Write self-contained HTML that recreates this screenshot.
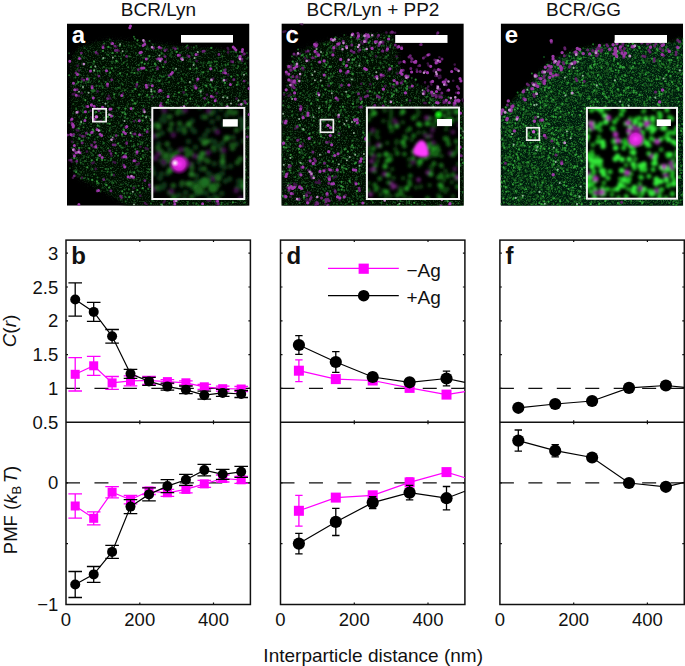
<!DOCTYPE html><html><head><meta charset="utf-8"><style>html,body{margin:0;padding:0;background:#fff;overflow:hidden}svg{display:block}text{font-family:"Liberation Sans",sans-serif;fill:#111}</style></head><body><svg width="685" height="666" viewBox="0 0 685 666"><rect width="685" height="666" fill="#fff"/><defs><filter id="bb" x="-50%" y="-50%" width="200%" height="200%"><feGaussianBlur stdDeviation="1.6"/></filter><filter id="hz" x="-10%" y="-10%" width="120%" height="120%"><feGaussianBlur stdDeviation="2.5"/></filter><filter id="dotblur" x="-5%" y="-5%" width="110%" height="110%"><feGaussianBlur stdDeviation="0.65"/></filter><filter id="graina" x="0" y="0" width="1" height="1" color-interpolation-filters="sRGB"><feTurbulence type="fractalNoise" baseFrequency="0.8" numOctaves="2" seed="5"/><feColorMatrix type="matrix" values="0 0 0 0 0.3 0 0 0 0 0.7 0 0 0 0 0.38 1.3 0 0 0 -0.650"/><feGaussianBlur stdDeviation="0.7"/></filter><filter id="grainc" x="0" y="0" width="1" height="1" color-interpolation-filters="sRGB"><feTurbulence type="fractalNoise" baseFrequency="0.8" numOctaves="2" seed="6"/><feColorMatrix type="matrix" values="0 0 0 0 0.3 0 0 0 0 0.7 0 0 0 0 0.38 1.4 0 0 0 -0.700"/><feGaussianBlur stdDeviation="0.7"/></filter><filter id="graine" x="0" y="0" width="1" height="1" color-interpolation-filters="sRGB"><feTurbulence type="fractalNoise" baseFrequency="0.8" numOctaves="2" seed="7"/><feColorMatrix type="matrix" values="0 0 0 0 0.25 0 0 0 0 0.8 0 0 0 0 0.3 1.7 0 0 0 -0.816"/><feGaussianBlur stdDeviation="0.7"/></filter><filter id="insblur" x="-5%" y="-5%" width="110%" height="110%"><feGaussianBlur stdDeviation="1.5"/></filter><clipPath id="clipa"><rect x="67.0" y="23.5" width="182.5" height="182.2"/></clipPath><clipPath id="iclipa"><rect x="151.3" y="106.9" width="94.0" height="93.1"/></clipPath><clipPath id="clipc"><rect x="281.4" y="23.4" width="182.4" height="182.3"/></clipPath><clipPath id="iclipc"><rect x="365.9" y="106.6" width="94.1" height="93.4"/></clipPath><clipPath id="clipe"><rect x="500.7" y="23.4" width="182.4" height="182.3"/></clipPath><clipPath id="iclipe"><rect x="585.9" y="106.9" width="92.1" height="92.8"/></clipPath></defs><defs><radialGradient id="bm"><stop offset="0" stop-color="#ff30ff"/><stop offset="0.55" stop-color="#e020e0" stop-opacity="0.9"/><stop offset="1" stop-color="#a000a0" stop-opacity="0"/></radialGradient><radialGradient id="bw"><stop offset="0" stop-color="#fff"/><stop offset="1" stop-color="#fff" stop-opacity="0"/></radialGradient><radialGradient id="bg"><stop offset="0" stop-color="#20ff20"/><stop offset="0.5" stop-color="#10d010" stop-opacity="0.8"/><stop offset="1" stop-color="#008000" stop-opacity="0"/></radialGradient></defs><g clip-path="url(#clipa)"><rect x="67.0" y="23.5" width="182.5" height="182.2" fill="#000"/><mask id="cellma" maskUnits="userSpaceOnUse" x="62.0" y="18.5" width="192.5" height="192.2"><path d="M70.0 63.5 L73.0 54.5 L79.0 47.5 L88.0 44.5 L97.0 41.5 L109.0 39.5 L137.0 41.5 L167.0 44.5 L197.0 47.5 L239.0 50.5 L247.0 57.5 L249.0 113.5 L248.0 206.5 L127.0 206.5 L117.0 199.5 L107.0 193.5 L96.0 187.5 L85.0 181.5 L77.0 177.5 L72.0 167.5Z" fill="#fff" filter="url(#hz)"/></mask><path d="M70.0 63.5 L73.0 54.5 L79.0 47.5 L88.0 44.5 L97.0 41.5 L109.0 39.5 L137.0 41.5 L167.0 44.5 L197.0 47.5 L239.0 50.5 L247.0 57.5 L249.0 113.5 L248.0 206.5 L127.0 206.5 L117.0 199.5 L107.0 193.5 L96.0 187.5 L85.0 181.5 L77.0 177.5 L72.0 167.5Z" fill="#051006" filter="url(#hz)"/><rect x="67.0" y="23.5" width="182.5" height="182.2" filter="url(#graina)" mask="url(#cellma)"/><g filter="url(#dotblur)"><path d="M109.8 39.4h0M145.4 42.1h0M137.3 44.0h0M152.9 44.6h0M124.1 46.0h0M128.7 45.6h0M131.3 46.1h0M196.3 45.9h0M135.3 47.3h0M147.5 47.3h0M84.5 47.9h0M110.4 47.7h0M164.4 48.4h0M211.6 47.7h0M148.3 49.3h0M155.6 50.4h0M158.4 49.6h0M170.8 50.1h0M174.8 50.3h0M88.2 51.0h0M223.8 51.2h0M94.3 51.7h0M126.2 51.6h0M140.8 51.8h0M171.4 52.4h0M231.1 51.8h0M233.8 51.8h0M69.1 53.2h0M121.3 53.0h0M135.9 53.1h0M179.8 52.9h0M181.2 52.8h0M191.9 53.5h0M246.9 53.1h0M106.8 54.3h0M170.5 54.3h0M205.1 53.6h0M137.8 55.0h0M164.3 54.7h0M192.4 55.2h0M241.6 55.2h0M128.6 56.2h0M170.1 55.6h0M171.6 56.5h0M195.7 55.6h0M78.7 57.0h0M82.1 56.8h0M187.7 56.5h0M248.0 57.4h0M84.2 58.3h0M104.9 57.9h0M142.9 57.8h0M144.8 57.7h0M147.8 58.4h0M218.5 57.7h0M157.2 59.2h0M247.3 58.8h0M190.0 59.6h0M196.2 60.5h0M127.2 60.6h0M178.1 60.6h0M113.0 61.6h0M140.7 62.5h0M160.7 62.2h0M181.2 61.5h0M188.5 61.6h0M190.5 61.6h0M193.2 62.2h0M210.2 62.4h0M210.6 62.2h0M88.0 62.7h0M111.7 62.8h0M155.3 63.2h0M201.2 62.8h0M203.6 62.9h0M209.9 63.3h0M238.7 62.6h0M241.3 63.3h0M93.7 64.1h0M121.9 64.3h0M127.3 64.1h0M227.7 64.4h0M164.3 64.6h0M203.1 65.2h0M233.0 65.2h0M215.3 66.3h0M221.8 65.5h0M234.3 65.6h0M150.6 67.0h0M246.7 67.4h0M109.5 68.5h0M173.5 68.3h0M77.4 69.4h0M77.7 69.0h0M106.3 68.7h0M133.8 68.6h0M139.0 68.6h0M194.2 68.9h0M233.6 69.4h0M244.6 69.1h0M80.6 69.8h0M132.4 70.2h0M113.6 71.1h0M150.6 70.6h0M196.8 71.8h0M201.4 72.1h0M137.7 73.2h0M137.3 72.9h0M140.4 72.8h0M155.1 72.8h0M178.3 72.7h0M196.2 72.5h0M202.1 72.7h0M223.4 72.7h0M242.8 72.6h0M109.4 73.7h0M117.9 74.5h0M182.9 74.2h0M200.6 74.3h0M241.6 74.2h0M95.4 74.6h0M165.6 75.2h0M171.3 75.3h0M186.3 75.0h0M109.8 75.9h0M122.0 76.1h0M153.5 75.9h0M88.0 77.2h0M172.8 77.1h0M204.4 77.3h0M223.9 77.0h0M149.4 77.5h0M173.5 78.2h0M221.7 78.2h0M237.6 78.5h0M166.6 79.2h0M223.7 78.7h0M125.6 79.8h0M148.7 80.2h0M154.5 79.8h0M158.2 79.9h0M160.6 80.1h0M207.2 79.9h0M208.5 80.4h0M222.9 80.3h0M118.8 80.7h0M157.4 81.0h0M183.2 81.2h0M222.4 81.2h0M81.6 81.8h0M90.1 82.3h0M109.8 81.8h0M184.9 82.5h0M216.8 82.3h0M85.8 82.9h0M121.8 83.2h0M132.4 83.2h0M150.7 83.4h0M190.4 83.3h0M247.9 82.9h0M101.5 83.8h0M162.8 84.0h0M238.6 84.2h0M75.2 85.0h0M80.7 84.9h0M80.9 85.4h0M152.4 84.7h0M202.9 84.6h0M224.6 85.2h0M90.9 86.2h0M102.4 86.1h0M139.1 86.3h0M193.2 85.9h0M196.6 86.2h0M210.9 86.3h0M193.4 87.3h0M216.1 86.8h0M244.1 87.2h0M82.9 88.1h0M120.1 88.1h0M214.4 87.7h0M115.4 88.7h0M117.0 88.9h0M199.0 88.5h0M73.6 89.9h0M94.6 90.3h0M125.6 90.0h0M202.8 89.6h0M122.4 90.6h0M143.4 91.0h0M199.4 91.0h0M84.9 92.1h0M91.9 91.6h0M97.1 91.7h0M218.3 91.8h0M222.3 92.0h0M102.7 93.8h0M102.0 94.4h0M119.2 94.3h0M140.5 94.4h0M184.4 94.5h0M185.9 94.2h0M200.7 93.8h0M239.7 93.6h0M130.4 95.0h0M139.4 95.1h0M192.3 94.8h0M114.1 96.4h0M123.3 96.5h0M146.6 96.4h0M159.2 96.1h0M167.9 96.4h0M216.3 96.4h0M224.9 96.1h0M225.9 96.3h0M239.7 95.7h0M92.8 96.6h0M92.5 96.9h0M155.8 96.5h0M178.9 97.2h0M83.5 98.5h0M114.6 98.1h0M163.5 98.1h0M149.8 99.4h0M206.7 99.1h0M215.6 99.5h0M246.8 99.4h0M178.2 99.7h0M238.5 100.3h0M171.2 101.3h0M196.2 100.6h0M108.0 102.3h0M137.2 101.8h0M244.1 102.1h0M245.1 101.9h0M149.4 103.1h0M160.1 102.8h0M168.4 103.4h0M177.1 103.0h0M219.4 102.9h0M221.8 103.3h0M73.4 104.1h0M128.3 104.0h0M132.8 104.1h0M185.1 103.9h0M195.0 104.3h0M205.5 104.5h0M220.7 104.3h0M236.4 103.9h0M112.1 104.7h0M113.4 104.9h0M161.4 104.7h0M221.9 105.3h0M82.4 105.7h0M108.3 106.0h0M127.4 105.9h0M197.3 105.6h0M156.3 107.4h0M161.8 106.7h0M83.9 107.5h0M161.8 108.3h0M168.7 108.4h0M161.4 109.0h0M176.7 108.7h0M186.4 108.5h0M218.0 108.5h0M82.6 110.3h0M104.8 109.9h0M159.0 111.4h0M158.4 110.9h0M176.6 111.1h0M190.5 110.8h0M226.5 110.7h0M236.8 111.2h0M237.9 111.3h0M138.1 112.3h0M73.0 113.4h0M124.4 113.4h0M125.4 113.4h0M135.1 113.1h0M156.7 113.4h0M196.8 112.9h0M169.5 114.0h0M176.4 114.0h0M111.3 114.5h0M162.2 115.3h0M138.9 115.9h0M146.5 115.7h0M186.3 116.4h0M210.3 116.0h0M215.7 116.3h0M79.2 116.7h0M120.0 117.0h0M133.2 117.2h0M148.3 116.6h0M152.9 116.5h0M188.8 117.1h0M125.0 117.9h0M145.7 118.0h0M169.0 117.6h0M188.6 118.3h0M213.3 117.9h0M224.5 118.5h0M140.0 119.5h0M227.7 118.8h0M111.4 120.1h0M215.0 120.3h0M226.5 119.6h0M240.8 119.6h0M241.3 120.0h0M81.2 121.2h0M151.2 120.5h0M163.1 121.2h0M199.7 120.6h0M244.8 121.3h0M147.5 122.4h0M176.3 122.1h0M218.8 121.5h0M69.3 122.8h0M80.5 123.3h0M99.5 123.3h0M103.3 123.2h0M118.7 122.9h0M131.3 122.6h0M91.1 123.9h0M166.7 123.8h0M205.1 123.9h0M215.5 123.5h0M134.8 125.3h0M164.1 124.6h0M206.6 125.2h0M239.8 125.0h0M115.2 126.0h0M120.8 126.1h0M139.2 126.1h0M147.7 125.9h0M181.5 125.7h0M194.5 126.3h0M224.6 125.8h0M231.0 126.5h0M110.4 127.4h0M151.7 126.6h0M180.7 126.8h0M188.4 127.1h0M195.6 127.4h0M201.7 126.7h0M223.7 127.1h0M232.2 126.6h0M239.1 126.9h0M248.2 127.0h0M140.3 128.0h0M151.9 127.7h0M168.6 127.9h0M219.9 128.3h0M76.8 129.2h0M109.8 129.0h0M193.3 128.6h0M98.4 129.8h0M156.1 129.7h0M185.5 130.3h0M202.2 129.5h0M204.8 129.5h0M213.2 129.9h0M206.3 131.5h0M115.6 131.6h0M132.1 133.9h0M199.1 133.6h0M114.0 135.1h0M203.0 134.6h0M220.3 134.5h0M84.1 136.1h0M122.2 135.9h0M180.4 135.6h0M200.2 135.7h0M216.7 135.5h0M213.1 138.2h0M222.7 137.6h0M94.9 139.4h0M146.7 139.2h0M151.4 138.9h0M124.0 139.9h0M109.2 140.7h0M127.0 141.3h0M139.4 141.2h0M141.0 142.0h0M180.8 142.1h0M77.8 143.5h0M232.5 142.9h0M103.9 143.6h0M154.6 144.4h0M158.3 144.9h0M170.2 145.3h0M85.7 146.0h0M120.1 146.0h0M175.8 145.7h0M225.9 146.0h0M234.3 145.8h0M189.8 146.6h0M190.6 146.8h0M218.9 147.2h0M220.2 147.2h0M71.7 147.7h0M73.6 148.2h0M81.5 147.7h0M101.8 147.8h0M198.5 148.3h0M222.8 148.4h0M127.3 149.4h0M146.2 149.4h0M209.1 149.0h0M180.6 150.2h0M103.8 150.5h0M138.7 150.8h0M173.7 151.0h0M178.5 151.1h0M206.9 151.0h0M210.2 151.0h0M174.8 152.1h0M219.8 152.5h0M91.3 153.1h0M199.0 153.2h0M145.2 154.5h0M230.5 154.4h0M93.3 154.9h0M124.8 155.3h0M135.2 155.1h0M142.9 154.9h0M74.2 155.8h0M84.1 156.1h0M92.0 155.6h0M114.8 156.1h0M165.6 155.5h0M176.4 156.1h0M179.5 155.8h0M204.0 155.8h0M238.3 156.1h0M240.5 156.6h0M246.4 156.9h0M76.3 158.4h0M83.4 158.1h0M126.9 158.5h0M150.5 157.8h0M175.3 158.4h0M219.8 158.4h0M71.5 159.5h0M168.8 159.4h0M80.5 160.0h0M198.7 159.6h0M108.2 160.7h0M188.2 160.9h0M209.1 161.3h0M243.3 160.5h0M183.1 161.6h0M217.7 161.7h0M236.6 161.8h0M237.5 162.2h0M91.0 162.6h0M92.4 162.9h0M143.4 163.5h0M83.3 164.2h0M137.0 163.9h0M172.8 164.9h0M180.2 165.1h0M201.9 165.5h0M218.5 165.0h0M125.5 165.8h0M136.1 165.8h0M157.8 166.3h0M218.7 165.7h0M226.8 166.1h0M125.9 166.6h0M137.3 167.3h0M70.0 168.3h0M135.5 168.3h0M148.1 169.1h0M183.9 169.2h0M184.4 169.1h0M237.7 168.6h0M75.5 169.9h0M171.5 169.8h0M74.2 171.0h0M76.6 170.7h0M101.7 171.1h0M137.7 170.5h0M189.2 170.6h0M81.1 172.1h0M107.2 172.3h0M111.1 172.2h0M139.0 171.5h0M141.8 171.6h0M169.3 171.6h0M197.0 172.3h0M245.2 172.4h0M111.5 173.3h0M124.8 173.4h0M127.4 173.0h0M131.9 172.6h0M201.4 173.1h0M78.0 173.8h0M79.7 174.4h0M200.8 174.1h0M87.7 175.2h0M185.9 174.8h0M243.4 174.8h0M205.7 175.7h0M236.7 176.1h0M152.2 176.8h0M230.2 177.3h0M244.9 176.6h0M165.2 177.6h0M165.2 178.0h0M180.1 178.0h0M194.6 177.8h0M207.2 177.8h0M248.4 177.6h0M107.0 179.4h0M127.5 178.8h0M146.7 178.6h0M183.7 178.9h0M234.3 179.2h0M109.3 180.4h0M134.0 179.7h0M136.6 179.6h0M140.0 180.4h0M152.0 180.0h0M161.1 180.4h0M209.8 179.9h0M216.5 179.7h0M230.5 180.2h0M232.9 180.0h0M96.7 180.9h0M112.3 181.2h0M160.1 181.3h0M192.6 181.2h0M111.7 182.2h0M115.3 181.6h0M233.1 182.1h0M98.9 183.4h0M200.2 182.5h0M105.0 183.9h0M120.8 184.4h0M121.9 184.5h0M125.7 183.6h0M171.1 183.8h0M196.0 183.9h0M224.8 183.7h0M127.5 184.9h0M163.3 184.6h0M222.6 185.4h0M135.1 185.9h0M216.1 185.8h0M102.8 187.4h0M221.6 188.2h0M218.9 189.4h0M96.7 190.1h0M107.4 190.3h0M152.0 190.1h0M152.1 189.5h0M199.8 190.1h0M234.5 189.9h0M100.4 191.4h0M145.6 190.7h0M193.8 190.7h0M225.3 190.9h0M186.1 192.4h0M187.6 191.9h0M197.9 192.0h0M127.3 193.1h0M156.2 192.9h0M169.8 193.2h0M186.6 192.6h0M238.3 193.0h0M214.5 194.3h0M134.9 194.5h0M184.7 195.0h0M233.5 195.3h0M235.5 195.0h0M124.6 196.3h0M136.1 195.8h0M155.5 196.4h0M176.1 195.6h0M196.2 195.9h0M199.7 196.0h0M228.9 195.8h0M234.8 196.3h0M187.2 197.0h0M221.0 197.5h0M157.1 198.2h0M204.5 197.8h0M218.2 197.8h0M137.7 198.6h0M190.6 199.3h0M213.6 198.8h0M120.7 199.8h0M134.2 200.4h0M134.4 200.5h0M175.6 200.4h0M239.1 199.8h0M240.7 199.9h0M243.3 199.9h0M152.3 200.7h0M209.1 201.3h0M193.6 203.1h0M216.8 202.9h0M227.3 203.4h0M243.8 202.9h0M196.0 204.3h0M227.9 203.9h0M169.5 205.4h0M224.8 204.6h0M187.2 206.3h0M205.5 205.5h0" stroke="#154a1c" stroke-width="2.0" stroke-linecap="round"/><path d="M133.9 36.8h0M134.8 38.8h0M149.6 41.1h0M144.9 43.4h0M104.1 43.8h0M139.9 45.7h0M187.3 45.5h0M186.3 46.8h0M193.8 47.5h0M146.5 49.1h0M177.4 48.6h0M236.1 52.0h0M240.0 52.0h0M117.1 52.6h0M139.8 53.4h0M161.7 53.0h0M81.1 54.2h0M161.7 53.8h0M108.3 55.0h0M124.0 55.2h0M141.0 55.3h0M115.1 56.1h0M129.9 56.4h0M222.3 56.3h0M237.7 55.9h0M120.9 58.4h0M102.7 58.9h0M147.8 58.6h0M158.6 60.8h0M214.8 61.5h0M216.6 61.4h0M209.0 61.8h0M123.7 62.8h0M207.9 63.2h0M211.6 62.5h0M148.1 63.6h0M194.0 63.8h0M216.9 64.5h0M225.4 64.4h0M228.0 64.3h0M245.0 63.7h0M138.8 65.1h0M155.8 65.2h0M225.6 65.4h0M238.3 66.3h0M103.9 66.9h0M115.6 67.4h0M128.2 67.3h0M216.7 68.0h0M237.2 68.2h0M152.7 69.4h0M94.3 69.8h0M146.2 70.0h0M214.6 70.2h0M223.4 69.7h0M94.1 71.1h0M97.6 70.9h0M99.6 71.1h0M174.7 70.6h0M208.2 71.4h0M220.3 71.2h0M131.7 72.6h0M77.8 73.6h0M79.4 74.4h0M228.3 73.9h0M246.2 73.5h0M69.1 75.2h0M127.1 74.5h0M237.5 75.0h0M237.7 75.3h0M159.8 75.6h0M161.6 76.5h0M75.5 77.5h0M163.7 76.6h0M82.3 77.7h0M94.3 78.4h0M89.1 78.9h0M151.8 79.0h0M181.5 78.5h0M192.7 79.4h0M88.8 80.0h0M181.8 79.8h0M81.9 80.9h0M99.2 81.2h0M151.5 80.9h0M223.5 80.8h0M81.1 82.3h0M88.1 82.2h0M105.8 81.9h0M169.1 82.0h0M237.7 82.3h0M178.2 83.2h0M76.9 83.7h0M122.8 84.4h0M205.2 85.3h0M96.4 86.0h0M99.6 86.2h0M185.5 87.1h0M211.8 87.4h0M227.7 87.4h0M102.7 87.7h0M118.8 87.7h0M93.2 89.4h0M92.0 90.4h0M124.7 90.3h0M192.1 90.3h0M94.4 90.7h0M132.5 91.1h0M151.9 91.5h0M199.5 90.8h0M212.0 90.7h0M93.0 91.8h0M168.8 94.0h0M174.6 94.0h0M151.4 94.6h0M152.2 94.5h0M186.7 94.5h0M123.1 95.6h0M173.7 96.2h0M201.0 95.8h0M149.2 97.3h0M186.1 100.4h0M244.5 100.2h0M185.8 100.8h0M187.4 103.2h0M242.9 103.4h0M227.1 104.2h0M242.0 104.3h0M205.1 105.2h0M213.8 105.3h0M143.4 106.1h0M198.8 106.4h0M118.8 108.5h0M118.9 107.6h0M118.5 107.7h0M165.5 108.3h0M76.1 109.1h0M182.2 108.8h0M219.0 109.4h0M224.3 108.7h0M152.2 109.5h0M212.1 109.5h0M215.6 110.7h0M83.1 112.2h0M88.8 111.9h0M124.3 112.0h0M151.9 111.5h0M100.7 112.9h0M192.0 112.6h0M194.7 113.3h0M136.0 114.1h0M207.3 113.9h0M217.0 113.7h0M241.0 114.4h0M113.3 116.0h0M164.1 115.5h0M104.1 117.5h0M125.0 117.3h0M127.4 118.4h0M153.5 118.0h0M149.8 118.5h0M104.8 120.0h0M135.5 120.2h0M221.4 120.1h0M232.2 120.4h0M187.7 122.5h0M218.9 122.5h0M83.6 123.4h0M80.1 124.4h0M107.9 123.6h0M182.8 124.3h0M242.0 124.2h0M73.7 125.1h0M121.7 125.2h0M99.5 126.4h0M157.8 126.4h0M83.5 127.2h0M232.1 128.3h0M162.1 128.6h0M248.1 128.5h0M233.8 129.9h0M100.4 130.6h0M109.5 130.8h0M221.0 132.1h0M131.2 133.5h0M176.0 133.2h0M189.7 132.9h0M193.5 132.9h0M122.0 134.4h0M110.8 136.3h0M118.1 135.6h0M173.6 136.3h0M83.3 137.3h0M97.6 137.3h0M138.3 136.6h0M88.6 138.0h0M183.9 138.0h0M185.4 138.2h0M185.5 138.0h0M193.2 138.2h0M210.3 138.0h0M244.6 138.2h0M194.7 139.5h0M203.2 139.4h0M229.7 139.3h0M83.3 140.3h0M176.5 140.1h0M215.0 139.7h0M131.0 140.7h0M161.5 140.8h0M182.8 141.4h0M228.9 140.5h0M232.9 140.9h0M73.2 142.3h0M103.7 142.9h0M142.5 142.8h0M177.0 142.9h0M138.2 144.3h0M140.7 144.3h0M217.0 144.0h0M134.0 145.3h0M147.5 145.4h0M119.9 145.7h0M133.2 146.2h0M221.2 146.4h0M121.6 147.4h0M232.4 146.7h0M96.9 147.9h0M108.2 148.2h0M122.6 147.8h0M212.6 148.2h0M217.3 148.1h0M135.3 149.2h0M238.5 148.7h0M157.7 149.6h0M202.8 149.7h0M93.4 150.7h0M171.0 151.3h0M205.9 150.7h0M239.7 151.5h0M135.4 152.3h0M151.2 152.1h0M160.6 151.8h0M197.4 151.6h0M161.6 153.1h0M161.3 153.6h0M98.0 155.4h0M99.4 155.7h0M118.1 155.7h0M231.3 156.3h0M88.4 157.2h0M143.4 157.3h0M189.0 157.3h0M238.9 156.7h0M97.8 157.9h0M111.3 158.4h0M188.3 158.0h0M212.6 158.1h0M184.4 158.9h0M77.1 160.1h0M104.9 159.9h0M110.6 160.3h0M237.6 160.4h0M85.0 161.1h0M167.8 161.2h0M180.1 161.1h0M244.8 161.2h0M80.8 162.8h0M173.3 163.5h0M197.2 164.6h0M176.8 165.8h0M239.1 165.7h0M239.3 167.1h0M110.9 168.2h0M92.3 169.0h0M105.6 168.9h0M108.2 169.1h0M239.1 168.6h0M149.5 169.5h0M107.8 171.5h0M158.4 171.0h0M130.0 172.0h0M148.0 171.9h0M189.6 172.1h0M195.1 172.7h0M94.3 174.2h0M111.2 175.1h0M111.8 174.5h0M190.0 175.4h0M229.0 174.9h0M97.5 177.5h0M205.9 177.5h0M220.6 176.8h0M244.3 177.1h0M80.9 178.5h0M84.0 178.2h0M132.2 178.1h0M232.3 177.6h0M232.4 178.3h0M244.3 177.6h0M88.4 179.1h0M155.9 180.3h0M172.1 180.5h0M188.7 181.6h0M218.0 181.8h0M97.5 183.2h0M98.3 183.0h0M113.1 182.9h0M155.2 182.9h0M189.4 182.7h0M200.0 184.0h0M171.5 184.7h0M214.0 184.9h0M130.8 186.0h0M138.6 185.7h0M193.1 186.2h0M133.5 186.9h0M178.7 186.9h0M240.1 187.5h0M244.0 186.8h0M171.1 188.1h0M178.3 187.6h0M184.0 188.5h0M212.7 188.4h0M223.9 188.3h0M128.9 189.5h0M148.3 189.1h0M192.7 188.7h0M124.5 189.6h0M197.5 189.9h0M139.9 192.4h0M157.8 191.7h0M204.7 192.4h0M225.7 191.7h0M243.7 191.6h0M170.3 192.8h0M171.0 192.8h0M176.3 193.0h0M236.0 192.6h0M124.2 193.6h0M130.5 193.6h0M228.5 193.9h0M161.6 194.5h0M171.8 194.7h0M218.1 194.8h0M226.2 195.0h0M220.4 195.7h0M125.5 197.0h0M153.0 197.1h0M202.2 197.1h0M219.4 198.1h0M171.3 200.0h0M179.0 200.1h0M218.6 199.5h0M214.7 201.4h0M125.7 201.6h0M177.2 201.6h0M187.9 202.0h0M245.1 202.4h0M151.0 203.5h0M169.3 203.0h0M196.6 203.4h0M221.7 202.8h0M187.6 204.0h0M202.8 205.4h0M221.3 204.6h0M145.5 206.0h0M181.0 205.8h0" stroke="#206a28" stroke-width="2.0" stroke-linecap="round"/><path d="M137.5 40.3h0M119.7 45.8h0M108.4 46.9h0M211.2 48.0h0M103.0 51.0h0M176.6 51.9h0M112.5 53.0h0M149.4 56.2h0M182.6 57.6h0M241.4 60.4h0M116.2 60.8h0M116.8 61.4h0M94.1 61.6h0M142.0 62.5h0M144.7 63.8h0M154.9 63.9h0M210.3 65.7h0M91.0 67.1h0M163.2 67.0h0M111.9 68.3h0M196.6 68.3h0M190.2 68.9h0M221.2 70.9h0M203.3 72.3h0M110.2 72.6h0M120.1 73.4h0M134.5 73.0h0M168.9 76.9h0M231.3 76.6h0M159.5 81.1h0M212.2 80.6h0M78.3 82.1h0M137.3 82.3h0M225.0 82.9h0M148.3 85.2h0M210.3 84.6h0M236.9 84.8h0M206.4 85.9h0M135.3 88.9h0M185.7 90.1h0M201.0 90.4h0M215.5 89.6h0M154.5 91.5h0M179.0 92.5h0M114.2 94.3h0M139.2 94.6h0M147.2 95.0h0M153.0 97.4h0M92.8 97.8h0M190.3 98.8h0M85.3 100.1h0M99.3 100.5h0M132.3 100.3h0M168.1 99.8h0M166.6 102.4h0M208.4 102.4h0M134.6 103.4h0M135.5 103.6h0M247.1 103.8h0M133.4 108.4h0M125.3 108.7h0M133.1 108.7h0M224.4 109.2h0M77.9 111.5h0M96.1 112.0h0M122.4 112.5h0M125.3 114.2h0M190.1 114.4h0M243.9 114.3h0M108.8 114.7h0M142.7 115.8h0M176.3 116.1h0M107.9 116.8h0M195.3 116.7h0M85.9 117.7h0M205.4 120.0h0M142.7 120.7h0M206.8 120.8h0M163.3 122.4h0M229.1 121.8h0M109.8 123.8h0M166.9 124.0h0M174.9 124.8h0M97.8 125.7h0M191.6 125.9h0M78.8 128.7h0M147.7 129.0h0M244.9 129.1h0M92.9 129.6h0M123.6 129.7h0M124.1 130.4h0M144.8 129.8h0M191.7 129.6h0M93.5 131.1h0M222.6 131.2h0M231.2 131.9h0M242.3 132.5h0M213.0 133.3h0M87.8 134.2h0M122.1 134.4h0M184.8 133.9h0M90.0 134.9h0M73.6 135.9h0M132.3 136.3h0M184.1 135.8h0M164.1 137.1h0M209.3 137.7h0M79.3 138.8h0M234.9 139.0h0M81.5 140.9h0M118.1 143.5h0M115.5 145.3h0M159.6 144.8h0M79.1 148.0h0M89.3 148.3h0M237.8 148.0h0M229.4 149.6h0M142.7 151.0h0M172.3 151.7h0M205.4 152.0h0M115.7 153.1h0M122.8 153.0h0M125.9 153.8h0M194.5 154.9h0M226.7 156.2h0M243.6 155.6h0M74.2 158.1h0M140.9 158.9h0M91.7 160.4h0M96.9 159.7h0M102.1 160.0h0M155.3 160.6h0M210.6 161.9h0M185.3 162.5h0M137.1 164.6h0M185.0 165.6h0M87.3 167.3h0M194.7 167.4h0M186.3 170.0h0M244.9 170.0h0M191.9 170.8h0M76.1 172.1h0M134.2 172.4h0M189.9 173.9h0M238.7 174.0h0M112.2 174.8h0M220.5 176.4h0M153.0 178.2h0M235.6 178.2h0M92.2 179.9h0M97.0 181.6h0M212.0 182.9h0M106.3 184.9h0M154.4 185.3h0M192.4 185.3h0M155.2 185.6h0M225.3 186.7h0M109.1 187.6h0M142.8 188.2h0M137.3 190.0h0M122.2 191.3h0M204.5 191.7h0M217.0 194.0h0M180.5 195.0h0M129.2 197.2h0M232.9 202.3h0M161.3 204.6h0M198.4 205.6h0M207.5 206.3h0" stroke="#309038" stroke-width="2.2" stroke-linecap="round"/><path d="M111.5 43.7h0M120.1 44.3h0M122.6 51.3h0M197.8 52.1h0M159.4 55.4h0M112.9 57.5h0M103.3 58.0h0M194.6 58.0h0M193.6 65.1h0M95.3 66.5h0M176.1 68.8h0M224.7 70.4h0M94.2 70.5h0M244.0 74.7h0M189.9 81.9h0M83.0 86.9h0M151.3 89.4h0M79.0 91.8h0M151.3 91.6h0M200.7 91.7h0M88.6 92.8h0M223.1 97.2h0M227.3 97.7h0M238.5 100.4h0M105.5 103.8h0M231.0 103.6h0M208.0 115.2h0M146.1 117.1h0M236.3 119.5h0M124.5 121.1h0M81.2 121.9h0M181.3 127.4h0M126.4 127.6h0M130.5 132.9h0M212.1 135.0h0M175.2 136.0h0M112.8 137.6h0M165.3 147.6h0M218.0 158.7h0M244.5 167.0h0M241.7 190.6h0M132.8 191.8h0M192.6 197.8h0M166.8 198.8h0M134.0 204.6h0M162.3 205.5h0" stroke="#8aa890" stroke-width="2.0" stroke-linecap="round"/><path d="M103.4 45.5h0M116.2 46.7h0M152.5 47.0h0M173.5 47.8h0M187.8 47.7h0M228.3 49.3h0M118.7 50.7h0M228.0 52.4h0M97.6 53.8h0M243.1 54.5h0M187.5 55.5h0M197.8 54.5h0M196.7 61.1h0M231.3 61.4h0M242.2 60.9h0M77.6 65.7h0M141.6 67.7h0M79.0 70.6h0M170.9 74.4h0M228.0 74.6h0M226.2 80.0h0M197.0 80.6h0M149.0 85.3h0M136.3 86.8h0M196.7 87.5h0M97.6 91.4h0M183.6 92.4h0M81.7 93.0h0M216.8 93.2h0M72.8 94.3h0M123.0 93.5h0M207.0 94.8h0M78.4 96.0h0M78.9 95.9h0M108.7 95.7h0M152.3 96.5h0M236.6 98.6h0M239.1 104.7h0M86.2 106.4h0M93.8 106.0h0M105.0 108.0h0M155.2 108.0h0M90.6 110.7h0M218.3 110.9h0M193.1 111.9h0M197.3 115.0h0M209.1 115.7h0M236.7 115.8h0M91.5 117.6h0M178.3 118.6h0M100.8 121.1h0M134.1 121.2h0M184.2 125.3h0M78.2 130.5h0M147.3 130.7h0M133.2 134.1h0M79.9 135.1h0M141.9 135.2h0M84.8 136.3h0M223.6 136.0h0M178.6 138.3h0M113.5 138.7h0M227.0 139.4h0M236.9 138.7h0M154.3 139.9h0M236.3 141.0h0M72.2 141.7h0M140.4 146.8h0M145.7 148.0h0M187.5 149.2h0M215.6 149.6h0M86.9 151.6h0M73.8 154.5h0M111.5 155.7h0M245.1 158.7h0M69.4 160.2h0M93.6 162.6h0M115.1 162.8h0M242.7 163.0h0M136.8 164.4h0M186.4 168.3h0M95.7 168.9h0M224.6 170.1h0M238.3 171.4h0M185.9 172.2h0M113.8 175.1h0M81.9 177.7h0M132.6 177.8h0M133.7 188.1h0M164.5 190.3h0M152.3 191.6h0M140.3 195.8h0M164.7 200.9h0M209.8 200.7h0M216.1 201.3h0M146.5 204.5h0M111.6 42.7h0M227.7 48.1h0M117.5 50.1h0M166.7 49.5h0M157.6 67.1h0M82.0 78.9h0M213.2 78.8h0M74.6 93.6h0M109.9 98.4h0M215.8 99.3h0M94.8 108.1h0M226.0 107.4h0M182.4 108.7h0M237.0 109.8h0M192.5 110.6h0M207.5 115.1h0M97.3 116.8h0M235.6 119.6h0M72.3 123.2h0M210.2 127.1h0M76.9 130.2h0M236.3 136.3h0M126.7 142.3h0M93.2 147.0h0M147.5 149.1h0M73.7 150.8h0M207.4 154.5h0M122.0 157.5h0M71.7 161.6h0M92.3 163.2h0M113.6 162.0h0M152.8 163.5h0M138.8 163.4h0M226.1 170.6h0M72.9 177.7h0M214.4 180.8h0M149.6 186.9h0M163.7 202.5h0M207.5 200.5h0M216.6 205.0h0M144.9 203.1h0" stroke="#3e1244" stroke-width="2.6" stroke-linecap="round"/><path d="M144.2 41.7h0M160.9 48.1h0M115.3 50.5h0M165.0 50.7h0M202.9 51.5h0M81.4 53.1h0M218.9 54.5h0M126.6 56.4h0M165.2 56.6h0M239.3 57.8h0M165.4 61.9h0M157.5 68.9h0M138.3 69.6h0M225.1 70.0h0M223.4 72.7h0M98.9 76.1h0M169.2 75.6h0M83.9 80.2h0M111.7 79.8h0M233.9 79.7h0M244.2 81.1h0M107.5 86.0h0M194.9 86.0h0M92.1 86.5h0M161.3 91.0h0M158.9 91.7h0M204.6 98.3h0M107.7 98.7h0M244.7 101.3h0M161.1 103.3h0M91.4 105.6h0M160.2 107.7h0M181.1 107.6h0M97.4 108.7h0M143.8 109.8h0M235.7 110.2h0M240.4 109.7h0M98.9 110.8h0M224.3 111.6h0M96.1 116.6h0M199.8 117.3h0M188.0 119.9h0M182.7 120.7h0M227.9 120.8h0M71.9 123.5h0M72.2 125.2h0M172.5 125.4h0M210.0 125.4h0M86.4 133.2h0M73.6 134.4h0M67.6 135.1h0M72.0 135.7h0M116.2 135.6h0M247.3 136.8h0M153.4 137.8h0M94.7 142.3h0M82.2 143.0h0M126.7 143.5h0M228.4 143.9h0M91.6 145.2h0M113.1 144.8h0M96.0 145.9h0M74.0 149.3h0M78.9 150.1h0M109.7 150.8h0M77.6 152.4h0M219.3 154.9h0M125.2 155.6h0M178.1 156.1h0M224.5 157.8h0M71.0 160.1h0M163.7 159.8h0M76.7 161.4h0M154.9 163.3h0M123.8 165.2h0M153.5 167.6h0M174.1 173.4h0M226.3 173.3h0M74.3 175.9h0M131.5 176.1h0M103.8 179.7h0M230.3 179.5h0M144.8 180.6h0M149.3 184.8h0M205.1 184.9h0M110.9 190.9h0M158.1 191.4h0M182.6 192.9h0M120.6 196.2h0M164.3 195.6h0M121.5 197.6h0M177.1 199.9h0M218.4 204.0h0M114.9 46.1h0M153.5 48.3h0M175.5 48.8h0M116.9 50.3h0M204.3 51.1h0M96.0 52.5h0M244.4 54.0h0M179.8 55.3h0M189.1 56.5h0M240.4 56.7h0M157.4 59.1h0M232.7 61.9h0M241.9 59.2h0M76.0 72.9h0M136.9 84.5h0M250.3 86.9h0M77.1 89.7h0M213.2 97.1h0M245.6 103.1h0M162.4 106.7h0M78.0 112.1h0M237.7 117.0h0M71.2 120.1h0M188.4 117.9h0M183.2 121.9h0M193.5 120.5h0M125.8 127.5h0M147.1 131.9h0M91.1 132.8h0M135.0 134.0h0M82.5 136.2h0M176.7 137.2h0M155.0 137.9h0M115.0 145.0h0M74.5 150.9h0M136.9 153.4h0M111.0 153.6h0M135.2 160.8h0M151.7 169.2h0M187.7 168.1h0M241.8 173.4h0M228.2 172.3h0M129.9 177.8h0M166.0 177.7h0M164.6 183.7h0M97.2 191.1h0" stroke="#6a2274" stroke-width="2.8" stroke-linecap="round"/><path d="M129.8 27.8h0M112.6 43.6h0M143.1 45.4h0M233.2 47.1h0M103.0 47.6h0M235.9 49.9h0M242.2 51.5h0M141.3 52.3h0M178.2 55.2h0M79.5 58.5h0M146.3 59.1h0M159.0 58.8h0M161.5 59.0h0M181.6 58.8h0M69.8 61.3h0M143.8 67.9h0M210.6 68.7h0M90.5 71.1h0M106.5 70.8h0M77.5 74.5h0M87.2 78.9h0M73.5 83.3h0M230.4 84.4h0M146.1 85.3h0M152.3 85.8h0M92.1 87.8h0M249.0 88.4h0M74.8 89.8h0M168.1 96.4h0M211.3 96.3h0M93.3 97.9h0M215.2 100.8h0M91.4 104.7h0M94.2 106.2h0M102.5 107.3h0M109.9 109.2h0M131.1 108.6h0M85.4 111.7h0M249.1 114.6h0M72.0 119.1h0M94.2 119.4h0M84.9 120.5h0M139.3 120.7h0M195.1 121.7h0M72.9 124.5h0M73.5 126.0h0M126.8 126.4h0M234.9 127.1h0M156.3 128.8h0M97.0 129.5h0M157.5 130.1h0M191.1 131.1h0M92.1 132.2h0M125.5 133.4h0M100.2 134.2h0M217.2 140.4h0M74.4 145.4h0M217.4 145.8h0M137.1 151.7h0M99.8 155.2h0M208.0 156.2h0M123.9 156.8h0M102.2 157.6h0M134.0 160.7h0M167.9 171.9h0M240.9 171.7h0M188.9 175.1h0M231.3 176.3h0M128.1 176.7h0M168.3 178.3h0M165.9 182.4h0M239.3 183.5h0M164.6 185.3h0M243.4 188.0h0M207.6 190.1h0M98.5 190.5h0M174.5 201.3h0M78.9 204.5h0M174.8 204.2h0M202.6 203.7h0M130.5 26.0h0M144.8 44.3h0M159.1 47.2h0M234.7 48.5h0M242.6 49.5h0M140.0 52.7h0M196.0 54.6h0M240.0 56.6h0M141.6 68.2h0M225.5 72.9h0M172.4 72.4h0M171.2 74.1h0M197.9 79.0h0M146.6 87.3h0M107.5 84.1h0M195.8 87.9h0M159.9 90.3h0M121.7 95.6h0M76.3 95.3h0M160.4 105.4h0M87.8 106.4h0M184.1 108.4h0M111.0 108.9h0M242.6 108.9h0M220.3 109.5h0M224.1 109.5h0M111.5 116.0h0M198.3 113.0h0M200.8 115.0h0M73.2 126.9h0M123.6 132.0h0M101.7 135.4h0M139.6 134.7h0M70.8 134.4h0M95.7 147.1h0M216.7 143.8h0M237.3 149.2h0M76.2 152.7h0M80.0 152.8h0M74.4 156.1h0M219.6 153.4h0M125.8 157.0h0M177.0 154.6h0M222.8 159.6h0M124.8 166.9h0M239.6 172.3h0M133.5 177.3h0M162.6 190.5h0M217.6 201.2h0" stroke="#a038ac" stroke-width="3.0" stroke-linecap="round"/><path d="M152.0 47.2h0M240.0 59.1h0M83.8 64.1h0M211.4 79.9h0M184.1 106.5h0M227.4 106.6h0M196.5 108.0h0M225.5 111.4h0M76.8 112.4h0M144.5 111.9h0M109.5 114.8h0M151.6 119.9h0M235.6 120.8h0M73.2 149.7h0M236.6 151.0h0M78.6 152.0h0M231.2 171.5h0M216.2 181.2h0M223.6 194.1h0M143.4 40.4h0M160.2 60.7h0M182.6 59.8h0M224.0 80.3h0M241.3 104.4h0M98.8 130.6h0M225.1 135.0h0M111.5 139.7h0M131.5 176.2h0M167.9 183.0h0M176.0 200.9h0" stroke="#c088c8" stroke-width="2.6" stroke-linecap="round"/></g></g><g clip-path="url(#iclipa)"><rect x="151.3" y="106.9" width="94.0" height="93.1" fill="#000"/><g filter="url(#insblur)"><path d="M199.9 107.3h0M230.7 107.3h0M163.1 108.8h0M220.9 108.7h0M213.8 111.4h0M182.9 111.9h0M163.9 115.8h0M226.4 115.2h0M170.3 116.4h0M202.8 117.0h0M218.4 118.1h0M161.6 119.7h0M240.5 119.6h0M192.1 120.9h0M244.5 120.5h0M164.4 121.0h0M212.1 121.8h0M156.3 124.6h0M224.2 124.5h0M241.9 124.4h0M244.7 124.3h0M151.9 125.4h0M183.3 127.8h0M214.7 128.9h0M242.5 128.3h0M178.6 129.5h0M192.5 129.5h0M183.7 130.2h0M208.0 130.7h0M194.5 131.6h0M184.3 132.6h0M162.0 133.1h0M205.1 134.9h0M227.9 137.4h0M233.0 137.6h0M201.1 139.3h0M211.3 140.8h0M188.5 141.4h0M243.6 140.9h0M214.8 142.1h0M158.8 143.9h0M222.7 143.1h0M236.2 143.9h0M231.5 144.9h0M218.7 146.0h0M195.5 147.3h0M170.0 149.7h0M214.3 150.0h0M178.0 151.7h0M190.4 151.4h0M194.3 156.1h0M152.5 157.6h0M185.0 158.7h0M239.6 159.8h0M161.5 160.7h0M171.8 161.4h0M172.6 161.5h0M178.8 162.7h0M199.2 162.0h0M163.6 163.9h0M184.7 163.5h0M214.3 163.8h0M179.7 165.1h0M222.1 165.8h0M230.6 166.2h0M224.5 167.2h0M151.8 168.4h0M171.4 168.1h0M200.8 169.1h0M153.7 173.6h0M167.6 173.5h0M208.2 173.2h0M222.3 173.5h0M161.5 174.0h0M209.6 174.4h0M219.2 175.3h0M196.5 176.0h0M214.3 176.8h0M160.0 178.1h0M229.7 178.9h0M209.6 180.0h0M238.9 180.9h0M196.7 181.7h0M201.0 181.5h0M225.5 181.0h0M164.3 184.7h0M181.6 185.3h0M160.8 186.8h0M193.9 186.7h0M239.4 186.0h0M162.9 187.4h0M192.4 187.7h0M237.6 187.3h0M159.0 188.7h0M244.4 189.6h0M185.6 192.6h0M202.2 192.5h0M196.4 193.8h0M206.0 193.1h0M221.7 193.6h0M178.9 195.2h0M215.0 196.6h0M184.5 198.4h0M209.5 198.5h0M174.9 199.5h0" stroke="#103812" stroke-width="5.5" stroke-linecap="round"/><path d="M171.8 107.4h0M178.8 109.6h0M229.0 111.8h0M177.6 112.9h0M232.7 112.9h0M235.5 112.6h0M211.1 113.5h0M169.3 116.9h0M205.4 117.0h0M234.3 121.9h0M179.6 123.4h0M171.5 124.1h0M228.8 124.2h0M158.4 127.3h0M170.2 129.4h0M184.5 130.5h0M236.5 130.2h0M157.7 135.3h0M167.2 144.0h0M233.4 145.3h0M213.3 147.8h0M158.1 147.9h0M232.6 148.2h0M186.4 149.6h0M221.8 150.0h0M161.4 151.7h0M161.3 152.8h0M175.9 153.4h0M190.6 153.5h0M187.2 154.7h0M171.3 155.7h0M222.7 156.2h0M240.3 159.0h0M166.6 160.8h0M184.8 160.8h0M206.0 160.0h0M169.6 161.2h0M172.4 161.8h0M208.0 161.2h0M237.5 162.4h0M191.4 164.6h0M191.9 168.0h0M204.2 168.7h0M243.0 181.6h0M182.2 183.1h0M191.7 183.6h0M200.2 183.4h0M173.3 185.6h0M217.6 185.1h0M203.8 186.0h0M156.6 187.8h0M169.8 192.4h0M173.8 196.8h0M191.7 196.9h0M173.3 199.5h0M217.7 199.2h0" stroke="#185418" stroke-width="5.5" stroke-linecap="round"/><path d="M188.8 124.3h0M158.3 126.1h0M226.4 138.3h0M206.4 141.7h0M204.4 143.0h0M202.4 153.7h0M173.2 156.9h0M200.6 157.4h0M222.5 161.6h0M170.0 170.4h0M191.6 174.3h0M188.5 183.8h0M244.0 186.3h0M196.4 187.6h0" stroke="#227424" stroke-width="6" stroke-linecap="round"/><path d="M164.4 110.3h0M185.3 110.1h0M208.5 110.8h0M217.5 132.1h0M173.3 134.9h0M153.6 136.3h0M181.0 149.7h0M223.7 150.3h0M208.1 152.7h0M158.5 153.7h0M195.2 156.2h0M155.2 158.2h0M163.9 161.2h0M186.5 161.4h0M164.0 162.2h0M189.3 164.3h0M213.4 179.1h0M153.0 189.4h0M236.2 190.4h0M171.3 191.4h0M240.4 198.8h0" stroke="#401048" stroke-width="5.5" stroke-linecap="round"/></g></g><rect x="152.3" y="107.9" width="92.0" height="91.1" fill="none" stroke="#f4f4f4" stroke-width="2"/><rect x="92.85" y="108.85" width="13.3" height="12.8" fill="none" stroke="#f0f0f0" stroke-width="1.7"/><rect x="181.0" y="35.0" width="52.0" height="7.6" fill="#fff"/><rect x="222.8" y="119.2" width="15.0" height="7.4" fill="#fff"/><text x="71.8" y="43.3" font-size="24" font-weight="bold" style="fill:#fff">a</text><g clip-path="url(#clipc)"><rect x="281.4" y="23.4" width="182.4" height="182.3" fill="#000"/><mask id="cellmc" maskUnits="userSpaceOnUse" x="276.4" y="18.4" width="192.4" height="192.3"><path d="M281.4 115.4 L285.4 93.4 L288.4 68.4 L293.4 55.4 L306.4 47.4 L324.4 41.4 L336.4 38.4 L350.4 35.4 L381.4 32.4 L393.4 35.4 L397.4 51.4 L400.4 67.4 L409.4 79.4 L429.4 89.4 L449.4 97.4 L464.4 105.4 L464.4 206.4 L281.4 206.4Z" fill="#fff" filter="url(#hz)"/></mask><path d="M281.4 115.4 L285.4 93.4 L288.4 68.4 L293.4 55.4 L306.4 47.4 L324.4 41.4 L336.4 38.4 L350.4 35.4 L381.4 32.4 L393.4 35.4 L397.4 51.4 L400.4 67.4 L409.4 79.4 L429.4 89.4 L449.4 97.4 L464.4 105.4 L464.4 206.4 L281.4 206.4Z" fill="#051006" filter="url(#hz)"/><rect x="281.4" y="23.4" width="182.4" height="182.3" filter="url(#grainc)" mask="url(#cellmc)"/><g filter="url(#dotblur)"><path d="M368.5 34.1h0M344.3 35.1h0M364.3 35.6h0M368.3 35.7h0M388.7 36.0h0M363.0 36.5h0M371.1 37.3h0M334.7 38.0h0M339.5 38.9h0M356.6 38.9h0M392.6 39.8h0M388.2 41.7h0M329.4 42.6h0M340.0 42.8h0M351.8 43.3h0M323.9 44.3h0M383.3 45.1h0M339.0 45.5h0M341.9 46.0h0M346.9 45.6h0M369.9 45.7h0M381.7 45.9h0M384.2 45.7h0M330.6 46.6h0M330.4 47.2h0M339.7 47.3h0M343.7 46.5h0M328.9 47.7h0M393.4 47.9h0M336.4 48.6h0M339.3 48.9h0M354.8 48.9h0M327.8 49.7h0M331.2 52.4h0M329.9 52.5h0M322.5 53.4h0M369.7 54.1h0M372.4 54.1h0M302.5 55.1h0M348.1 55.3h0M306.9 57.0h0M315.8 56.7h0M327.8 56.7h0M377.4 57.2h0M380.1 57.4h0M306.8 57.6h0M365.6 57.5h0M385.4 58.1h0M385.1 57.6h0M386.3 57.7h0M397.1 57.8h0M396.9 58.2h0M300.0 59.9h0M321.1 60.4h0M356.5 61.9h0M366.9 61.5h0M384.9 61.5h0M294.0 63.1h0M327.5 63.4h0M343.0 62.5h0M351.0 63.2h0M386.4 63.0h0M380.8 63.8h0M301.8 65.3h0M355.6 64.9h0M287.5 65.7h0M322.5 65.6h0M296.4 66.9h0M350.2 66.8h0M358.4 66.4h0M294.9 67.7h0M352.9 68.3h0M378.8 68.2h0M384.0 67.4h0M289.0 68.7h0M364.4 70.7h0M305.3 72.2h0M320.3 71.8h0M351.9 72.3h0M365.5 71.4h0M287.0 72.9h0M359.9 72.7h0M396.2 72.6h0M319.3 73.8h0M369.2 73.9h0M324.9 75.1h0M340.3 75.6h0M362.9 75.6h0M300.2 77.3h0M328.5 77.3h0M330.7 77.5h0M376.1 78.0h0M411.8 77.9h0M312.5 78.5h0M347.2 79.3h0M350.6 78.9h0M307.5 79.9h0M353.2 79.8h0M369.2 80.1h0M297.4 81.4h0M302.1 80.7h0M328.8 80.9h0M292.4 81.5h0M317.7 82.0h0M404.8 81.7h0M406.8 83.2h0M318.7 84.4h0M327.9 84.1h0M390.5 84.1h0M396.8 84.4h0M339.5 85.3h0M394.6 85.1h0M417.5 84.9h0M287.3 85.7h0M382.1 86.1h0M299.8 86.8h0M340.1 87.1h0M357.3 87.3h0M394.1 87.4h0M318.2 87.9h0M399.7 88.3h0M410.6 87.6h0M426.2 88.3h0M360.0 88.7h0M367.5 88.4h0M403.5 90.2h0M406.4 89.9h0M303.8 90.9h0M348.9 90.6h0M369.0 91.4h0M346.5 92.1h0M356.5 92.0h0M372.1 91.9h0M384.5 91.8h0M398.1 92.2h0M416.8 92.1h0M307.1 92.8h0M364.3 92.5h0M401.8 93.0h0M405.5 92.4h0M310.8 93.7h0M351.8 93.4h0M392.1 93.7h0M429.2 93.5h0M302.8 95.0h0M309.0 95.0h0M346.6 94.6h0M367.5 94.9h0M376.9 94.7h0M393.9 94.6h0M289.5 95.6h0M294.1 95.6h0M299.3 96.4h0M441.5 95.5h0M310.1 97.1h0M317.9 96.9h0M321.9 96.8h0M304.8 97.6h0M370.9 98.1h0M385.6 98.3h0M391.0 97.6h0M316.1 98.8h0M338.5 98.5h0M358.5 99.4h0M418.5 98.4h0M432.9 99.1h0M317.6 99.5h0M329.8 100.1h0M331.4 100.3h0M357.0 99.8h0M385.0 99.5h0M423.5 99.5h0M435.6 100.2h0M283.6 101.1h0M392.8 101.1h0M423.9 100.5h0M433.0 101.0h0M329.6 102.3h0M353.2 101.5h0M357.8 101.6h0M358.1 102.0h0M384.8 101.7h0M347.4 102.6h0M372.1 103.1h0M380.5 103.0h0M390.4 102.5h0M409.8 102.8h0M434.3 103.3h0M326.6 103.4h0M344.5 103.6h0M447.5 103.7h0M454.4 104.1h0M329.4 104.8h0M385.7 104.5h0M455.7 105.0h0M289.1 106.3h0M299.6 106.0h0M307.5 106.1h0M456.6 106.0h0M353.7 107.0h0M356.7 106.5h0M362.7 107.1h0M395.1 107.0h0M417.0 107.3h0M417.6 107.2h0M393.6 108.4h0M420.2 107.7h0M438.1 108.4h0M307.0 108.6h0M374.9 108.7h0M387.2 109.1h0M386.9 108.4h0M458.9 108.8h0M463.9 109.2h0M307.4 110.4h0M444.5 109.7h0M312.8 110.6h0M333.0 110.5h0M360.8 110.6h0M421.2 110.8h0M421.6 110.7h0M462.9 110.9h0M321.6 111.9h0M339.4 111.4h0M340.8 112.0h0M346.2 112.0h0M382.5 111.9h0M306.4 112.6h0M340.5 113.2h0M373.2 112.6h0M389.3 112.9h0M400.3 113.1h0M297.2 114.4h0M302.2 113.9h0M335.7 114.1h0M378.8 113.5h0M389.4 113.9h0M419.5 114.1h0M292.8 114.8h0M305.6 115.3h0M328.5 114.7h0M330.3 115.0h0M396.0 114.4h0M405.5 114.7h0M284.5 116.3h0M343.2 115.6h0M355.0 115.7h0M427.5 116.3h0M321.9 117.3h0M390.4 117.3h0M395.0 117.3h0M412.4 116.7h0M428.9 117.0h0M434.4 117.0h0M444.9 117.3h0M315.3 118.3h0M325.2 117.6h0M386.1 117.7h0M406.4 117.8h0M457.9 117.6h0M460.0 117.8h0M331.5 119.3h0M338.2 118.8h0M348.1 118.7h0M354.1 118.6h0M404.9 118.7h0M406.1 118.7h0M332.2 119.9h0M355.7 119.6h0M359.9 120.4h0M371.9 120.0h0M395.4 120.1h0M409.2 120.2h0M430.3 120.3h0M373.7 120.8h0M410.5 120.9h0M324.1 121.6h0M382.6 121.9h0M454.7 122.1h0M461.5 122.3h0M334.4 123.2h0M412.9 122.8h0M449.5 122.6h0M451.8 122.9h0M281.6 123.5h0M295.5 125.4h0M298.0 124.7h0M305.1 125.4h0M356.0 124.6h0M378.6 124.9h0M395.9 124.5h0M400.6 125.4h0M300.1 126.1h0M376.7 125.5h0M392.7 125.9h0M395.7 126.4h0M399.7 126.3h0M405.3 126.3h0M413.6 125.7h0M433.9 126.0h0M290.5 127.4h0M332.4 126.8h0M408.3 127.2h0M450.0 127.1h0M297.5 128.2h0M308.8 127.5h0M384.2 127.6h0M399.3 127.6h0M460.7 128.0h0M389.6 129.0h0M394.3 128.9h0M420.8 129.1h0M453.5 129.1h0M454.3 128.6h0M335.5 129.6h0M377.9 129.8h0M399.0 129.8h0M432.3 130.3h0M454.3 129.5h0M462.4 129.7h0M410.1 130.9h0M424.0 130.7h0M290.6 131.5h0M305.9 132.2h0M330.6 132.4h0M377.1 131.7h0M317.1 132.6h0M319.3 132.7h0M331.0 133.0h0M409.4 132.8h0M450.4 133.2h0M283.9 133.7h0M290.9 134.2h0M367.5 134.1h0M381.9 134.0h0M412.7 134.1h0M325.7 135.1h0M337.5 134.4h0M364.4 135.0h0M386.6 134.5h0M410.0 135.4h0M427.6 135.1h0M441.0 135.0h0M455.5 134.8h0M456.2 134.8h0M355.1 136.1h0M369.0 135.9h0M395.9 136.2h0M310.6 137.2h0M295.2 137.9h0M346.4 138.0h0M440.3 139.3h0M290.9 139.5h0M304.1 140.3h0M339.2 139.7h0M357.0 139.6h0M371.9 139.5h0M380.2 140.3h0M416.0 139.4h0M426.1 140.1h0M448.0 139.5h0M304.3 140.9h0M344.7 140.7h0M352.1 141.0h0M426.3 140.7h0M301.1 142.0h0M364.2 141.5h0M285.0 142.8h0M299.5 142.7h0M320.0 142.7h0M374.7 142.8h0M411.4 142.6h0M412.9 143.4h0M286.1 143.9h0M295.7 144.1h0M302.8 143.8h0M328.2 143.5h0M380.5 144.0h0M397.0 144.1h0M427.8 144.1h0M286.8 145.2h0M369.3 144.6h0M442.7 144.7h0M358.8 145.7h0M422.7 145.6h0M423.9 146.1h0M460.3 146.1h0M287.7 147.2h0M288.9 146.4h0M391.9 147.2h0M434.9 147.4h0M440.2 147.1h0M457.6 146.8h0M297.3 148.3h0M355.6 147.8h0M372.6 147.7h0M377.9 147.5h0M388.3 147.8h0M393.2 148.2h0M428.2 148.0h0M284.7 148.8h0M293.0 148.8h0M309.1 148.6h0M331.5 149.0h0M380.9 148.6h0M438.6 149.1h0M443.0 149.2h0M451.6 149.1h0M301.1 149.8h0M341.6 150.2h0M388.9 150.1h0M450.9 150.3h0M301.8 151.1h0M363.7 151.4h0M369.4 151.3h0M302.2 152.4h0M383.0 151.7h0M427.8 152.1h0M447.7 151.7h0M447.4 153.0h0M303.0 153.7h0M325.8 153.6h0M340.1 153.6h0M398.2 153.6h0M282.2 154.7h0M344.6 155.2h0M358.9 155.0h0M378.2 154.8h0M403.9 154.7h0M368.0 156.2h0M391.9 156.3h0M389.4 157.1h0M458.0 156.5h0M302.3 158.4h0M348.8 158.2h0M353.6 158.3h0M364.0 157.4h0M415.7 158.3h0M432.5 158.0h0M357.4 159.0h0M362.6 158.7h0M364.2 158.7h0M409.1 159.2h0M321.9 159.7h0M378.7 159.9h0M431.3 159.9h0M457.0 159.6h0M299.0 161.3h0M329.6 160.9h0M400.0 161.1h0M310.2 161.7h0M324.5 161.9h0M341.0 161.9h0M437.7 161.7h0M448.2 161.8h0M456.0 162.0h0M370.9 162.7h0M303.4 164.0h0M319.0 163.5h0M460.8 163.9h0M361.8 164.9h0M381.0 164.5h0M408.0 164.5h0M422.9 164.5h0M449.4 165.2h0M456.2 165.4h0M311.7 166.2h0M369.5 166.0h0M420.0 166.4h0M451.4 165.8h0M392.6 166.8h0M424.4 166.4h0M431.3 167.1h0M437.6 167.0h0M331.3 168.1h0M337.1 168.1h0M366.3 168.2h0M407.8 168.0h0M414.5 168.0h0M428.9 167.6h0M299.9 169.1h0M320.2 169.4h0M359.5 168.6h0M407.2 169.3h0M310.4 170.3h0M342.6 170.0h0M284.5 171.3h0M320.7 170.4h0M331.6 170.6h0M338.1 171.0h0M343.2 170.8h0M423.8 170.9h0M435.2 171.3h0M325.4 172.2h0M387.2 172.3h0M439.4 171.6h0M293.8 172.5h0M312.3 173.2h0M338.0 172.5h0M363.0 173.4h0M397.9 173.2h0M400.7 173.0h0M417.6 172.5h0M284.5 173.8h0M385.3 173.6h0M398.8 173.7h0M452.1 174.3h0M457.8 174.2h0M283.3 174.5h0M286.1 174.8h0M298.6 174.8h0M301.0 174.8h0M414.1 174.4h0M436.7 174.8h0M449.7 175.2h0M421.2 175.8h0M427.5 176.3h0M457.2 175.8h0M333.8 176.5h0M337.4 176.8h0M356.8 177.3h0M381.7 176.5h0M299.4 177.7h0M307.0 178.2h0M393.8 178.1h0M404.0 178.1h0M298.1 178.5h0M349.9 179.1h0M355.9 179.2h0M396.7 178.6h0M429.9 179.0h0M295.5 180.3h0M324.5 179.6h0M409.8 180.3h0M380.6 181.0h0M444.4 181.0h0M458.1 180.5h0M303.5 181.6h0M329.2 181.7h0M392.4 182.0h0M409.1 181.9h0M290.9 182.9h0M301.7 182.4h0M305.2 182.9h0M316.5 182.9h0M345.6 183.0h0M366.7 183.4h0M289.1 184.2h0M312.4 184.2h0M319.5 184.2h0M339.5 184.9h0M355.2 185.0h0M372.4 185.4h0M425.0 184.8h0M442.2 184.6h0M445.3 185.2h0M289.0 185.8h0M347.1 186.0h0M374.0 185.5h0M329.0 187.3h0M426.6 187.2h0M325.8 188.4h0M367.1 187.9h0M371.4 188.4h0M394.4 187.5h0M452.1 187.5h0M323.1 189.2h0M371.6 189.1h0M459.6 189.1h0M285.3 190.2h0M337.9 190.0h0M379.7 189.6h0M395.5 189.4h0M295.3 190.5h0M324.7 190.8h0M347.8 190.5h0M380.5 190.4h0M383.4 191.2h0M414.8 191.4h0M321.1 192.3h0M369.6 192.4h0M374.8 191.7h0M379.0 192.4h0M288.9 192.4h0M291.6 193.0h0M304.3 193.3h0M456.8 192.9h0M338.4 193.6h0M356.4 194.1h0M395.8 194.2h0M322.6 194.8h0M397.8 194.5h0M399.6 194.6h0M448.6 194.7h0M306.5 196.3h0M357.1 195.9h0M359.8 196.2h0M362.6 195.7h0M381.7 195.8h0M412.1 196.4h0M456.4 195.6h0M282.0 196.8h0M283.9 197.3h0M353.3 196.7h0M403.1 196.9h0M409.2 197.3h0M431.2 196.9h0M451.9 196.4h0M285.1 197.4h0M285.1 198.2h0M380.5 198.2h0M304.0 199.0h0M349.7 198.6h0M357.7 198.7h0M362.1 199.0h0M376.1 199.3h0M432.4 199.0h0M324.7 199.9h0M324.5 200.1h0M397.1 199.7h0M326.1 200.7h0M445.2 200.9h0M464.2 200.8h0M316.2 202.1h0M393.4 201.9h0M406.8 201.7h0M451.7 201.8h0M341.1 203.2h0M395.1 202.7h0M421.9 202.6h0M450.1 203.3h0M333.7 203.5h0M336.9 203.7h0M345.9 203.8h0M357.0 203.4h0M366.8 203.8h0M406.6 203.5h0M417.3 203.9h0M284.9 204.5h0M316.8 204.4h0M345.1 205.0h0M397.8 204.9h0M403.1 204.9h0M422.4 204.7h0M439.5 204.4h0M313.3 206.3h0M314.0 206.1h0M326.6 205.5h0M331.0 205.8h0M431.7 205.8h0M458.6 205.8h0" stroke="#154a1c" stroke-width="2.0" stroke-linecap="round"/><path d="M335.6 37.3h0M369.5 36.4h0M364.8 38.2h0M384.3 37.8h0M358.3 39.3h0M359.4 39.3h0M370.1 41.2h0M351.4 41.5h0M374.8 42.7h0M324.6 44.4h0M327.9 44.2h0M378.6 43.5h0M390.5 45.3h0M334.8 46.0h0M355.4 46.7h0M390.2 46.9h0M316.4 48.2h0M332.1 48.8h0M298.1 49.6h0M362.9 49.5h0M379.1 49.5h0M317.3 52.0h0M326.9 52.4h0M371.6 51.9h0M378.2 52.5h0M303.0 54.4h0M327.2 53.8h0M326.1 55.0h0M351.7 55.3h0M388.2 55.3h0M306.4 55.8h0M323.0 55.7h0M370.6 55.5h0M292.0 56.6h0M303.9 57.0h0M357.8 56.5h0M365.2 57.2h0M386.1 56.4h0M312.6 58.0h0M355.1 58.0h0M298.8 58.4h0M372.0 60.2h0M327.5 61.4h0M344.1 61.7h0M352.3 62.6h0M367.7 63.1h0M380.4 62.6h0M325.1 63.4h0M359.7 63.6h0M295.0 64.9h0M311.4 64.5h0M389.1 64.8h0M303.9 65.8h0M397.0 65.8h0M325.1 66.9h0M331.2 66.6h0M383.4 67.2h0M304.8 67.6h0M311.8 68.0h0M345.6 67.4h0M374.2 68.2h0M379.3 68.3h0M300.6 68.9h0M291.3 70.2h0M328.4 69.7h0M325.8 72.0h0M311.3 73.6h0M330.9 73.8h0M333.9 73.4h0M353.3 73.9h0M369.3 73.5h0M304.9 75.3h0M325.7 76.2h0M332.3 76.3h0M372.6 75.6h0M389.7 76.3h0M408.9 75.6h0M291.1 77.1h0M297.5 79.2h0M342.5 80.2h0M382.9 81.8h0M332.5 82.8h0M293.0 84.3h0M311.6 83.9h0M363.9 83.9h0M373.4 84.0h0M389.8 83.5h0M402.8 84.3h0M295.6 85.0h0M316.0 87.4h0M373.9 87.4h0M339.7 87.4h0M405.7 88.0h0M407.1 88.2h0M396.2 89.2h0M425.9 88.6h0M296.4 89.4h0M292.3 90.5h0M329.1 91.2h0M331.6 91.1h0M336.5 91.4h0M394.5 91.2h0M316.7 92.0h0M358.7 92.3h0M374.7 92.4h0M387.9 92.2h0M284.0 92.9h0M353.3 92.5h0M391.4 92.9h0M300.4 93.6h0M342.1 94.2h0M374.8 93.6h0M382.8 94.2h0M431.8 93.4h0M323.4 94.5h0M348.1 95.1h0M348.8 96.4h0M431.8 95.7h0M436.2 96.0h0M291.1 97.0h0M291.3 97.0h0M426.2 96.9h0M427.5 96.6h0M448.5 97.2h0M359.0 97.4h0M382.1 97.7h0M415.0 97.9h0M430.2 99.1h0M307.1 100.0h0M373.4 99.5h0M379.0 99.5h0M431.3 100.3h0M309.6 100.6h0M337.8 100.7h0M397.1 102.1h0M393.7 103.2h0M432.8 105.1h0M283.1 105.4h0M283.4 105.6h0M298.9 105.6h0M319.7 106.3h0M366.1 105.8h0M388.1 106.0h0M288.6 107.3h0M340.1 106.7h0M415.4 106.9h0M451.1 107.3h0M353.4 107.6h0M371.7 107.9h0M436.3 108.3h0M454.2 107.7h0M459.2 107.7h0M344.7 109.4h0M321.5 109.9h0M328.6 109.9h0M341.3 109.8h0M400.5 109.7h0M422.2 110.1h0M292.1 111.4h0M340.8 110.4h0M383.3 110.4h0M319.1 112.3h0M358.3 112.5h0M369.2 112.4h0M392.3 113.0h0M397.6 113.0h0M339.6 114.0h0M368.8 113.9h0M420.7 113.7h0M309.8 115.4h0M312.8 115.0h0M391.4 115.4h0M398.0 114.9h0M439.7 115.4h0M291.9 115.5h0M348.7 115.8h0M444.0 115.9h0M353.3 117.1h0M385.3 116.9h0M394.0 116.6h0M424.6 117.4h0M427.5 117.4h0M454.0 117.2h0M302.8 117.8h0M346.0 117.8h0M357.3 118.3h0M386.7 117.7h0M440.7 117.8h0M374.1 120.0h0M398.4 119.8h0M450.8 119.7h0M313.9 120.7h0M418.1 121.3h0M443.7 121.0h0M444.7 121.1h0M459.0 121.4h0M323.2 121.5h0M371.6 122.3h0M369.6 122.7h0M359.2 124.4h0M375.7 123.9h0M413.9 123.9h0M439.2 123.5h0M451.5 124.2h0M312.4 125.0h0M348.2 124.8h0M348.8 125.1h0M345.4 125.4h0M428.7 125.9h0M464.4 125.4h0M325.9 126.9h0M428.7 126.5h0M340.0 127.8h0M429.0 128.3h0M457.5 127.9h0M459.7 127.7h0M461.4 128.4h0M425.8 128.9h0M450.2 128.4h0M302.4 129.5h0M319.4 130.3h0M450.4 130.1h0M402.2 131.2h0M444.7 131.1h0M449.8 130.9h0M339.2 132.4h0M338.5 131.4h0M421.6 131.4h0M313.0 132.5h0M452.9 133.0h0M453.5 132.9h0M319.9 134.0h0M371.4 135.5h0M406.9 136.1h0M411.6 135.4h0M312.1 137.0h0M287.8 137.4h0M288.9 137.8h0M324.3 137.9h0M334.9 137.4h0M362.3 137.5h0M442.7 138.3h0M300.5 138.9h0M379.1 138.8h0M399.5 139.2h0M393.1 140.1h0M352.8 140.6h0M365.6 141.1h0M382.7 140.7h0M394.1 140.8h0M400.2 141.3h0M400.1 140.9h0M440.1 140.4h0M326.0 141.6h0M450.2 142.3h0M326.8 142.9h0M331.2 142.8h0M388.7 142.4h0M439.8 142.6h0M444.1 143.3h0M447.3 142.9h0M290.4 144.1h0M319.4 143.7h0M394.0 143.9h0M435.3 143.8h0M300.3 144.8h0M311.6 144.6h0M331.4 144.7h0M394.8 145.0h0M434.5 144.7h0M458.1 144.9h0M406.6 145.9h0M351.1 147.0h0M371.9 146.6h0M345.7 148.3h0M391.5 148.2h0M419.5 147.6h0M463.3 148.7h0M304.1 149.4h0M351.6 150.1h0M415.3 150.3h0M459.5 150.3h0M287.5 150.9h0M457.1 151.0h0M341.3 152.2h0M380.1 151.4h0M425.7 151.8h0M333.8 153.0h0M354.6 153.4h0M370.7 152.5h0M380.6 153.9h0M305.1 154.9h0M374.5 154.8h0M405.2 155.1h0M450.2 154.5h0M332.6 155.9h0M357.4 156.3h0M446.1 156.3h0M292.0 157.1h0M369.6 156.6h0M378.1 156.5h0M419.3 156.4h0M457.2 157.0h0M303.5 157.5h0M343.4 157.7h0M441.7 158.3h0M284.6 159.0h0M345.3 158.5h0M363.4 159.2h0M385.8 158.6h0M328.4 160.4h0M367.1 160.1h0M371.5 159.5h0M440.9 160.1h0M457.9 159.6h0M461.8 159.7h0M380.9 160.5h0M414.5 160.9h0M415.5 160.4h0M323.8 162.2h0M363.9 162.2h0M320.0 162.5h0M402.9 162.8h0M463.0 163.1h0M292.2 163.4h0M421.4 163.4h0M463.8 163.8h0M315.2 165.1h0M400.9 165.4h0M430.3 164.9h0M444.4 165.3h0M343.6 165.5h0M415.7 165.7h0M460.6 165.7h0M378.6 167.1h0M290.3 167.7h0M289.8 168.0h0M306.4 167.9h0M344.0 168.2h0M403.4 167.7h0M345.6 168.4h0M359.5 169.0h0M378.9 168.6h0M410.7 169.0h0M455.7 169.0h0M329.1 170.3h0M333.2 170.1h0M386.9 169.5h0M434.1 169.9h0M297.9 170.7h0M359.2 171.3h0M377.7 170.5h0M401.4 171.2h0M412.5 170.8h0M284.0 172.1h0M340.6 171.9h0M356.5 171.9h0M290.8 172.7h0M300.5 172.4h0M343.8 172.6h0M374.3 173.4h0M328.2 175.0h0M384.6 175.1h0M411.4 175.3h0M447.6 175.1h0M313.8 176.1h0M452.1 176.2h0M295.2 177.0h0M326.2 176.9h0M335.4 176.7h0M402.2 177.1h0M434.3 177.3h0M447.3 177.2h0M445.3 177.5h0M379.1 178.9h0M388.0 179.8h0M443.1 181.4h0M446.5 181.4h0M350.2 182.2h0M417.2 181.7h0M430.5 181.4h0M458.0 182.2h0M394.6 182.6h0M416.6 183.1h0M288.5 183.5h0M372.0 184.3h0M401.7 183.8h0M446.0 184.3h0M289.0 185.4h0M426.2 184.4h0M451.9 184.5h0M306.6 186.3h0M427.1 186.0h0M312.4 187.1h0M376.1 187.6h0M393.8 188.3h0M452.0 188.1h0M302.9 189.0h0M412.1 189.3h0M338.9 190.1h0M344.3 190.3h0M289.1 190.9h0M330.2 190.9h0M366.7 192.0h0M385.2 191.4h0M397.5 192.3h0M462.7 192.0h0M389.1 193.3h0M457.2 192.6h0M326.2 194.2h0M331.0 193.8h0M339.9 193.9h0M389.8 194.2h0M408.5 194.9h0M339.4 195.6h0M429.9 195.6h0M337.8 196.7h0M371.0 197.1h0M418.0 197.0h0M382.7 198.6h0M425.4 198.9h0M371.4 200.2h0M425.2 200.0h0M299.0 200.6h0M323.6 200.4h0M351.7 201.3h0M400.4 201.1h0M447.0 200.4h0M325.0 202.2h0M349.0 201.8h0M409.3 201.6h0M299.6 203.1h0M308.9 202.8h0M364.3 202.8h0M372.9 202.6h0M381.5 202.9h0M409.3 203.2h0M453.1 203.4h0M458.4 203.3h0M286.6 204.0h0M450.4 203.8h0M356.3 205.2h0M387.1 205.1h0M411.4 205.0h0M424.8 205.1h0M328.1 205.5h0M338.1 206.1h0M389.9 205.6h0M434.0 206.3h0M441.4 205.5h0" stroke="#206a28" stroke-width="2.0" stroke-linecap="round"/><path d="M389.2 36.4h0M350.9 37.3h0M382.6 41.7h0M368.8 42.8h0M364.7 49.7h0M310.0 54.3h0M301.9 55.3h0M315.5 56.7h0M352.5 59.5h0M354.0 59.6h0M367.4 60.5h0M292.7 61.6h0M343.8 64.2h0M326.3 64.9h0M391.9 66.0h0M329.7 66.9h0M350.1 67.5h0M295.0 70.3h0M352.3 74.1h0M292.7 77.0h0M374.5 77.7h0M328.9 78.4h0M415.7 79.7h0M405.2 81.2h0M330.7 83.6h0M393.5 84.6h0M322.2 85.7h0M407.2 86.3h0M407.0 89.0h0M325.3 89.5h0M396.6 90.3h0M369.9 91.3h0M379.1 92.6h0M316.5 94.1h0M393.5 94.5h0M349.7 96.0h0M392.0 96.2h0M347.9 96.8h0M317.8 100.0h0M406.6 99.9h0M445.8 99.9h0M463.4 100.2h0M330.5 100.6h0M326.3 101.8h0M362.0 101.7h0M384.7 101.6h0M361.0 103.3h0M429.4 102.7h0M311.2 103.7h0M353.0 103.9h0M330.3 106.3h0M401.5 105.4h0M343.0 106.8h0M329.0 107.8h0M437.8 108.6h0M375.8 111.3h0M407.6 112.0h0M383.8 112.9h0M419.5 116.3h0M406.0 117.2h0M454.5 118.1h0M357.7 118.6h0M426.5 118.8h0M387.6 119.7h0M434.9 120.3h0M282.5 121.9h0M339.2 121.5h0M380.6 122.4h0M443.5 121.8h0M320.3 124.0h0M404.3 124.2h0M299.9 125.2h0M434.0 124.6h0M437.8 125.0h0M389.1 125.4h0M296.5 127.3h0M349.1 127.0h0M404.5 127.5h0M407.1 128.5h0M303.8 129.9h0M458.0 130.1h0M427.8 132.1h0M430.1 131.5h0M363.4 132.6h0M435.7 132.5h0M309.4 133.8h0M339.1 135.3h0M374.1 134.5h0M460.6 135.4h0M321.0 136.4h0M462.8 137.7h0M287.0 139.5h0M283.4 142.3h0M422.5 141.8h0M435.6 142.2h0M314.5 142.5h0M380.1 143.1h0M400.2 143.7h0M459.2 143.8h0M352.2 145.4h0M283.8 147.2h0M286.1 147.5h0M353.4 147.6h0M414.9 147.6h0M447.2 148.0h0M451.5 148.2h0M299.0 148.9h0M344.8 149.4h0M382.6 148.5h0M347.9 151.6h0M410.1 152.1h0M299.6 152.4h0M406.3 153.5h0M434.7 153.9h0M290.7 154.8h0M395.6 155.0h0M442.9 154.5h0M309.6 157.4h0M397.1 157.5h0M400.1 158.1h0M401.1 158.4h0M372.5 159.1h0M447.8 160.0h0M333.0 161.3h0M453.0 161.2h0M315.1 161.6h0M355.9 162.6h0M463.3 162.8h0M301.6 163.5h0M354.8 163.6h0M453.3 163.4h0M327.6 165.8h0M342.2 167.4h0M346.4 169.0h0M434.8 169.1h0M457.9 170.0h0M289.8 170.4h0M366.8 171.2h0M367.2 172.3h0M365.8 172.9h0M332.4 176.2h0M425.0 176.5h0M378.8 178.3h0M439.4 180.0h0M349.5 180.9h0M341.6 181.8h0M441.2 181.8h0M394.3 182.8h0M456.1 182.7h0M358.7 183.8h0M431.9 183.5h0M453.7 184.4h0M295.7 186.3h0M341.1 186.0h0M440.6 185.9h0M287.6 187.1h0M292.4 186.5h0M301.3 187.1h0M342.7 186.9h0M382.0 186.9h0M391.3 188.2h0M394.7 188.4h0M341.7 189.6h0M370.3 190.1h0M383.6 190.4h0M357.0 191.2h0M419.6 191.1h0M424.6 191.8h0M435.2 194.4h0M282.7 195.9h0M345.3 195.9h0M422.5 196.5h0M303.9 197.5h0M420.4 199.2h0M447.7 201.3h0M414.3 202.8h0M328.1 205.1h0M352.8 204.5h0M398.0 205.0h0M461.5 206.3h0" stroke="#309038" stroke-width="2.2" stroke-linecap="round"/><path d="M375.7 42.9h0M316.6 49.0h0M321.0 51.9h0M317.7 55.4h0M359.4 65.5h0M314.8 71.5h0M376.3 72.2h0M312.3 75.0h0M314.9 80.3h0M351.9 79.5h0M320.8 80.6h0M422.6 90.2h0M346.1 91.7h0M331.8 93.3h0M423.6 92.4h0M433.9 93.5h0M376.9 96.8h0M292.1 98.9h0M433.4 106.8h0M319.0 108.2h0M417.1 108.6h0M283.2 113.7h0M313.5 116.9h0M299.2 119.0h0M346.6 120.7h0M354.7 121.3h0M442.9 121.2h0M352.0 122.1h0M344.3 124.1h0M438.1 125.1h0M303.2 128.9h0M463.4 131.6h0M353.9 132.9h0M411.6 151.1h0M363.9 154.0h0M427.2 153.4h0M319.9 154.7h0M355.2 154.7h0M349.7 157.0h0M290.4 158.1h0M346.9 160.3h0M391.2 162.1h0M300.4 162.8h0M338.9 164.3h0M283.8 164.8h0M289.0 164.9h0M359.6 165.8h0M444.8 169.1h0M281.9 171.5h0M410.1 173.6h0M385.5 180.9h0M288.0 185.4h0M291.2 186.3h0M428.5 187.2h0M372.2 192.9h0M304.0 195.7h0M399.5 203.8h0" stroke="#8aa890" stroke-width="2.0" stroke-linecap="round"/><path d="M302.2 24.2h0M283.6 31.9h0M292.9 33.0h0M386.4 32.5h0M390.6 32.8h0M395.1 32.8h0M437.1 34.0h0M353.7 35.6h0M361.1 41.7h0M383.3 43.7h0M420.0 44.7h0M336.5 46.3h0M315.6 47.2h0M387.6 47.2h0M401.8 46.7h0M370.7 47.8h0M333.5 48.7h0M315.4 52.2h0M352.6 51.7h0M358.5 51.4h0M317.0 53.3h0M296.6 55.2h0M376.1 56.3h0M396.6 56.5h0M439.4 57.2h0M305.0 58.2h0M412.5 59.3h0M399.2 63.1h0M427.8 63.6h0M436.0 63.5h0M454.7 64.6h0M291.3 65.5h0M298.5 66.2h0M418.3 66.0h0M288.3 67.8h0M291.7 68.6h0M303.5 69.5h0M340.1 69.8h0M434.5 69.9h0M286.3 74.2h0M397.4 73.6h0M435.4 75.9h0M440.2 75.7h0M374.9 77.0h0M380.9 77.3h0M381.4 76.8h0M299.5 77.8h0M439.0 78.1h0M290.3 79.8h0M402.6 81.2h0M446.6 80.6h0M453.2 80.8h0M425.0 82.4h0M361.2 83.7h0M370.3 84.2h0M431.4 84.5h0M328.8 85.7h0M385.2 86.0h0M392.8 86.5h0M294.2 87.7h0M409.3 87.5h0M427.1 88.3h0M437.5 88.4h0M440.0 89.3h0M367.5 91.1h0M447.0 90.7h0M456.1 92.8h0M284.1 94.6h0M440.1 95.4h0M288.6 95.9h0M435.8 96.0h0M360.7 97.7h0M456.3 100.0h0M409.9 100.5h0M463.3 101.0h0M424.3 103.0h0M443.5 102.8h0M359.4 107.3h0M383.4 107.1h0M454.7 107.1h0M301.9 107.6h0M455.9 110.7h0M456.6 110.8h0M434.9 112.4h0M379.6 114.6h0M302.8 116.4h0M386.9 120.8h0M358.0 121.5h0M283.6 122.4h0M421.5 125.1h0M295.2 128.8h0M447.0 130.2h0M339.2 133.6h0M390.9 137.0h0M298.8 139.7h0M328.9 141.9h0M282.6 144.4h0M302.8 143.8h0M386.1 145.1h0M400.5 150.3h0M375.7 154.5h0M367.7 157.2h0M382.0 157.2h0M359.2 161.6h0M314.5 163.0h0M359.2 162.7h0M392.5 164.3h0M308.1 170.0h0M332.7 170.6h0M287.7 173.1h0M436.3 174.6h0M329.3 176.3h0M335.9 176.6h0M311.8 178.1h0M415.9 178.6h0M315.8 182.2h0M319.8 182.8h0M355.0 182.5h0M289.6 185.1h0M296.1 185.1h0M294.4 185.7h0M389.4 187.4h0M290.8 188.9h0M334.8 190.1h0M388.0 191.6h0M309.9 193.1h0M335.5 192.5h0M306.0 194.3h0M290.2 196.8h0M378.0 197.4h0M451.4 198.8h0M306.9 199.4h0M315.5 203.2h0M325.3 204.2h0M317.5 205.5h0M285.4 31.2h0M377.6 37.0h0M362.7 43.6h0M383.4 42.1h0M316.1 42.7h0M314.5 46.5h0M333.7 50.7h0M306.0 51.7h0M316.3 54.2h0M300.0 54.1h0M314.4 58.1h0M425.4 56.8h0M347.3 61.7h0M434.5 59.8h0M308.7 60.2h0M405.0 62.6h0M400.5 62.0h0M428.5 65.4h0M292.6 69.8h0M388.7 70.4h0M433.7 71.1h0M416.8 69.5h0M436.0 70.5h0M406.9 75.6h0M436.7 75.1h0M296.3 77.9h0M440.5 77.4h0M437.6 88.0h0M437.7 88.4h0M292.1 87.2h0M428.2 86.5h0M290.5 94.6h0M438.1 95.5h0M446.3 102.7h0M462.6 99.6h0M443.7 100.8h0M425.6 103.1h0M457.0 107.1h0M300.4 110.6h0M373.1 107.3h0M434.1 110.9h0M442.2 117.9h0M283.7 121.2h0M439.6 128.3h0M391.1 138.7h0M302.5 146.2h0M385.8 143.9h0M459.6 154.3h0M314.0 162.7h0M301.0 167.4h0M325.4 169.5h0M299.6 173.5h0M437.1 173.2h0M333.8 177.6h0M374.3 176.3h0M317.9 182.7h0M319.1 180.5h0M294.3 183.7h0M390.8 187.0h0M295.9 184.9h0M287.4 187.6h0M307.7 192.4h0M345.6 195.0h0M339.5 199.7h0M306.8 200.7h0M308.7 201.1h0" stroke="#3e1244" stroke-width="2.6" stroke-linecap="round"/><path d="M391.8 32.0h0M366.1 34.2h0M358.8 34.5h0M378.6 35.2h0M367.5 37.3h0M419.3 37.1h0M357.6 37.9h0M366.2 39.0h0M397.7 40.7h0M366.0 41.6h0M382.1 42.1h0M339.5 43.2h0M317.0 44.3h0M351.8 44.9h0M395.3 44.9h0M397.6 47.2h0M386.8 50.3h0M308.1 51.0h0M351.2 50.8h0M382.5 51.1h0M382.8 50.9h0M294.0 54.1h0M429.2 54.5h0M410.3 55.7h0M312.6 57.8h0M423.4 58.1h0M442.0 59.1h0M435.9 60.3h0M411.5 61.6h0M415.8 62.5h0M290.4 67.1h0M410.8 68.6h0M403.2 70.3h0M456.6 69.5h0M420.3 71.4h0M417.1 71.5h0M346.5 73.0h0M292.9 76.4h0M437.2 75.8h0M296.9 76.4h0M445.9 79.8h0M291.0 81.1h0M292.7 80.9h0M292.0 83.0h0M292.0 84.4h0M341.5 85.3h0M291.6 85.7h0M437.5 86.2h0M294.2 87.8h0M458.7 88.4h0M428.1 90.4h0M424.2 91.8h0M441.8 92.9h0M358.5 93.8h0M423.9 94.0h0M367.6 95.7h0M432.8 95.6h0M379.4 97.3h0M436.2 97.0h0M439.8 97.1h0M444.2 102.3h0M454.1 104.8h0M373.4 107.3h0M373.2 109.7h0M440.4 111.2h0M395.2 114.3h0M338.5 116.8h0M442.5 116.7h0M297.2 126.4h0M441.2 128.0h0M387.7 134.4h0M365.8 137.9h0M445.8 150.2h0M312.9 152.0h0M392.8 153.4h0M461.3 155.8h0M314.3 159.0h0M369.6 160.1h0M420.3 160.4h0M324.5 163.2h0M313.4 163.8h0M457.3 165.6h0M288.9 166.8h0M410.1 167.2h0M329.0 169.2h0M311.0 172.6h0M310.9 173.9h0M373.1 178.1h0M328.8 183.2h0M385.0 183.7h0M412.1 184.3h0M390.3 185.2h0M299.7 186.3h0M359.5 190.6h0M327.1 194.9h0M284.8 196.1h0M321.5 198.0h0M299.2 199.3h0M310.1 199.3h0M397.4 199.1h0M329.2 200.8h0M326.2 201.6h0M328.0 205.3h0M449.5 205.1h0M315.5 205.6h0M300.7 23.1h0M392.5 32.3h0M437.9 32.7h0M357.9 33.2h0M420.3 39.0h0M377.0 41.6h0M343.3 41.3h0M378.8 45.4h0M316.0 46.2h0M421.2 44.4h0M315.3 45.0h0M354.0 52.2h0M359.9 49.7h0M318.1 54.6h0M317.3 53.4h0M409.0 56.9h0M411.6 58.4h0M437.1 62.7h0M419.7 65.5h0M290.6 70.3h0M302.6 68.0h0M440.1 69.9h0M455.3 68.7h0M425.1 71.6h0M383.4 75.4h0M444.6 81.4h0M401.3 82.9h0M295.2 82.9h0M292.9 80.9h0M397.2 83.7h0M292.7 86.0h0M431.0 82.1h0M446.2 84.7h0M439.3 89.2h0M457.3 86.4h0M431.8 93.6h0M424.1 91.7h0M318.3 93.2h0M441.5 97.2h0M365.4 96.8h0M377.4 96.0h0M435.5 95.1h0M337.8 99.8h0M360.9 99.1h0M458.6 101.5h0M457.7 101.2h0M454.0 103.1h0M361.3 107.0h0M374.8 105.6h0M383.2 105.9h0M300.6 106.2h0M454.8 109.4h0M388.1 121.6h0M367.6 139.5h0M297.6 140.3h0M326.6 142.2h0M399.5 148.9h0M394.5 154.4h0M376.7 156.1h0M380.9 155.6h0M315.5 160.7h0M370.6 159.3h0M394.0 162.5h0M290.3 165.7h0M311.4 175.3h0M328.6 177.9h0M414.1 178.2h0M329.8 177.4h0M288.9 190.2h0M335.2 191.3h0M359.1 188.3h0M292.8 193.7h0M306.8 195.4h0M311.1 197.5h0M327.7 199.3h0M384.2 198.5h0M325.6 199.5h0M316.9 202.5h0M317.8 203.5h0M441.2 207.4h0" stroke="#6a2274" stroke-width="3.0" stroke-linecap="round"/><path d="M352.7 34.0h0M365.2 35.9h0M388.6 39.0h0M364.7 41.0h0M375.3 41.8h0M379.8 43.3h0M338.5 44.1h0M314.6 44.4h0M316.2 45.6h0M333.8 47.7h0M315.1 51.4h0M318.7 55.2h0M332.9 54.9h0M340.7 59.4h0M324.1 60.9h0M319.7 62.0h0M404.0 61.6h0M414.5 62.1h0M439.8 61.5h0M436.1 62.7h0M346.5 65.6h0M430.7 66.3h0M294.3 68.2h0M390.0 68.8h0M366.4 69.5h0M438.4 69.6h0M340.5 70.9h0M401.4 70.5h0M411.6 72.0h0M451.7 71.5h0M427.5 72.7h0M288.8 74.2h0M401.9 74.2h0M324.2 75.0h0M405.9 76.2h0M407.9 76.8h0M394.2 80.5h0M460.9 80.9h0M293.9 82.0h0M432.6 81.4h0M444.8 82.3h0M397.0 82.5h0M348.9 85.0h0M412.3 86.0h0M383.4 89.2h0M286.2 89.8h0M431.7 92.0h0M436.5 91.5h0M294.6 92.9h0M405.5 92.9h0M336.1 98.0h0M295.3 99.1h0M446.3 100.3h0M458.2 100.2h0M459.0 100.5h0M436.6 102.5h0M449.3 102.6h0M455.0 102.9h0M300.6 109.1h0M452.9 108.8h0M453.2 112.1h0M308.0 113.1h0M460.4 113.2h0M303.2 117.7h0M390.2 118.8h0M354.6 119.8h0M418.2 119.6h0M434.4 120.7h0M455.0 120.8h0M401.2 121.7h0M285.4 122.9h0M389.9 122.6h0M330.6 127.7h0M330.3 135.5h0M309.2 138.4h0M365.8 139.2h0M369.5 142.1h0M331.7 144.8h0M300.2 146.1h0M460.0 147.2h0M438.8 148.8h0M328.7 151.7h0M338.0 153.8h0M334.7 155.5h0M361.2 158.8h0M310.2 160.8h0M449.9 163.6h0M302.9 167.2h0M337.2 169.9h0M353.4 169.8h0M448.2 170.0h0M323.9 170.8h0M422.7 171.1h0M320.0 171.4h0M300.9 174.9h0M286.0 176.4h0M329.4 179.4h0M331.8 183.9h0M333.5 183.7h0M370.9 185.7h0M299.6 187.3h0M289.2 188.0h0M292.6 188.4h0M291.2 193.5h0M337.5 196.9h0M344.2 197.0h0M339.9 197.8h0M432.2 198.0h0M307.6 202.8h0M362.8 203.0h0M440.9 206.0h0M291.3 31.2h0M368.1 35.2h0M368.7 36.5h0M358.5 36.2h0M331.4 39.3h0M337.7 44.0h0M398.8 46.7h0M401.6 48.4h0M346.5 46.7h0M372.2 48.4h0M387.5 49.0h0M427.9 55.0h0M415.8 61.3h0M296.6 66.4h0M288.8 66.4h0M364.7 68.6h0M348.1 71.4h0M286.3 72.0h0M400.6 72.7h0M376.8 76.7h0M381.1 74.8h0M288.8 79.9h0M294.5 80.8h0M460.0 78.6h0M443.2 82.0h0M448.7 90.1h0M458.4 92.8h0M438.1 102.8h0M455.5 100.6h0M440.4 108.7h0M455.3 113.0h0M307.9 115.3h0M357.0 119.6h0M418.4 120.8h0M357.3 122.8h0M286.1 121.1h0M389.5 120.6h0M368.0 140.2h0M283.6 143.2h0M360.6 161.2h0M313.2 163.4h0M355.7 170.2h0M330.4 170.0h0M423.1 172.6h0M286.7 174.3h0M356.2 183.8h0M290.9 186.8h0M369.7 184.4h0M301.5 188.4h0M294.4 187.3h0M327.1 193.5h0M285.9 196.7h0M450.0 203.5h0" stroke="#a038ac" stroke-width="3.2" stroke-linecap="round"/><path d="M372.2 35.2h0M364.5 35.7h0M334.7 39.4h0M333.1 40.4h0M380.6 42.0h0M343.5 43.1h0M359.1 45.1h0M346.8 48.0h0M342.5 49.2h0M366.7 49.0h0M298.0 53.4h0M348.6 59.8h0M306.7 60.9h0M296.9 63.9h0M458.6 70.9h0M436.1 72.2h0M424.0 72.7h0M300.1 74.1h0M377.2 78.6h0M299.3 81.1h0M444.2 84.6h0M438.0 87.1h0M437.6 88.3h0M319.0 95.1h0M450.8 98.1h0M455.3 97.4h0M390.9 101.9h0M412.1 147.1h0M449.3 152.3h0M410.6 165.3h0M374.1 180.4h0M418.0 192.9h0M317.3 197.0h0M441.9 199.6h0M384.7 200.4h0M351.9 35.1h0M364.4 41.8h0M358.1 47.0h0M437.9 60.6h0M436.6 74.1h0M406.4 77.8h0M448.5 81.5h0M290.4 85.0h0M423.1 93.7h0M454.1 113.7h0M338.7 115.0h0M309.6 171.8h0M311.5 173.7h0M313.7 177.9h0M297.1 199.1h0M327.3 206.6h0" stroke="#c088c8" stroke-width="2.6" stroke-linecap="round"/></g></g><g clip-path="url(#iclipc)"><rect x="365.9" y="106.6" width="94.1" height="93.4" fill="#000"/><g filter="url(#insblur)"><path d="M417.0 107.8h0M450.4 108.0h0M453.9 107.9h0M384.3 109.4h0M434.4 109.1h0M391.1 110.3h0M384.9 110.7h0M440.9 111.0h0M418.5 112.2h0M454.4 112.4h0M391.2 113.5h0M439.9 113.5h0M401.3 113.9h0M370.5 114.8h0M417.6 115.0h0M371.2 116.1h0M415.0 116.3h0M391.0 116.9h0M416.1 116.7h0M369.2 119.6h0M366.3 120.5h0M453.2 120.3h0M383.4 121.1h0M389.6 121.5h0M402.8 122.3h0M451.4 122.5h0M389.6 123.9h0M432.1 124.3h0M433.5 125.7h0M434.8 125.6h0M433.9 126.0h0M446.2 129.2h0M392.3 130.6h0M391.2 131.0h0M407.0 130.9h0M377.4 131.8h0M418.6 132.5h0M371.0 133.5h0M424.2 132.6h0M376.4 135.4h0M404.1 136.4h0M378.0 137.4h0M447.0 138.0h0M411.9 139.7h0M446.7 139.7h0M396.7 140.9h0M447.6 141.4h0M387.3 142.9h0M396.3 142.9h0M417.5 144.5h0M431.8 144.9h0M437.3 145.9h0M373.7 147.4h0M368.8 148.4h0M432.8 147.7h0M395.5 149.3h0M416.2 149.9h0M457.4 151.4h0M366.2 152.3h0M454.2 152.4h0M379.3 155.3h0M391.0 155.4h0M437.8 155.0h0M434.3 155.6h0M441.4 156.1h0M389.7 157.6h0M413.3 157.4h0M429.5 156.7h0M409.0 159.5h0M377.6 161.1h0M385.9 161.8h0M458.1 164.0h0M409.8 165.6h0M419.0 165.5h0M441.7 166.3h0M430.7 167.1h0M392.2 169.2h0M431.8 169.1h0M374.8 171.4h0M445.6 171.1h0M443.0 177.2h0M393.6 178.0h0M403.1 178.2h0M444.1 180.3h0M451.8 182.3h0M368.3 183.0h0M408.4 185.4h0M429.6 185.2h0M457.9 185.9h0M416.1 187.4h0M420.8 186.7h0M400.6 187.9h0M443.1 188.8h0M447.4 189.1h0M383.2 190.5h0M441.2 189.8h0M445.3 191.7h0M399.5 193.2h0M380.5 194.4h0M438.4 195.5h0M390.5 195.9h0M438.8 195.9h0M453.0 196.4h0M385.8 197.5h0M404.8 196.7h0M438.8 197.0h0M410.2 198.5h0" stroke="#0f4210" stroke-width="4.5" stroke-linecap="round"/><path d="M372.1 108.6h0M442.8 108.9h0M446.9 108.6h0M448.9 113.3h0M373.3 114.0h0M444.1 115.9h0M436.8 116.6h0M413.2 118.2h0M430.2 118.4h0M438.5 118.7h0M458.8 118.9h0M447.3 120.0h0M436.3 120.8h0M446.9 122.8h0M420.4 125.0h0M390.6 127.0h0M409.7 129.0h0M366.3 135.7h0M413.7 135.7h0M427.5 136.7h0M405.9 138.0h0M445.0 138.4h0M367.5 139.5h0M447.5 140.5h0M456.3 141.4h0M367.6 143.8h0M428.8 143.8h0M429.3 143.9h0M448.5 144.3h0M404.4 146.2h0M458.5 147.3h0M437.6 148.4h0M373.4 148.8h0M425.4 149.5h0M438.6 150.4h0M413.2 151.8h0M397.4 153.5h0M431.4 152.6h0M432.1 153.4h0M371.6 154.0h0M404.4 154.1h0M435.9 153.8h0M453.4 154.4h0M379.2 155.3h0M452.4 154.9h0M413.2 158.4h0M425.5 158.2h0M390.6 159.6h0M421.2 160.0h0M420.6 162.5h0M434.0 163.4h0M433.8 164.1h0M375.5 165.5h0M441.1 165.2h0M373.9 170.7h0M441.1 174.9h0M453.0 174.9h0M410.3 175.8h0M447.7 176.0h0M438.7 177.5h0M440.9 177.4h0M456.8 178.6h0M379.7 178.7h0M409.4 181.4h0M388.6 182.6h0M410.1 184.6h0M374.8 185.0h0M441.7 186.4h0M457.4 187.0h0M377.1 188.1h0M367.7 189.9h0M375.8 189.8h0M400.7 191.2h0M401.3 194.2h0M397.2 195.4h0M427.5 198.5h0M440.0 197.7h0" stroke="#166a18" stroke-width="4.8" stroke-linecap="round"/><path d="M402.9 111.6h0M457.5 111.8h0M374.5 113.0h0M450.1 119.4h0M447.3 123.0h0M418.7 124.0h0M427.3 123.6h0M396.8 126.0h0M403.0 142.2h0M379.6 145.5h0M427.6 147.5h0M433.5 148.8h0M386.1 154.2h0M388.2 160.3h0M419.6 161.9h0M385.1 166.4h0M430.8 174.1h0M387.9 174.9h0M458.3 177.4h0M440.2 185.0h0M406.6 188.5h0M386.5 191.8h0" stroke="#209422" stroke-width="5.2" stroke-linecap="round"/><path d="M394.7 120.7h0M396.1 123.0h0M459.3 125.3h0M372.6 130.1h0M432.6 130.2h0M452.9 131.9h0M425.8 135.7h0M430.9 136.1h0M433.4 142.5h0M367.2 143.7h0M450.2 153.3h0M373.7 156.3h0M413.3 162.0h0M454.9 169.1h0M371.2 169.7h0M370.0 194.3h0" stroke="#4a1450" stroke-width="4.5" stroke-linecap="round"/><path d="M426.5 117.8h0M378.5 145.1h0M371.5 161.3h0M373.6 169.1h0M427.7 172.6h0M384.4 174.0h0M457.0 177.3h0M458.9 177.3h0M418.6 179.8h0M391.8 184.1h0M395.0 186.3h0M392.9 187.3h0M370.6 194.4h0" stroke="#6a2072" stroke-width="4.5" stroke-linecap="round"/></g></g><rect x="366.9" y="107.6" width="92.1" height="91.4" fill="none" stroke="#f4f4f4" stroke-width="2"/><rect x="320.45000000000005" y="119.64999999999999" width="12.9" height="12.600000000000001" fill="none" stroke="#f0f0f0" stroke-width="1.7"/><rect x="395.2" y="35.0" width="52.3" height="7.9" fill="#fff"/><rect x="437.0" y="119.0" width="15.0" height="7.1" fill="#fff"/><text x="285.5" y="43.3" font-size="24" font-weight="bold" style="fill:#fff">c</text><g clip-path="url(#clipe)"><rect x="500.7" y="23.4" width="182.4" height="182.3" fill="#000"/><mask id="cellme" maskUnits="userSpaceOnUse" x="495.7" y="18.4" width="192.4" height="192.3"><path d="M500.7 111.4 L510.7 103.4 L520.7 93.4 L530.7 83.4 L540.7 71.4 L550.7 62.4 L560.7 56.4 L575.7 50.4 L595.7 46.4 L615.7 44.4 L672.7 42.4 L679.7 38.4 L683.7 38.4 L683.7 206.4 L500.7 206.4Z" fill="#fff" filter="url(#hz)"/></mask><path d="M500.7 111.4 L510.7 103.4 L520.7 93.4 L530.7 83.4 L540.7 71.4 L550.7 62.4 L560.7 56.4 L575.7 50.4 L595.7 46.4 L615.7 44.4 L672.7 42.4 L679.7 38.4 L683.7 38.4 L683.7 206.4 L500.7 206.4Z" fill="#061a0c" filter="url(#hz)"/><rect x="500.7" y="23.4" width="182.4" height="182.3" filter="url(#graine)" mask="url(#cellme)"/><g filter="url(#dotblur)"><path d="M637.7 37.6h0M677.5 38.9h0M683.3 40.4h0M633.5 43.1h0M668.8 43.1h0M680.8 43.2h0M682.3 43.2h0M621.5 43.4h0M662.6 43.7h0M674.4 43.6h0M680.4 44.2h0M616.8 44.9h0M626.1 44.9h0M657.3 44.6h0M661.6 44.5h0M650.6 45.5h0M653.9 46.3h0M648.2 46.4h0M655.6 46.9h0M666.9 46.5h0M583.3 48.2h0M598.5 48.0h0M598.9 48.0h0M604.6 48.3h0M605.6 47.9h0M611.8 48.3h0M626.5 48.0h0M626.9 48.2h0M576.8 48.6h0M659.1 48.6h0M660.7 49.2h0M600.3 49.6h0M678.0 50.3h0M579.6 50.8h0M588.8 50.5h0M594.1 50.9h0M663.3 51.4h0M593.2 51.7h0M657.1 51.8h0M661.9 52.4h0M573.1 52.7h0M578.9 53.4h0M638.5 53.4h0M645.9 53.1h0M655.9 52.9h0M662.2 53.0h0M625.2 54.4h0M629.8 54.3h0M652.3 54.1h0M672.3 53.9h0M568.6 55.2h0M594.9 55.0h0M623.7 55.3h0M629.5 55.1h0M634.2 55.3h0M578.1 55.9h0M591.8 55.8h0M610.3 56.2h0M612.5 55.7h0M624.7 55.6h0M634.7 56.1h0M544.0 57.1h0M580.0 56.7h0M606.0 57.4h0M624.0 56.4h0M636.0 56.8h0M559.4 57.7h0M588.8 57.8h0M628.8 58.2h0M661.7 58.3h0M679.9 57.9h0M682.6 57.6h0M563.1 59.4h0M566.1 58.7h0M580.7 59.2h0M599.0 59.1h0M600.3 58.9h0M628.0 58.9h0M647.4 58.8h0M564.3 59.6h0M578.5 59.5h0M594.3 59.9h0M599.6 60.0h0M610.8 60.4h0M632.4 59.9h0M657.1 60.0h0M658.3 60.1h0M667.2 60.1h0M669.1 59.7h0M670.6 59.7h0M554.7 61.3h0M607.1 61.0h0M646.2 61.3h0M647.4 60.6h0M649.6 61.4h0M656.2 61.0h0M671.3 60.8h0M647.7 61.8h0M657.5 61.5h0M681.3 62.3h0M563.3 62.9h0M563.2 62.5h0M572.1 62.5h0M581.3 62.8h0M584.1 63.1h0M658.7 62.8h0M678.0 62.6h0M569.5 63.5h0M612.9 64.3h0M618.9 63.5h0M649.1 63.6h0M663.2 63.6h0M669.2 64.2h0M674.5 64.0h0M553.6 65.4h0M558.0 64.9h0M581.6 65.2h0M620.1 65.0h0M626.7 64.9h0M664.2 65.2h0M557.6 66.1h0M559.2 65.4h0M561.2 65.9h0M594.6 65.7h0M600.7 65.8h0M601.9 65.8h0M604.0 66.2h0M608.0 66.0h0M629.6 65.8h0M641.1 65.8h0M645.6 65.8h0M659.5 66.0h0M668.8 66.3h0M576.0 67.0h0M629.1 67.4h0M630.7 66.8h0M665.3 66.6h0M674.5 67.0h0M676.2 67.0h0M571.1 67.5h0M575.8 67.6h0M588.8 68.1h0M601.3 68.2h0M634.4 68.2h0M636.5 68.2h0M640.1 67.7h0M581.2 68.8h0M607.0 69.4h0M653.4 68.5h0M669.3 68.4h0M571.4 69.4h0M607.9 70.1h0M667.1 69.8h0M678.2 69.6h0M682.8 70.2h0M548.2 70.5h0M554.3 71.3h0M572.0 71.2h0M575.7 71.0h0M604.7 71.2h0M605.1 70.9h0M611.6 70.4h0M669.3 71.1h0M683.3 70.7h0M539.2 72.4h0M543.4 71.6h0M550.5 71.7h0M550.5 71.6h0M559.3 72.4h0M563.3 72.3h0M593.3 71.4h0M596.1 72.4h0M598.9 71.9h0M607.3 71.8h0M609.5 72.2h0M642.2 71.5h0M674.6 71.6h0M550.3 72.8h0M588.4 72.5h0M627.8 72.7h0M629.1 72.6h0M638.7 72.7h0M642.0 73.0h0M677.4 73.0h0M678.2 72.8h0M678.9 73.2h0M538.8 73.4h0M561.4 73.6h0M579.6 73.9h0M587.5 73.6h0M607.2 74.2h0M577.0 74.7h0M579.4 75.0h0M579.7 75.2h0M587.7 75.3h0M598.1 74.7h0M599.4 75.1h0M604.4 74.7h0M622.1 75.1h0M624.1 75.1h0M634.1 74.7h0M666.5 74.5h0M577.7 75.8h0M578.4 75.8h0M594.6 76.3h0M627.3 76.1h0M549.6 76.7h0M558.9 77.3h0M583.5 77.0h0M588.6 76.8h0M589.3 76.8h0M590.2 77.2h0M592.4 77.2h0M619.3 77.2h0M648.3 76.8h0M671.0 77.1h0M585.7 77.5h0M599.8 77.6h0M600.6 78.4h0M611.1 77.7h0M631.3 77.7h0M645.5 78.3h0M646.6 78.2h0M656.5 77.5h0M670.2 77.4h0M537.7 78.8h0M552.8 79.0h0M569.9 78.4h0M582.7 78.9h0M666.3 78.8h0M536.6 79.5h0M553.9 79.5h0M565.0 79.7h0M630.8 80.1h0M637.3 80.2h0M643.5 79.5h0M666.3 79.8h0M547.3 80.4h0M548.4 81.3h0M606.2 80.6h0M625.4 80.6h0M626.4 80.7h0M652.3 81.1h0M675.0 81.0h0M536.9 82.0h0M592.9 82.0h0M605.3 81.8h0M616.0 82.2h0M620.7 82.2h0M631.1 82.0h0M636.2 82.3h0M574.6 82.6h0M607.4 83.2h0M629.8 82.8h0M631.9 83.3h0M677.9 82.9h0M551.1 83.7h0M576.8 83.6h0M599.3 83.7h0M560.4 85.3h0M585.6 84.5h0M595.3 84.7h0M624.2 84.5h0M646.4 85.0h0M652.1 85.3h0M667.7 85.0h0M546.8 85.7h0M559.4 85.5h0M585.5 85.5h0M587.2 85.7h0M613.5 85.6h0M643.8 85.6h0M647.7 85.7h0M656.2 85.8h0M663.2 86.1h0M543.1 87.0h0M586.0 86.4h0M590.5 86.6h0M547.6 87.5h0M575.2 87.8h0M590.8 87.5h0M648.8 88.2h0M667.1 87.9h0M527.5 88.5h0M527.8 88.4h0M530.9 88.8h0M533.4 88.6h0M533.9 88.9h0M540.1 88.6h0M626.5 88.8h0M677.6 88.4h0M551.4 90.2h0M555.2 89.7h0M574.6 89.7h0M577.3 89.6h0M586.9 90.4h0M595.8 89.8h0M650.6 90.3h0M542.4 91.2h0M550.3 91.1h0M559.8 91.3h0M566.5 90.9h0M585.8 91.0h0M588.3 91.1h0M593.9 91.2h0M618.7 90.9h0M645.2 90.7h0M648.7 90.6h0M668.3 90.5h0M674.6 90.4h0M681.2 90.9h0M553.0 91.7h0M596.6 91.7h0M611.8 92.3h0M626.3 91.6h0M632.3 91.8h0M668.5 92.0h0M672.3 92.1h0M548.2 93.1h0M570.9 93.3h0M596.3 93.1h0M603.9 93.2h0M616.6 93.3h0M627.9 92.5h0M659.4 93.2h0M663.1 93.1h0M549.2 94.1h0M566.1 93.5h0M572.7 93.7h0M581.0 94.3h0M584.5 93.5h0M595.7 94.1h0M617.7 94.3h0M636.1 94.2h0M656.8 94.2h0M670.8 94.1h0M672.1 94.3h0M518.5 95.4h0M520.9 95.0h0M522.8 95.2h0M530.2 94.5h0M540.8 94.9h0M548.1 95.0h0M573.5 95.0h0M592.8 95.0h0M605.2 95.1h0M619.2 94.9h0M642.3 95.3h0M660.8 95.1h0M679.6 94.8h0M528.0 95.5h0M554.4 96.2h0M577.6 95.7h0M589.4 96.3h0M668.4 96.2h0M682.8 96.3h0M543.0 96.7h0M544.2 96.9h0M547.2 96.6h0M554.8 97.4h0M558.3 96.5h0M571.4 96.8h0M571.9 96.9h0M588.2 96.5h0M590.1 97.1h0M609.0 96.6h0M647.9 97.4h0M661.9 96.4h0M532.2 98.1h0M555.3 97.9h0M568.8 97.8h0M587.5 98.4h0M614.5 98.1h0M673.0 98.3h0M546.0 99.3h0M546.4 99.1h0M555.9 99.1h0M580.8 98.8h0M606.1 98.6h0M616.8 98.5h0M628.2 99.3h0M664.4 99.3h0M530.6 99.7h0M536.5 100.1h0M554.1 99.9h0M565.5 99.6h0M570.9 99.7h0M575.6 100.2h0M609.2 100.3h0M620.5 99.4h0M625.6 99.7h0M666.9 100.4h0M573.2 100.8h0M598.3 101.0h0M639.6 100.8h0M646.6 100.7h0M662.0 101.0h0M518.9 102.0h0M554.0 101.9h0M591.7 101.9h0M602.2 101.6h0M609.6 101.5h0M622.2 101.5h0M622.4 101.7h0M624.3 102.1h0M640.0 101.8h0M675.4 101.9h0M681.7 102.1h0M517.4 103.1h0M520.4 103.2h0M524.6 102.7h0M561.8 102.5h0M580.6 102.6h0M593.5 103.0h0M605.9 103.1h0M634.3 102.5h0M667.0 103.3h0M682.9 103.1h0M683.3 102.4h0M510.7 103.4h0M514.3 103.8h0M526.5 103.9h0M548.2 104.2h0M566.2 104.2h0M568.6 104.1h0M579.3 103.4h0M584.0 104.3h0M589.9 103.5h0M644.2 104.3h0M646.1 103.8h0M668.1 104.0h0M520.5 105.4h0M528.7 104.6h0M531.3 105.0h0M545.5 104.7h0M550.6 105.0h0M564.3 105.1h0M605.4 105.2h0M617.0 104.4h0M636.0 104.9h0M645.6 104.4h0M662.8 104.8h0M535.1 105.7h0M625.3 106.4h0M658.6 105.7h0M667.6 105.5h0M668.0 105.7h0M544.2 107.1h0M549.2 106.7h0M567.5 106.5h0M593.7 107.1h0M594.5 107.1h0M631.5 107.0h0M662.7 107.3h0M511.7 107.6h0M520.9 108.3h0M559.6 107.6h0M569.6 107.6h0M573.4 108.2h0M593.4 108.2h0M597.3 108.1h0M598.7 107.9h0M605.6 107.9h0M616.7 107.8h0M630.2 108.3h0M667.1 108.4h0M682.2 107.5h0M523.8 108.6h0M540.4 108.7h0M554.7 108.7h0M585.0 108.8h0M591.7 109.0h0M627.8 109.1h0M676.6 109.3h0M521.6 109.7h0M675.9 109.6h0M510.4 110.9h0M527.9 111.1h0M543.7 111.1h0M562.7 111.2h0M611.7 111.3h0M633.1 110.8h0M644.2 110.5h0M647.4 111.2h0M663.6 110.8h0M679.6 110.5h0M515.6 111.7h0M585.7 112.0h0M586.0 111.5h0M601.0 111.8h0M504.5 112.4h0M512.5 112.8h0M525.2 112.5h0M558.8 112.8h0M583.7 112.4h0M595.6 113.3h0M599.8 112.5h0M606.8 112.5h0M646.4 113.2h0M663.3 112.7h0M665.8 113.1h0M676.3 113.0h0M509.0 114.1h0M524.8 113.9h0M527.3 114.2h0M529.1 114.0h0M557.2 114.0h0M586.4 114.0h0M586.7 114.1h0M612.7 113.8h0M631.3 114.2h0M630.7 114.1h0M659.3 114.4h0M676.5 113.7h0M563.5 114.9h0M565.4 115.2h0M568.4 114.8h0M575.2 115.1h0M594.9 114.9h0M615.5 115.4h0M650.3 115.0h0M514.7 116.3h0M531.2 115.5h0M536.9 116.2h0M563.7 116.3h0M580.5 115.6h0M603.7 115.9h0M656.3 115.6h0M670.8 115.6h0M503.1 117.1h0M506.3 117.2h0M509.4 116.6h0M537.9 116.5h0M538.8 116.5h0M547.9 116.9h0M580.1 116.8h0M584.4 117.2h0M618.2 116.7h0M639.7 117.4h0M661.2 116.6h0M668.1 116.6h0M672.6 117.2h0M682.2 116.6h0M525.8 118.2h0M533.1 118.0h0M559.2 118.2h0M593.8 117.7h0M617.7 117.5h0M621.9 118.1h0M651.6 117.8h0M667.3 117.8h0M512.8 118.8h0M535.1 119.0h0M543.0 119.3h0M604.4 119.3h0M604.3 119.3h0M613.7 118.8h0M628.4 118.5h0M633.8 118.9h0M502.2 120.4h0M510.4 120.2h0M555.6 120.1h0M564.2 119.7h0M589.9 119.6h0M630.6 119.4h0M683.5 119.7h0M674.7 121.1h0M508.8 122.1h0M518.9 121.6h0M543.7 121.9h0M591.4 122.3h0M656.9 121.5h0M670.6 122.2h0M541.1 122.9h0M548.8 122.9h0M588.7 123.2h0M622.5 122.5h0M629.4 123.3h0M629.7 122.7h0M655.3 122.6h0M657.1 122.7h0M518.0 123.5h0M543.1 123.7h0M566.9 123.8h0M569.9 123.4h0M582.6 124.2h0M596.5 123.5h0M667.4 124.0h0M547.6 124.5h0M582.7 125.0h0M624.9 125.3h0M632.4 124.7h0M664.9 125.4h0M502.4 125.7h0M508.1 126.3h0M510.0 126.2h0M569.3 125.5h0M581.9 125.9h0M594.9 125.8h0M635.5 125.7h0M641.3 126.1h0M648.5 125.5h0M654.2 125.7h0M662.3 125.9h0M668.2 125.9h0M504.2 126.8h0M511.6 127.2h0M523.0 127.1h0M525.1 126.7h0M533.8 126.8h0M576.7 127.0h0M611.1 126.7h0M647.8 127.3h0M668.6 127.1h0M505.6 128.2h0M520.5 127.4h0M537.7 128.3h0M561.2 127.7h0M564.0 127.6h0M579.5 128.1h0M618.8 128.2h0M620.0 128.0h0M680.1 128.2h0M681.0 128.4h0M500.8 128.7h0M507.3 129.1h0M513.3 129.1h0M535.2 129.3h0M546.3 128.5h0M548.4 129.3h0M567.6 129.3h0M568.5 129.3h0M571.3 129.4h0M572.7 128.6h0M577.1 129.1h0M644.9 128.9h0M510.3 130.2h0M510.5 130.2h0M562.5 130.2h0M571.6 129.8h0M586.9 130.2h0M586.7 130.1h0M589.5 129.5h0M592.4 129.9h0M595.7 129.9h0M632.6 129.8h0M660.8 129.9h0M676.1 130.3h0M506.5 130.5h0M541.9 130.9h0M547.9 131.1h0M549.6 130.9h0M574.0 131.4h0M579.5 131.0h0M615.5 130.4h0M632.4 130.9h0M665.1 130.8h0M529.6 132.2h0M543.9 132.3h0M558.8 131.8h0M583.9 131.4h0M635.5 132.1h0M645.3 132.2h0M667.9 131.7h0M677.5 131.7h0M682.4 132.3h0M515.1 132.4h0M546.4 132.6h0M620.9 133.0h0M654.6 132.8h0M664.6 132.9h0M501.6 133.6h0M517.9 133.4h0M579.9 133.9h0M592.5 133.6h0M599.6 134.3h0M622.4 133.5h0M639.8 133.9h0M659.7 133.9h0M682.6 133.9h0M551.4 134.5h0M554.9 134.6h0M561.1 134.5h0M562.6 134.9h0M582.0 134.6h0M584.7 134.9h0M606.8 135.0h0M617.7 134.6h0M637.8 134.7h0M664.1 135.2h0M664.7 134.6h0M681.5 134.7h0M508.4 135.6h0M515.0 135.7h0M538.2 136.4h0M543.2 136.3h0M563.0 136.3h0M577.8 136.2h0M599.3 136.3h0M602.3 136.0h0M611.7 136.1h0M643.1 135.8h0M662.7 135.8h0M675.1 135.6h0M525.6 137.1h0M547.7 137.0h0M550.1 137.1h0M595.0 137.4h0M614.7 136.7h0M656.5 136.9h0M675.3 137.4h0M502.9 137.9h0M507.3 137.6h0M535.3 137.6h0M541.7 138.2h0M583.1 138.2h0M634.7 137.6h0M641.1 138.0h0M513.9 139.2h0M522.1 138.6h0M529.0 139.3h0M535.2 139.2h0M546.3 139.3h0M550.4 139.2h0M567.3 138.5h0M589.4 138.7h0M609.8 139.0h0M620.6 139.3h0M642.5 139.3h0M670.9 139.3h0M500.8 139.9h0M505.7 140.3h0M612.8 139.8h0M612.8 140.1h0M504.0 140.5h0M514.4 140.8h0M574.4 141.3h0M588.5 141.0h0M608.1 141.4h0M618.0 141.3h0M621.0 140.6h0M624.7 141.3h0M641.8 141.1h0M646.7 140.4h0M662.3 140.6h0M672.0 140.8h0M678.7 140.6h0M683.5 140.7h0M510.4 142.4h0M517.7 142.3h0M533.4 141.4h0M554.3 141.5h0M592.5 141.9h0M630.0 141.6h0M647.2 141.4h0M556.2 142.8h0M584.0 142.9h0M591.4 143.4h0M603.2 142.5h0M636.6 142.7h0M663.4 142.6h0M671.2 142.7h0M505.6 143.7h0M563.4 143.6h0M584.9 143.9h0M615.1 143.9h0M658.5 143.8h0M676.8 143.7h0M502.5 144.8h0M528.0 145.2h0M558.5 144.9h0M646.0 145.1h0M656.1 144.6h0M682.7 144.5h0M521.5 146.2h0M534.7 146.0h0M542.6 145.6h0M553.7 145.8h0M515.3 147.4h0M519.1 146.9h0M544.6 147.1h0M577.1 146.9h0M610.8 147.2h0M612.5 147.3h0M630.6 146.6h0M648.8 147.1h0M648.8 146.4h0M652.6 147.2h0M661.1 146.4h0M507.2 147.6h0M628.8 148.4h0M664.1 148.2h0M668.3 147.8h0M671.2 148.1h0M505.5 149.2h0M544.8 148.7h0M557.8 149.2h0M568.9 148.4h0M574.6 149.1h0M589.2 149.0h0M649.3 149.0h0M669.6 148.8h0M525.2 149.9h0M542.2 149.7h0M556.3 150.2h0M574.0 149.8h0M580.9 150.3h0M647.1 149.6h0M513.9 151.3h0M521.4 150.8h0M567.9 151.0h0M628.0 150.5h0M667.0 151.2h0M560.0 151.5h0M584.4 152.3h0M623.3 152.0h0M648.4 152.3h0M662.5 151.7h0M515.4 153.4h0M534.0 153.2h0M543.4 152.4h0M572.9 152.5h0M608.5 152.9h0M617.9 152.7h0M621.8 152.8h0M655.1 152.6h0M672.2 152.9h0M676.0 152.6h0M530.0 154.4h0M544.4 153.5h0M597.2 154.2h0M637.1 153.9h0M665.2 154.1h0M674.5 153.5h0M675.5 154.0h0M502.8 155.4h0M574.9 154.5h0M594.5 154.8h0M595.2 154.5h0M603.9 154.6h0M605.0 154.9h0M607.6 154.4h0M611.0 154.8h0M650.7 154.6h0M666.6 155.3h0M676.3 154.8h0M501.3 156.0h0M572.6 156.1h0M584.0 155.7h0M599.1 156.1h0M611.4 155.8h0M619.1 156.1h0M629.3 156.4h0M630.6 156.4h0M631.5 156.0h0M635.3 156.0h0M644.0 156.2h0M657.4 155.7h0M666.0 155.8h0M666.1 155.9h0M675.9 156.2h0M523.9 156.5h0M536.9 156.9h0M562.4 157.0h0M562.9 156.7h0M580.0 157.0h0M592.7 156.5h0M607.9 156.6h0M616.4 156.8h0M642.4 156.9h0M649.8 156.6h0M673.8 157.3h0M504.4 158.0h0M504.2 157.8h0M507.1 158.2h0M529.3 157.5h0M539.3 157.7h0M539.2 158.3h0M558.7 157.7h0M579.8 158.1h0M601.7 157.9h0M659.5 158.3h0M507.7 158.8h0M519.3 159.4h0M550.6 158.8h0M584.5 159.2h0M613.7 159.3h0M652.6 159.2h0M671.7 158.8h0M679.4 159.3h0M682.9 158.6h0M543.7 159.8h0M585.4 160.4h0M624.4 159.9h0M644.2 159.7h0M676.8 160.0h0M507.8 160.6h0M530.0 160.8h0M547.5 161.1h0M553.4 160.5h0M557.4 160.8h0M578.9 160.4h0M599.2 160.9h0M619.4 161.1h0M649.4 161.3h0M677.8 160.6h0M510.5 162.0h0M541.7 162.3h0M567.8 162.0h0M576.6 161.5h0M581.8 161.8h0M627.5 161.8h0M631.3 161.6h0M659.7 161.4h0M515.2 162.9h0M545.2 163.0h0M566.3 163.2h0M568.5 162.6h0M588.7 162.5h0M593.6 162.8h0M641.0 163.1h0M647.1 163.0h0M663.3 163.2h0M509.7 163.7h0M523.5 163.5h0M527.2 164.0h0M529.3 163.7h0M564.3 164.4h0M577.4 163.6h0M596.2 163.7h0M639.8 163.8h0M672.2 163.6h0M541.5 165.3h0M544.8 164.7h0M544.9 165.2h0M588.3 164.8h0M597.5 165.3h0M615.0 165.0h0M627.2 165.4h0M643.5 164.5h0M656.5 165.2h0M680.8 165.1h0M682.4 165.3h0M519.4 165.5h0M521.0 165.6h0M531.1 165.9h0M552.2 165.4h0M641.3 166.0h0M641.9 165.8h0M654.5 166.0h0M654.1 165.9h0M505.5 167.2h0M515.9 166.7h0M524.1 166.7h0M549.7 167.4h0M557.2 166.7h0M574.8 166.8h0M589.4 166.9h0M617.5 166.4h0M635.6 167.2h0M637.9 167.1h0M662.9 167.1h0M668.9 167.1h0M519.8 167.7h0M534.9 168.3h0M537.9 167.4h0M561.1 167.5h0M563.4 168.2h0M568.6 167.5h0M606.5 167.6h0M611.3 168.0h0M632.2 168.1h0M647.2 167.7h0M592.6 168.7h0M639.0 169.0h0M648.4 168.7h0M666.4 168.9h0M680.2 168.6h0M598.0 169.8h0M603.7 169.4h0M607.1 169.7h0M611.0 170.3h0M627.4 169.6h0M651.4 169.5h0M680.0 170.3h0M512.5 171.3h0M530.6 171.3h0M534.1 170.9h0M536.8 170.9h0M568.2 170.5h0M617.0 171.3h0M652.9 171.0h0M657.7 171.1h0M537.3 171.5h0M543.9 172.3h0M547.9 171.6h0M550.0 171.9h0M549.7 171.6h0M604.4 172.2h0M631.5 171.6h0M662.1 171.5h0M509.8 173.1h0M518.5 173.1h0M519.7 172.6h0M543.6 172.8h0M576.3 172.9h0M581.5 172.4h0M582.5 172.7h0M647.8 173.2h0M651.2 172.9h0M651.8 173.0h0M664.7 172.4h0M668.5 173.3h0M676.8 173.3h0M508.2 174.0h0M530.9 173.5h0M556.9 173.6h0M596.7 174.3h0M615.0 173.4h0M615.8 174.0h0M644.5 173.5h0M657.2 173.8h0M670.5 174.2h0M522.0 174.5h0M529.6 174.9h0M531.8 174.5h0M586.8 174.8h0M619.0 175.1h0M638.6 175.0h0M639.5 174.8h0M640.7 175.1h0M663.7 174.8h0M674.7 175.0h0M524.3 176.3h0M525.5 175.8h0M606.5 176.1h0M621.1 175.4h0M646.2 176.2h0M665.2 176.0h0M672.0 175.9h0M505.1 176.8h0M508.1 177.0h0M535.2 177.1h0M553.4 177.2h0M586.2 177.0h0M588.0 177.4h0M588.2 177.0h0M596.4 176.5h0M512.9 178.3h0M516.2 177.9h0M522.8 178.1h0M545.0 177.9h0M584.1 178.0h0M588.1 178.0h0M607.9 178.0h0M610.2 177.9h0M619.8 177.5h0M636.9 177.9h0M639.4 177.9h0M507.2 179.3h0M506.7 179.1h0M515.7 178.8h0M520.0 179.1h0M527.2 178.7h0M538.4 178.7h0M587.2 178.9h0M662.6 179.4h0M663.4 179.2h0M534.5 179.5h0M543.7 180.1h0M579.1 179.7h0M595.1 180.1h0M613.0 180.4h0M616.3 179.6h0M620.8 179.6h0M633.6 179.9h0M651.1 179.5h0M500.9 181.1h0M507.0 180.7h0M518.7 181.3h0M527.6 180.6h0M531.0 181.1h0M542.1 180.8h0M562.3 181.3h0M565.4 180.9h0M650.0 181.2h0M654.1 181.1h0M668.1 181.3h0M543.6 181.5h0M545.9 182.1h0M550.8 182.2h0M587.8 181.5h0M520.0 183.4h0M580.5 182.5h0M587.5 182.4h0M604.6 183.2h0M611.7 182.7h0M619.1 183.2h0M647.6 183.1h0M648.4 182.5h0M531.8 184.0h0M533.6 184.3h0M539.0 183.5h0M583.9 183.6h0M590.5 183.6h0M532.0 185.0h0M539.2 185.2h0M578.9 184.6h0M610.1 184.9h0M638.0 185.1h0M655.7 185.3h0M515.7 186.0h0M535.9 186.4h0M598.5 186.2h0M625.4 185.5h0M633.5 186.4h0M637.3 186.2h0M653.1 185.9h0M674.2 185.5h0M682.4 185.9h0M507.6 186.8h0M521.3 187.3h0M527.5 187.2h0M541.2 186.8h0M545.4 186.5h0M548.5 186.9h0M552.5 187.2h0M557.5 186.8h0M586.0 186.8h0M588.6 187.3h0M604.5 186.7h0M619.0 186.6h0M623.0 187.2h0M647.6 186.5h0M648.9 186.5h0M529.1 187.5h0M548.1 187.6h0M570.4 188.2h0M581.3 188.1h0M627.9 187.5h0M642.8 187.5h0M642.8 188.1h0M512.3 189.2h0M514.2 189.0h0M521.0 188.9h0M532.1 189.3h0M547.0 189.2h0M551.6 188.5h0M607.7 188.5h0M610.5 188.8h0M628.7 188.9h0M632.8 189.3h0M639.2 188.8h0M647.7 189.1h0M647.9 189.4h0M659.0 188.7h0M676.1 189.3h0M536.0 189.5h0M536.4 189.8h0M614.5 189.6h0M622.1 189.9h0M625.2 190.0h0M651.8 189.8h0M653.9 189.5h0M663.5 190.0h0M674.4 189.8h0M678.3 190.1h0M550.1 191.0h0M612.5 190.8h0M614.1 191.3h0M615.8 190.7h0M664.3 190.5h0M525.7 191.7h0M531.8 192.2h0M559.1 191.8h0M563.2 192.0h0M578.1 191.5h0M597.9 192.3h0M600.2 192.2h0M612.8 192.4h0M635.7 191.4h0M637.5 191.7h0M652.4 192.3h0M514.3 193.1h0M547.9 192.8h0M567.9 192.7h0M570.8 192.9h0M597.3 192.7h0M599.3 193.1h0M630.8 192.8h0M663.4 193.2h0M502.4 194.0h0M505.1 194.4h0M511.0 193.9h0M530.2 193.5h0M572.2 194.4h0M596.8 194.3h0M596.7 194.4h0M610.5 193.5h0M667.7 194.4h0M676.9 193.6h0M510.3 195.3h0M521.5 195.0h0M536.4 195.2h0M537.3 195.4h0M548.8 194.7h0M639.4 194.7h0M656.4 194.5h0M659.7 194.7h0M675.0 194.7h0M527.9 196.3h0M541.3 196.1h0M574.0 195.5h0M576.8 195.8h0M593.5 195.7h0M594.8 196.3h0M595.9 196.1h0M604.7 196.4h0M627.3 195.7h0M635.7 196.2h0M503.4 197.2h0M508.6 197.4h0M519.9 196.8h0M552.8 196.6h0M580.0 197.4h0M586.7 196.4h0M605.1 197.3h0M625.0 196.9h0M644.2 196.9h0M666.1 196.8h0M667.0 197.3h0M682.4 196.5h0M520.4 198.0h0M537.0 197.7h0M544.1 198.0h0M554.2 198.3h0M557.2 198.4h0M564.9 198.3h0M569.5 198.1h0M589.1 197.7h0M590.0 197.8h0M591.6 197.9h0M636.7 197.4h0M642.7 197.8h0M654.1 198.0h0M657.4 197.5h0M662.4 197.5h0M535.3 199.2h0M556.0 198.5h0M571.7 198.6h0M582.1 198.9h0M641.0 198.4h0M678.0 199.4h0M520.9 199.7h0M528.1 199.9h0M530.3 199.7h0M540.8 199.8h0M559.5 199.7h0M570.6 199.4h0M580.3 199.8h0M595.3 200.2h0M616.3 199.8h0M636.7 200.3h0M637.9 200.1h0M661.3 199.5h0M529.5 201.3h0M543.0 200.8h0M579.0 201.0h0M595.0 200.7h0M638.2 201.2h0M646.0 200.7h0M677.1 200.4h0M678.6 201.1h0M546.2 202.3h0M576.7 201.6h0M591.0 202.2h0M594.6 201.9h0M612.9 201.4h0M619.1 202.2h0M672.8 201.9h0M526.7 203.0h0M533.2 202.9h0M533.9 203.1h0M602.1 203.2h0M603.1 202.8h0M623.9 202.7h0M630.8 203.1h0M648.0 202.6h0M655.4 202.6h0M661.9 203.1h0M661.8 203.3h0M680.3 202.6h0M519.4 203.9h0M531.0 204.2h0M546.2 204.2h0M558.9 204.1h0M563.2 203.8h0M572.8 203.8h0M609.1 203.9h0M625.3 203.4h0M641.7 204.1h0M517.6 205.1h0M519.6 204.6h0M525.3 205.3h0M589.8 204.9h0M605.9 204.6h0M618.1 204.5h0M650.0 205.3h0M650.7 205.2h0M651.1 205.1h0M677.0 204.8h0M526.0 205.8h0M546.1 206.1h0M564.0 206.1h0M572.0 205.7h0M574.7 205.4h0M590.3 206.3h0M608.2 206.4h0" stroke="#16501c" stroke-width="2.0" stroke-linecap="round"/><path d="M683.5 38.9h0M683.0 40.2h0M642.4 41.2h0M629.1 42.9h0M678.6 42.6h0M683.7 42.6h0M593.1 44.3h0M683.1 44.1h0M615.4 44.6h0M653.9 44.9h0M604.2 45.6h0M662.3 46.4h0M600.4 46.9h0M666.2 47.4h0M680.5 46.5h0M601.0 47.6h0M646.4 48.2h0M611.3 48.9h0M629.5 48.9h0M659.4 48.8h0M587.2 49.6h0M627.4 50.4h0M634.4 49.7h0M665.6 49.8h0M677.7 50.1h0M624.3 51.2h0M637.5 50.5h0M666.3 50.8h0M670.5 50.9h0M581.9 52.4h0M641.0 51.4h0M645.7 51.7h0M569.9 52.7h0M600.7 52.7h0M619.4 52.7h0M628.1 52.7h0M655.6 52.9h0M581.7 53.5h0M616.9 53.4h0M670.8 54.6h0M681.7 55.1h0M563.9 55.6h0M600.9 56.0h0M615.9 55.9h0M583.7 57.3h0M626.3 57.3h0M641.4 56.6h0M573.7 57.9h0M577.5 58.2h0M578.1 58.0h0M635.2 57.9h0M651.7 58.4h0M593.1 58.6h0M600.3 58.7h0M601.6 59.8h0M603.5 60.0h0M641.9 59.9h0M669.4 59.8h0M678.3 60.2h0M574.6 60.5h0M613.8 60.9h0M643.5 60.9h0M655.2 61.3h0M563.4 61.8h0M578.6 61.8h0M600.0 62.6h0M606.2 63.0h0M643.3 62.4h0M670.0 62.7h0M595.0 63.4h0M597.3 64.1h0M608.1 64.3h0M618.0 64.1h0M639.2 63.5h0M659.5 64.3h0M661.8 63.7h0M683.1 64.1h0M663.4 64.6h0M613.7 65.5h0M654.7 65.9h0M668.1 66.4h0M681.1 66.1h0M555.3 66.9h0M621.6 67.2h0M660.8 66.4h0M558.6 67.8h0M577.1 67.7h0M589.9 67.6h0M596.7 67.5h0M665.3 67.8h0M549.3 68.6h0M564.7 68.6h0M591.7 68.5h0M609.6 69.1h0M610.6 69.1h0M611.3 68.5h0M674.4 69.0h0M548.0 69.4h0M642.5 70.2h0M658.4 70.2h0M611.3 70.9h0M613.0 71.3h0M547.9 72.1h0M555.3 71.6h0M562.1 72.2h0M591.4 72.2h0M633.0 72.3h0M648.7 72.4h0M672.2 71.9h0M675.5 71.9h0M543.9 73.3h0M552.6 73.4h0M575.0 73.4h0M582.4 72.8h0M593.3 73.3h0M618.4 72.8h0M646.3 72.5h0M682.2 73.4h0M683.2 72.8h0M531.9 73.5h0M569.3 74.0h0M570.1 74.2h0M577.3 74.0h0M580.1 73.8h0M588.2 73.9h0M640.0 73.7h0M652.6 75.2h0M681.6 74.7h0M539.1 75.4h0M544.4 75.8h0M545.1 75.5h0M589.6 76.1h0M622.0 76.3h0M543.0 76.7h0M552.9 77.0h0M556.7 76.4h0M566.8 76.8h0M600.5 77.1h0M615.7 76.7h0M639.5 76.4h0M660.0 77.0h0M664.8 76.7h0M583.4 77.9h0M596.0 78.2h0M601.2 78.3h0M610.1 77.5h0M631.4 77.5h0M679.9 77.9h0M573.8 78.8h0M576.8 78.6h0M648.4 79.1h0M656.1 79.2h0M659.6 79.3h0M598.3 79.8h0M623.3 79.9h0M635.1 80.2h0M549.0 80.5h0M574.6 81.4h0M578.6 80.6h0M624.8 80.9h0M637.4 81.0h0M649.2 80.5h0M651.5 81.3h0M579.7 82.1h0M615.2 81.5h0M671.8 81.5h0M679.2 81.5h0M537.5 83.3h0M549.8 82.8h0M550.2 82.7h0M561.7 82.6h0M533.3 84.3h0M540.5 83.7h0M567.2 83.9h0M571.6 84.3h0M591.3 84.3h0M606.3 84.2h0M613.1 84.1h0M660.5 83.6h0M661.7 83.7h0M668.3 83.8h0M672.9 84.2h0M680.6 83.9h0M601.6 85.0h0M613.8 85.4h0M642.5 85.0h0M650.6 85.0h0M669.2 85.0h0M538.6 85.8h0M553.4 85.6h0M585.1 85.7h0M676.4 86.1h0M683.0 86.0h0M546.2 87.1h0M596.8 87.0h0M612.6 86.8h0M628.8 87.1h0M561.9 88.2h0M571.7 87.7h0M574.2 87.9h0M598.5 88.3h0M610.5 88.1h0M626.0 87.4h0M631.8 87.8h0M678.5 87.7h0M541.4 88.9h0M576.6 88.5h0M602.6 89.2h0M626.0 89.1h0M669.3 88.9h0M677.2 89.3h0M533.8 89.7h0M610.3 90.2h0M618.5 89.7h0M559.7 91.0h0M596.4 91.2h0M611.9 91.3h0M664.5 90.7h0M535.8 91.6h0M593.0 91.9h0M604.0 91.5h0M612.4 92.2h0M665.9 92.3h0M517.6 92.5h0M522.1 92.6h0M529.2 92.4h0M571.4 93.2h0M625.6 92.8h0M630.0 93.0h0M559.1 93.6h0M559.0 93.6h0M571.2 93.9h0M579.5 93.9h0M604.4 94.0h0M520.4 94.7h0M566.3 94.5h0M575.1 95.2h0M581.4 94.7h0M623.3 95.2h0M642.2 95.3h0M579.4 95.5h0M613.0 95.5h0M616.3 96.2h0M618.9 95.4h0M639.8 95.6h0M680.8 96.3h0M520.7 97.4h0M580.6 96.5h0M589.2 96.5h0M608.9 97.2h0M668.1 96.5h0M524.1 97.4h0M541.5 98.2h0M550.8 98.0h0M677.0 97.8h0M528.7 98.8h0M566.8 98.9h0M587.4 98.5h0M649.8 99.1h0M575.9 100.4h0M634.6 99.5h0M637.2 99.9h0M647.1 100.2h0M539.8 100.9h0M542.7 101.0h0M545.5 100.9h0M547.5 101.3h0M551.9 101.4h0M565.9 101.1h0M591.6 101.0h0M611.8 100.7h0M591.5 102.1h0M594.4 101.9h0M609.4 101.8h0M644.3 101.7h0M665.4 102.3h0M615.2 102.8h0M644.1 103.2h0M544.5 103.8h0M556.1 104.2h0M657.8 103.7h0M561.6 104.4h0M584.5 105.3h0M593.5 104.9h0M622.3 104.9h0M679.6 105.4h0M682.9 105.2h0M544.4 106.1h0M623.1 105.9h0M644.6 105.5h0M523.7 106.8h0M596.2 107.1h0M622.8 106.5h0M623.1 106.9h0M653.1 107.2h0M528.9 107.9h0M549.4 107.4h0M575.2 108.0h0M632.4 108.3h0M655.4 108.0h0M658.8 108.3h0M668.2 107.6h0M556.5 109.4h0M627.6 108.8h0M589.2 109.5h0M614.8 109.5h0M653.6 110.1h0M658.3 110.3h0M503.6 111.4h0M512.3 110.6h0M526.3 111.1h0M572.8 111.2h0M617.4 111.3h0M645.6 110.7h0M609.6 112.0h0M623.1 111.9h0M628.0 112.1h0M629.8 111.9h0M638.0 112.0h0M677.1 112.1h0M678.1 112.3h0M507.4 113.0h0M532.5 112.4h0M534.8 112.5h0M603.0 112.8h0M655.0 112.9h0M657.5 113.0h0M510.3 114.1h0M540.9 113.9h0M555.9 113.8h0M565.6 113.8h0M627.4 114.2h0M523.1 114.9h0M545.9 114.5h0M612.2 114.5h0M552.1 116.1h0M608.3 115.4h0M610.7 116.1h0M630.6 115.4h0M516.4 117.0h0M537.5 117.0h0M601.6 117.4h0M607.4 117.1h0M632.8 116.7h0M662.2 117.4h0M522.9 117.4h0M535.8 117.6h0M516.0 119.3h0M520.0 119.0h0M593.0 119.0h0M619.7 118.8h0M639.3 119.4h0M503.0 120.3h0M514.3 119.4h0M566.3 119.9h0M588.2 120.2h0M616.1 120.1h0M634.7 119.5h0M653.3 120.4h0M654.6 119.6h0M654.7 119.8h0M683.2 119.4h0M507.2 120.4h0M519.8 120.6h0M587.7 120.4h0M589.7 120.9h0M607.5 121.1h0M625.9 120.4h0M539.8 121.5h0M543.6 121.5h0M554.5 122.3h0M509.9 122.5h0M546.2 123.3h0M547.6 123.3h0M601.1 123.2h0M608.5 123.0h0M635.4 123.2h0M671.1 123.4h0M537.5 124.3h0M538.2 124.0h0M540.7 124.0h0M545.5 124.2h0M586.5 123.5h0M595.0 123.8h0M618.5 124.2h0M626.9 123.4h0M642.0 123.7h0M682.2 124.1h0M545.4 124.5h0M582.7 125.2h0M605.9 125.3h0M614.4 125.1h0M615.1 125.2h0M621.4 125.0h0M624.8 125.0h0M642.0 124.7h0M679.2 125.3h0M512.3 125.6h0M531.0 125.5h0M672.5 125.8h0M503.3 127.4h0M509.3 126.5h0M520.4 126.6h0M569.7 127.4h0M571.9 127.2h0M624.4 126.5h0M515.4 128.3h0M516.1 127.8h0M517.8 127.6h0M557.1 127.8h0M589.1 128.0h0M597.1 127.5h0M601.4 127.5h0M609.5 128.0h0M639.7 128.2h0M669.2 127.5h0M536.0 129.3h0M544.4 128.6h0M560.4 129.2h0M568.7 129.3h0M580.7 129.1h0M610.1 128.5h0M682.1 128.8h0M509.1 130.4h0M509.9 130.1h0M538.5 129.5h0M550.5 129.4h0M565.9 129.7h0M566.8 130.3h0M579.2 129.7h0M594.3 130.3h0M607.2 129.6h0M609.5 129.6h0M537.2 130.6h0M548.9 130.6h0M558.4 131.0h0M560.5 130.7h0M608.5 131.0h0M621.0 131.3h0M644.6 131.3h0M655.5 130.4h0M680.7 130.5h0M501.1 131.4h0M505.6 132.1h0M510.2 132.2h0M570.8 132.0h0M586.5 132.1h0M592.0 131.6h0M599.1 131.6h0M647.0 131.5h0M649.6 132.1h0M529.1 132.9h0M623.2 132.6h0M638.1 132.4h0M646.8 133.2h0M528.6 133.9h0M528.0 134.0h0M534.3 133.6h0M584.5 134.1h0M592.2 134.1h0M662.9 133.6h0M673.1 134.0h0M674.7 134.3h0M505.6 134.9h0M509.0 135.0h0M527.5 135.0h0M536.2 134.8h0M575.0 134.7h0M586.4 134.8h0M608.9 134.8h0M614.5 134.8h0M642.8 135.3h0M528.4 135.9h0M538.6 136.1h0M567.0 135.5h0M602.0 136.1h0M606.5 136.2h0M642.6 135.5h0M653.7 135.9h0M510.1 136.8h0M529.5 136.5h0M571.5 136.5h0M571.0 136.4h0M615.8 136.5h0M640.3 137.1h0M683.7 136.8h0M552.5 137.8h0M588.5 138.2h0M595.8 137.8h0M619.3 138.4h0M530.5 139.2h0M535.3 139.2h0M579.8 139.3h0M643.4 138.4h0M665.9 139.1h0M554.1 140.2h0M562.6 140.3h0M582.4 139.4h0M605.2 139.6h0M606.1 140.2h0M634.0 139.6h0M650.7 140.3h0M655.9 139.9h0M660.9 140.2h0M668.8 140.1h0M552.9 140.6h0M564.9 140.4h0M607.2 140.6h0M620.9 141.1h0M638.8 140.8h0M666.9 140.7h0M681.9 141.1h0M517.3 142.2h0M520.1 142.1h0M557.6 141.9h0M580.6 142.4h0M665.8 141.9h0M669.0 141.8h0M677.1 141.7h0M558.4 142.9h0M617.9 142.7h0M631.1 142.5h0M643.2 143.4h0M664.7 142.4h0M673.7 143.2h0M503.2 143.7h0M517.4 143.9h0M543.6 144.2h0M572.2 143.8h0M596.9 143.8h0M600.7 144.1h0M603.6 143.9h0M648.1 143.8h0M509.4 144.7h0M516.4 144.9h0M520.7 145.2h0M521.4 145.3h0M522.9 144.7h0M537.6 144.7h0M574.6 144.8h0M593.6 145.1h0M679.9 145.1h0M503.3 146.0h0M538.4 145.6h0M604.7 145.7h0M622.0 145.5h0M509.1 147.0h0M534.2 146.8h0M571.8 146.4h0M504.1 147.9h0M535.8 147.8h0M543.2 148.2h0M562.9 147.8h0M587.4 147.9h0M588.1 148.4h0M640.3 148.1h0M642.2 148.2h0M533.8 149.0h0M552.6 149.3h0M562.9 148.7h0M585.3 149.2h0M606.8 149.4h0M623.0 149.2h0M644.3 148.5h0M666.5 149.2h0M678.4 149.2h0M519.1 149.8h0M529.4 150.4h0M538.1 150.2h0M562.6 149.5h0M562.2 149.8h0M565.1 149.6h0M586.5 149.7h0M618.5 149.8h0M630.1 150.1h0M634.7 149.5h0M683.6 150.3h0M510.1 151.1h0M525.0 151.1h0M537.7 150.6h0M540.5 150.9h0M570.9 150.8h0M586.2 151.2h0M586.9 150.5h0M592.4 150.8h0M606.7 150.7h0M640.9 151.3h0M553.6 151.4h0M556.2 151.8h0M556.6 152.0h0M585.1 151.9h0M529.3 152.9h0M535.4 153.2h0M587.3 152.6h0M618.0 153.1h0M625.9 153.2h0M653.5 152.5h0M509.9 154.2h0M520.9 154.3h0M534.0 153.7h0M536.0 153.5h0M553.3 154.2h0M569.5 153.6h0M583.7 153.7h0M623.8 153.7h0M660.9 153.5h0M662.7 154.5h0M670.3 154.7h0M671.9 154.8h0M677.0 154.7h0M683.4 154.6h0M505.8 155.6h0M513.3 155.8h0M517.9 156.4h0M543.7 156.2h0M548.5 155.5h0M580.8 156.0h0M616.6 155.8h0M508.1 157.0h0M509.7 156.4h0M534.1 156.9h0M539.4 157.0h0M541.9 157.2h0M566.9 157.1h0M620.7 156.6h0M623.3 157.1h0M639.8 156.7h0M654.7 157.0h0M675.3 157.0h0M679.1 156.5h0M505.5 157.7h0M511.0 157.7h0M548.1 158.0h0M585.4 157.7h0M664.8 158.2h0M518.5 158.8h0M548.1 158.5h0M623.4 159.2h0M633.2 158.4h0M642.4 159.0h0M506.7 160.2h0M518.3 159.4h0M551.3 160.1h0M558.4 160.3h0M682.9 159.8h0M582.4 160.9h0M593.4 161.1h0M605.2 160.6h0M608.1 160.9h0M650.7 160.5h0M677.4 161.0h0M503.9 162.0h0M522.9 162.2h0M527.4 161.9h0M535.1 162.2h0M596.0 161.8h0M655.6 162.3h0M655.4 161.6h0M667.6 162.4h0M501.4 163.2h0M519.0 163.4h0M526.6 162.6h0M553.3 163.2h0M560.1 162.4h0M647.9 163.1h0M659.4 163.0h0M510.3 164.2h0M554.0 163.8h0M614.0 163.6h0M617.7 163.9h0M633.8 163.5h0M672.4 163.8h0M532.0 165.0h0M552.1 165.1h0M571.0 164.5h0M633.0 165.1h0M649.3 164.5h0M518.2 166.3h0M528.1 165.9h0M558.7 165.7h0M574.4 166.1h0M611.6 166.1h0M616.2 165.8h0M618.0 165.7h0M620.6 166.4h0M653.5 165.8h0M661.4 166.4h0M665.9 165.6h0M674.0 166.4h0M677.2 165.8h0M681.2 166.2h0M521.0 167.2h0M534.2 167.3h0M534.6 167.3h0M552.4 166.9h0M612.8 166.8h0M623.2 167.3h0M623.5 166.5h0M644.6 167.0h0M645.1 167.2h0M651.4 167.4h0M664.1 167.0h0M518.0 167.9h0M519.6 167.7h0M532.4 167.7h0M547.2 168.3h0M560.5 167.9h0M571.1 167.5h0M575.3 167.6h0M607.6 168.3h0M608.4 167.9h0M663.8 167.6h0M667.5 168.3h0M504.6 168.7h0M538.4 168.8h0M555.2 169.1h0M562.3 169.1h0M590.5 169.4h0M536.7 169.4h0M567.1 170.1h0M630.8 170.0h0M647.4 169.8h0M648.1 169.8h0M677.1 169.5h0M680.0 170.4h0M513.6 170.7h0M525.6 170.8h0M580.7 170.9h0M622.2 171.2h0M511.3 172.4h0M618.2 171.9h0M631.4 171.5h0M640.5 171.6h0M537.2 173.0h0M607.8 172.6h0M661.3 172.7h0M681.3 173.1h0M550.1 173.6h0M559.1 174.2h0M579.9 173.8h0M624.3 174.0h0M627.0 174.2h0M511.8 174.6h0M542.2 174.7h0M552.5 174.5h0M575.6 174.6h0M610.8 175.3h0M630.9 175.3h0M652.4 174.4h0M518.7 175.6h0M525.5 176.3h0M581.0 176.1h0M678.9 176.2h0M680.2 176.1h0M535.8 176.6h0M590.1 176.6h0M597.3 176.5h0M661.7 176.9h0M505.0 177.4h0M537.4 177.6h0M544.8 178.0h0M554.3 177.5h0M567.3 177.7h0M584.2 177.7h0M606.8 178.2h0M619.6 177.6h0M673.3 178.1h0M680.4 178.0h0M531.2 178.7h0M586.3 178.5h0M634.9 178.9h0M638.5 179.0h0M668.0 178.7h0M514.5 180.3h0M515.2 180.3h0M616.6 180.1h0M627.7 179.9h0M632.3 179.6h0M651.7 179.5h0M675.0 179.9h0M504.1 180.9h0M521.2 180.6h0M556.7 180.5h0M641.9 180.8h0M605.2 182.4h0M624.0 181.4h0M642.0 181.6h0M671.2 182.3h0M515.4 182.7h0M589.8 183.2h0M648.2 182.7h0M584.1 183.5h0M609.0 183.5h0M631.0 183.4h0M630.7 184.1h0M644.9 184.2h0M518.5 185.4h0M541.3 185.0h0M576.2 185.2h0M593.5 184.8h0M596.1 185.2h0M503.8 186.3h0M518.8 185.8h0M612.4 185.4h0M549.0 187.3h0M558.8 187.2h0M623.6 187.1h0M505.6 187.5h0M522.9 188.0h0M540.0 187.6h0M636.4 188.0h0M644.0 187.9h0M666.7 187.6h0M524.5 189.3h0M551.9 188.8h0M629.0 188.9h0M541.7 189.5h0M548.5 189.5h0M555.3 189.6h0M571.4 190.3h0M666.5 189.6h0M502.8 190.9h0M559.4 190.9h0M573.5 190.6h0M578.8 190.7h0M608.5 190.7h0M617.9 191.2h0M622.7 191.3h0M623.6 191.1h0M640.7 190.8h0M508.5 191.5h0M534.2 191.5h0M580.4 191.6h0M593.0 191.7h0M516.4 192.4h0M522.4 192.5h0M531.7 192.6h0M563.6 193.2h0M564.5 192.4h0M571.4 192.6h0M586.7 192.7h0M615.6 193.2h0M615.6 193.4h0M644.4 193.1h0M653.7 193.1h0M670.6 192.9h0M543.8 193.5h0M548.8 193.6h0M549.5 194.2h0M609.5 194.2h0M620.1 193.7h0M627.1 194.3h0M663.9 193.5h0M683.1 193.6h0M571.5 194.8h0M621.2 194.9h0M642.0 194.7h0M682.3 194.8h0M681.8 194.8h0M575.0 196.1h0M588.9 196.3h0M617.7 196.0h0M661.8 195.8h0M538.2 196.6h0M580.5 196.8h0M600.1 197.4h0M666.1 196.5h0M510.0 197.9h0M540.8 198.2h0M578.9 197.4h0M648.6 197.9h0M673.3 198.2h0M506.8 199.3h0M512.7 199.3h0M513.0 199.2h0M534.0 199.3h0M553.0 198.5h0M571.7 198.8h0M628.5 198.8h0M656.4 199.3h0M683.2 199.4h0M518.3 199.6h0M551.3 199.9h0M560.3 199.9h0M567.2 200.4h0M580.4 199.5h0M606.4 199.9h0M676.1 199.5h0M680.7 200.3h0M518.6 200.5h0M631.1 201.1h0M673.7 201.3h0M568.4 201.6h0M574.6 201.6h0M591.6 201.9h0M642.3 201.7h0M643.4 202.1h0M676.2 202.3h0M503.9 202.6h0M579.1 203.1h0M581.8 203.2h0M669.3 203.1h0M677.9 202.9h0M500.8 203.9h0M509.0 203.9h0M514.6 204.0h0M535.8 204.4h0M553.5 204.1h0M599.5 203.5h0M619.4 204.0h0M531.9 204.7h0M542.3 204.6h0M543.6 205.1h0M557.4 204.7h0M598.5 204.9h0M621.0 205.2h0M521.0 205.9h0M636.3 206.2h0" stroke="#207a28" stroke-width="2.0" stroke-linecap="round"/><path d="M650.9 38.7h0M649.3 40.8h0M632.7 43.8h0M663.5 44.3h0M628.2 45.8h0M639.0 46.8h0M654.9 46.5h0M639.5 48.2h0M679.2 47.7h0M656.8 49.0h0M657.5 50.3h0M580.1 51.1h0M598.0 50.4h0M598.6 50.8h0M649.2 51.1h0M617.8 51.4h0M607.8 53.4h0M615.5 52.5h0M605.6 53.5h0M591.2 55.3h0M569.5 56.3h0M593.7 57.8h0M614.4 58.0h0M677.6 57.9h0M579.4 59.0h0M580.8 58.6h0M652.3 58.7h0M614.3 59.5h0M671.4 60.0h0M567.0 61.1h0M576.6 60.7h0M659.9 61.0h0M669.2 60.6h0M594.5 61.5h0M558.4 62.9h0M566.1 63.1h0M566.9 63.1h0M634.6 63.0h0M643.9 62.7h0M569.6 64.0h0M570.3 64.0h0M617.9 63.7h0M547.4 64.8h0M557.6 64.8h0M593.8 64.8h0M594.7 64.5h0M590.2 66.0h0M620.5 66.1h0M677.4 65.5h0M622.7 67.1h0M633.1 66.6h0M591.4 67.5h0M601.6 67.6h0M619.9 67.5h0M624.2 67.5h0M631.4 68.4h0M558.6 68.5h0M615.8 70.0h0M569.4 71.1h0M577.4 70.8h0M618.6 70.8h0M668.7 71.1h0M597.9 75.1h0M645.5 74.4h0M666.2 75.0h0M625.1 75.4h0M670.4 75.9h0M620.4 79.0h0M657.1 79.2h0M582.1 79.9h0M544.6 80.5h0M665.2 81.2h0M672.1 82.3h0M568.1 82.6h0M582.8 82.8h0M537.4 84.2h0M539.2 83.8h0M599.7 84.3h0M594.4 84.5h0M582.7 85.5h0M683.3 86.5h0M545.0 87.7h0M548.6 88.3h0M549.5 87.6h0M628.1 87.9h0M678.2 88.3h0M617.9 89.4h0M544.8 90.1h0M594.3 90.4h0M678.6 90.1h0M571.7 90.6h0M624.0 90.6h0M633.8 90.6h0M533.4 91.8h0M551.2 91.8h0M578.1 92.3h0M659.5 91.8h0M535.9 92.7h0M564.1 93.1h0M633.8 92.6h0M636.2 92.6h0M603.0 93.8h0M659.5 93.6h0M661.8 94.1h0M620.9 94.8h0M639.7 94.6h0M546.3 96.3h0M659.3 95.8h0M605.4 96.5h0M650.1 97.2h0M606.7 97.6h0M525.6 98.7h0M589.2 98.8h0M595.4 99.4h0M553.1 99.8h0M628.8 99.9h0M597.5 101.7h0M678.6 101.7h0M540.5 102.6h0M660.4 102.5h0M530.9 104.2h0M562.6 103.8h0M622.5 104.7h0M658.0 104.6h0M659.4 105.4h0M518.4 105.4h0M546.0 105.5h0M590.6 106.0h0M505.8 107.2h0M605.5 106.6h0M517.6 108.4h0M540.5 107.7h0M557.2 107.5h0M591.3 107.7h0M597.6 107.9h0M523.6 109.2h0M559.6 108.5h0M584.6 108.8h0M598.5 108.5h0M609.3 108.7h0M514.8 109.6h0M555.0 110.3h0M612.4 110.0h0M639.5 110.2h0M663.1 110.4h0M581.4 111.3h0M560.7 111.6h0M594.7 112.2h0M569.0 112.8h0M592.7 112.5h0M538.3 113.8h0M572.1 114.7h0M580.0 115.0h0M611.3 114.6h0M619.2 114.8h0M630.8 114.6h0M602.7 116.2h0M504.4 116.7h0M553.5 116.9h0M555.9 117.0h0M560.5 116.9h0M614.7 117.1h0M621.6 116.7h0M660.1 116.7h0M617.9 117.8h0M642.7 118.0h0M645.9 117.6h0M546.2 119.4h0M598.5 118.6h0M604.7 118.5h0M629.8 118.5h0M600.4 120.1h0M657.4 120.3h0M649.9 121.2h0M666.5 121.2h0M590.9 122.1h0M507.3 122.9h0M515.4 123.5h0M549.1 124.2h0M632.6 124.1h0M644.2 124.3h0M656.4 123.8h0M662.0 123.7h0M670.3 124.4h0M672.7 124.2h0M523.4 124.4h0M525.6 125.7h0M538.7 125.9h0M542.2 125.7h0M545.0 126.1h0M599.1 125.9h0M663.2 125.9h0M660.2 127.0h0M542.9 128.1h0M552.5 128.1h0M614.5 128.3h0M621.9 128.2h0M652.3 127.8h0M531.2 128.6h0M616.4 128.9h0M621.8 129.0h0M662.5 129.2h0M556.0 130.3h0M646.0 129.9h0M663.2 129.9h0M586.5 131.2h0M635.7 131.3h0M681.4 131.0h0M639.3 131.7h0M659.2 131.6h0M671.9 132.1h0M551.8 133.1h0M538.1 133.9h0M571.7 134.0h0M553.7 134.5h0M562.9 135.3h0M619.3 134.4h0M641.4 134.8h0M604.1 135.8h0M511.4 136.7h0M530.8 137.2h0M558.4 137.3h0M617.6 136.5h0M625.9 136.7h0M649.8 137.2h0M535.2 137.9h0M609.5 138.4h0M668.9 138.0h0M502.3 139.4h0M518.6 138.9h0M552.0 139.1h0M554.4 139.0h0M586.3 139.2h0M603.7 139.3h0M556.7 139.9h0M539.8 140.5h0M598.3 140.8h0M677.7 140.6h0M657.8 141.6h0M522.8 143.1h0M530.7 142.8h0M539.9 142.5h0M557.3 142.9h0M667.8 142.6h0M556.9 143.4h0M591.5 143.4h0M592.6 144.2h0M602.5 143.8h0M558.8 144.5h0M648.4 145.0h0M513.4 145.9h0M524.5 145.6h0M536.0 145.7h0M541.1 146.4h0M566.6 145.4h0M529.6 146.7h0M599.4 146.6h0M629.7 146.5h0M660.0 147.0h0M504.6 147.5h0M536.7 147.8h0M549.2 148.2h0M565.0 147.9h0M612.6 148.3h0M663.1 148.2h0M518.9 149.3h0M540.3 148.6h0M544.4 149.1h0M574.5 149.0h0M644.3 148.9h0M556.5 150.0h0M631.7 150.0h0M671.4 149.6h0M565.4 150.5h0M601.9 150.7h0M616.6 151.4h0M620.2 151.2h0M558.1 151.7h0M590.0 152.0h0M626.1 151.9h0M628.7 152.4h0M632.7 152.3h0M634.0 151.5h0M550.0 153.0h0M591.3 152.7h0M516.7 154.3h0M576.3 154.3h0M594.4 153.9h0M645.0 154.3h0M575.4 155.0h0M606.3 154.8h0M640.7 155.0h0M549.1 157.3h0M578.5 156.5h0M676.1 156.6h0M517.8 157.8h0M593.3 157.8h0M644.9 157.4h0M670.2 157.5h0M565.6 160.1h0M677.4 160.2h0M514.5 160.9h0M553.6 160.9h0M581.4 160.6h0M610.6 161.3h0M633.6 161.2h0M634.1 161.2h0M645.0 160.9h0M528.4 162.3h0M590.5 162.3h0M611.5 162.0h0M670.5 162.9h0M508.5 164.6h0M513.2 165.0h0M553.9 164.6h0M588.5 165.0h0M608.8 164.6h0M645.4 164.6h0M577.3 166.2h0M503.6 167.4h0M574.8 166.5h0M666.3 166.4h0M513.9 167.6h0M573.8 167.7h0M584.3 167.6h0M597.1 167.4h0M666.0 167.5h0M582.0 169.2h0M519.5 169.6h0M557.2 170.3h0M602.8 169.7h0M508.3 170.6h0M563.5 171.1h0M613.3 170.4h0M642.4 170.9h0M683.3 170.5h0M590.1 171.7h0M654.4 172.2h0M665.2 172.3h0M534.5 173.1h0M605.0 173.4h0M631.4 173.4h0M653.3 174.4h0M500.9 176.0h0M675.5 176.4h0M530.5 176.5h0M592.6 176.6h0M646.6 176.8h0M662.1 176.8h0M639.5 178.3h0M660.8 177.7h0M679.0 177.7h0M613.3 178.4h0M626.6 179.3h0M674.8 179.0h0M660.1 180.1h0M683.6 179.7h0M504.3 181.5h0M564.3 182.2h0M648.7 181.6h0M656.6 181.9h0M501.6 182.4h0M542.6 182.6h0M658.2 183.2h0M512.9 184.3h0M599.9 184.1h0M664.7 184.0h0M520.8 184.4h0M535.4 184.6h0M564.1 185.1h0M551.4 185.6h0M566.4 186.0h0M622.4 185.9h0M665.9 186.2h0M500.8 186.6h0M505.8 186.8h0M594.1 187.1h0M646.1 186.8h0M505.9 187.4h0M572.9 187.6h0M526.1 189.3h0M568.6 189.0h0M593.5 189.4h0M598.9 188.5h0M609.9 188.5h0M664.9 189.3h0M515.8 191.1h0M619.9 191.0h0M650.6 190.9h0M506.2 191.8h0M627.9 191.4h0M593.3 193.0h0M631.0 193.3h0M666.6 193.2h0M570.7 194.3h0M601.2 194.0h0M668.2 193.4h0M619.2 194.6h0M575.4 195.6h0M665.2 196.3h0M543.1 196.5h0M513.8 198.1h0M522.5 197.4h0M554.0 198.2h0M614.6 197.8h0M622.8 198.3h0M628.6 198.2h0M503.2 198.5h0M584.6 198.4h0M626.9 199.0h0M605.3 200.2h0M625.1 199.9h0M670.8 199.7h0M674.6 199.5h0M605.3 201.2h0M640.3 201.2h0M544.1 201.5h0M548.6 201.6h0M560.2 201.4h0M539.3 203.0h0M617.9 203.1h0M642.3 203.1h0M541.3 204.1h0M590.7 204.1h0M599.4 203.7h0M673.5 204.3h0M581.7 204.6h0M676.1 205.3h0M559.8 205.9h0M563.4 206.3h0M577.0 205.4h0M676.4 205.6h0M683.2 205.9h0" stroke="#30a238" stroke-width="2.1" stroke-linecap="round"/><path d="M617.1 51.3h0M616.7 55.1h0M617.0 57.2h0M577.9 61.8h0M573.6 67.9h0M679.9 70.4h0M582.8 75.7h0M564.9 77.5h0M663.6 78.5h0M614.9 80.3h0M596.8 85.4h0M527.3 89.8h0M565.4 95.5h0M655.3 97.6h0M620.1 101.6h0M534.2 105.1h0M536.6 104.6h0M628.7 105.6h0M613.3 108.7h0M650.9 111.4h0M538.1 116.7h0M614.0 116.7h0M627.8 127.3h0M566.9 131.5h0M615.3 132.2h0M512.2 134.0h0M631.4 133.4h0M570.6 138.2h0M676.1 141.2h0M513.7 144.6h0M537.6 146.7h0M553.9 147.7h0M623.8 148.6h0M655.8 148.7h0M536.4 150.2h0M602.5 150.6h0M657.4 150.7h0M624.0 153.0h0M599.7 154.7h0M642.0 159.2h0M627.9 160.4h0M555.7 161.9h0M616.3 164.3h0M557.8 169.6h0M649.9 170.1h0M641.5 175.0h0M592.6 179.4h0M559.7 183.0h0M580.7 186.5h0M633.0 191.0h0M539.6 191.9h0M653.3 193.1h0M604.5 193.9h0M522.8 195.8h0M579.5 196.6h0M515.8 197.9h0M658.8 198.4h0M544.8 203.8h0M577.0 204.1h0" stroke="#90b898" stroke-width="2.1" stroke-linecap="round"/><path d="M623.0 41.5h0M642.7 41.9h0M679.6 41.8h0M641.7 43.1h0M650.2 42.8h0M647.5 44.1h0M655.9 43.7h0M607.7 46.1h0M622.5 45.8h0M654.7 46.0h0M598.5 47.2h0M677.1 47.1h0M564.7 47.7h0M597.1 48.7h0M598.8 48.6h0M619.9 49.2h0M624.6 48.5h0M660.2 48.6h0M587.7 50.1h0M601.8 49.8h0M620.9 50.1h0M648.8 49.9h0M667.9 49.5h0M592.7 50.5h0M622.5 51.3h0M662.8 50.5h0M574.6 52.3h0M595.7 52.4h0M676.0 54.5h0M564.4 55.7h0M596.6 55.7h0M642.8 56.0h0M663.6 55.5h0M623.8 57.2h0M654.3 58.7h0M559.2 61.2h0M563.3 62.4h0M572.9 62.8h0M574.3 63.7h0M570.0 65.2h0M560.4 66.2h0M549.9 69.1h0M549.2 70.3h0M551.3 70.4h0M549.6 71.5h0M544.2 75.7h0M543.9 77.5h0M576.8 80.5h0M584.2 81.3h0M543.1 81.9h0M543.0 81.4h0M532.5 83.2h0M528.4 84.9h0M524.1 90.2h0M655.5 92.1h0M533.7 94.6h0M525.2 99.8h0M507.4 105.0h0M503.2 110.5h0M535.5 117.4h0M605.4 120.2h0M551.9 141.0h0M605.1 143.9h0M668.8 144.6h0M556.0 155.0h0M644.4 155.9h0M647.4 156.1h0M561.7 161.7h0M674.2 162.3h0M505.4 163.3h0M657.5 182.2h0M662.7 190.3h0M621.6 202.2h0M551.4 42.2h0M677.7 40.3h0M606.8 44.7h0M623.0 43.7h0M565.0 49.1h0M601.3 51.3h0M650.0 52.0h0M597.9 54.1h0M577.0 53.0h0M676.2 52.1h0M644.9 56.5h0M654.2 61.0h0M563.9 63.9h0M569.4 66.9h0M562.4 67.9h0M550.6 70.1h0M547.3 71.0h0M558.1 74.9h0M539.3 78.2h0M575.8 78.7h0M527.2 84.1h0M535.6 83.6h0M537.1 85.4h0M531.1 88.7h0M534.3 96.3h0M523.7 98.6h0M540.3 120.3h0M546.0 137.4h0M606.3 143.5h0M638.4 191.1h0" stroke="#62206a" stroke-width="3.0" stroke-linecap="round"/><path d="M551.2 40.8h0M660.4 42.0h0M617.0 43.6h0M613.1 44.8h0M663.5 44.6h0M632.2 46.7h0M633.6 46.8h0M650.5 47.2h0M615.4 48.1h0M678.0 47.6h0M577.3 48.5h0M609.7 49.4h0M615.3 49.0h0M615.7 49.7h0M596.3 51.1h0M615.8 52.0h0M562.1 52.6h0M625.5 53.3h0M583.3 53.6h0M589.7 53.9h0M614.0 53.9h0M616.5 56.3h0M553.1 59.0h0M554.4 62.2h0M557.9 64.2h0M548.8 65.9h0M545.3 67.3h0M551.2 66.7h0M560.5 66.6h0M561.2 69.7h0M542.8 72.0h0M550.6 73.5h0M535.2 75.1h0M556.0 74.9h0M552.9 75.9h0M549.7 77.5h0M540.8 78.8h0M544.8 80.8h0M535.3 85.3h0M537.8 86.5h0M532.5 88.8h0M662.5 90.0h0M523.3 91.8h0M525.0 99.8h0M508.3 100.9h0M659.6 101.9h0M512.9 106.0h0M511.2 109.4h0M502.6 109.9h0M501.0 113.8h0M517.4 117.8h0M506.8 119.7h0M542.2 120.0h0M534.4 121.2h0M514.4 130.9h0M544.5 135.5h0M668.1 136.0h0M669.5 155.4h0M624.6 174.0h0M553.2 174.7h0M637.8 189.4h0M675.6 197.5h0M662.0 45.6h0M599.5 45.5h0M579.6 49.4h0M614.9 50.4h0M620.4 47.0h0M669.3 51.4h0M622.0 53.2h0M575.9 51.9h0M615.3 54.1h0M662.1 54.6h0M624.0 55.7h0M553.0 56.5h0M575.0 62.3h0M558.7 62.1h0M561.3 68.1h0M536.3 76.0h0M544.3 83.4h0M511.9 106.7h0M510.9 110.9h0M501.6 111.3h0M507.3 118.5h0M667.3 144.6h0M645.0 157.3h0M646.3 158.3h0M561.8 163.6h0M673.0 163.1h0" stroke="#9a38a4" stroke-width="3.4" stroke-linecap="round"/><path d="M634.8 45.8h0M596.0 52.8h0M576.2 54.6h0M629.8 56.1h0M535.1 76.3h0M572.2 92.9h0M536.6 93.8h0M509.4 109.9h0M505.2 112.2h0M564.7 142.7h0M615.7 41.5h0M555.5 61.3h0M571.8 63.7h0M544.7 71.9h0M533.7 84.7h0M516.9 119.2h0" stroke="#c090c8" stroke-width="3.0" stroke-linecap="round"/></g></g><g clip-path="url(#iclipe)"><rect x="585.9" y="106.9" width="92.1" height="92.8" fill="#000"/><g filter="url(#insblur)"><path d="M609.0 107.5h0M666.3 107.2h0M620.5 108.2h0M653.9 108.1h0M644.1 110.6h0M643.5 111.7h0M601.0 111.9h0M617.3 118.8h0M635.8 118.8h0M630.2 119.0h0M652.0 119.9h0M653.4 122.4h0M598.4 126.6h0M664.3 126.2h0M612.0 128.3h0M655.7 128.2h0M600.2 130.2h0M651.6 132.7h0M670.0 132.1h0M675.1 133.0h0M642.5 135.5h0M599.0 137.1h0M665.6 137.2h0M643.4 139.4h0M653.3 139.8h0M613.5 140.7h0M625.8 140.2h0M634.2 140.0h0M622.6 141.7h0M627.3 141.3h0M631.1 141.8h0M592.8 144.9h0M630.3 144.2h0M633.8 147.3h0M661.1 149.7h0M592.0 151.7h0M631.2 152.2h0M597.5 157.5h0M652.9 157.0h0M591.2 158.7h0M635.2 158.9h0M673.3 160.3h0M592.9 162.8h0M594.8 164.2h0M626.1 165.1h0M638.9 165.1h0M675.8 167.1h0M663.2 169.5h0M664.3 172.9h0M593.5 173.5h0M631.0 174.0h0M624.6 177.7h0M640.4 177.0h0M620.2 179.0h0M592.7 183.8h0M603.9 182.9h0M639.8 183.8h0M587.5 184.8h0M670.5 184.3h0M612.8 189.8h0M628.4 189.2h0M643.1 190.9h0M636.8 193.5h0M659.8 193.8h0M672.4 193.1h0M611.9 194.8h0M601.4 195.0h0M618.5 197.3h0M665.9 197.7h0M640.3 198.1h0" stroke="#1a961e" stroke-width="4.8" stroke-linecap="round"/><path d="M595.6 107.5h0M607.4 107.5h0M623.5 109.8h0M591.5 110.2h0M667.0 110.1h0M659.3 113.2h0M621.3 114.6h0M660.5 115.4h0M669.5 117.3h0M639.4 118.3h0M659.8 117.9h0M671.7 118.7h0M589.7 122.7h0M614.5 122.0h0M593.2 123.3h0M626.0 123.7h0M600.6 124.0h0M592.8 127.6h0M596.8 127.3h0M613.6 128.8h0M647.6 128.3h0M662.2 128.3h0M676.6 128.4h0M589.6 129.6h0M642.6 132.6h0M629.4 133.5h0M673.2 132.9h0M667.8 134.0h0M651.3 138.5h0M661.0 139.2h0M597.7 141.8h0M643.2 141.0h0M644.2 141.2h0M614.0 142.1h0M603.3 143.8h0M640.6 143.2h0M625.6 143.9h0M634.7 144.1h0M676.4 144.4h0M647.8 145.3h0M649.1 145.5h0M623.7 147.9h0M677.2 151.7h0M633.4 153.0h0M648.8 153.5h0M588.7 154.7h0M667.6 154.2h0M592.7 155.4h0M656.1 155.0h0M676.9 155.4h0M587.5 156.6h0M588.5 156.1h0M668.2 156.1h0M598.2 163.6h0M653.3 163.4h0M599.0 165.3h0M600.5 165.4h0M672.1 164.9h0M591.6 166.0h0M641.3 167.7h0M666.1 167.1h0M634.4 168.0h0M644.9 168.5h0M641.6 169.9h0M653.1 169.4h0M603.8 170.6h0M645.0 170.1h0M593.8 171.2h0M610.0 171.8h0M672.7 172.4h0M588.1 175.9h0M648.9 176.3h0M672.2 176.0h0M641.4 177.4h0M608.0 178.0h0M629.1 179.0h0M674.1 179.9h0M589.0 180.9h0M595.2 180.9h0M628.2 182.0h0M620.1 183.7h0M655.7 183.6h0M591.6 185.1h0M668.1 185.7h0M623.8 186.3h0M602.3 188.2h0M595.2 189.0h0M602.7 189.5h0M607.5 189.2h0M661.6 189.4h0M590.5 191.6h0M649.7 191.3h0M649.6 191.1h0M652.2 191.7h0M604.0 193.9h0M642.3 193.4h0M653.5 194.1h0M672.4 194.3h0M594.3 195.5h0M626.2 196.4h0M659.4 197.2h0M594.8 198.7h0" stroke="#22c026" stroke-width="5" stroke-linecap="round"/><path d="M597.6 108.2h0M601.9 109.1h0M604.7 115.8h0M645.8 118.8h0M652.7 118.2h0M605.9 122.0h0M635.1 122.0h0M640.5 124.5h0M630.8 127.6h0M651.7 127.2h0M664.4 128.2h0M653.1 130.1h0M587.3 136.5h0M638.2 138.1h0M586.0 139.4h0M668.7 139.5h0M602.5 141.9h0M673.6 142.1h0M647.1 143.2h0M603.1 146.2h0M631.2 146.3h0M615.7 148.0h0M633.6 152.5h0M670.2 154.4h0M617.6 156.3h0M617.1 157.4h0M654.9 158.2h0M615.3 159.1h0M622.1 159.5h0M629.2 159.2h0M590.5 160.2h0M600.3 160.9h0M595.2 161.1h0M655.0 163.3h0M633.2 164.2h0M643.0 164.6h0M644.1 164.3h0M677.9 164.7h0M591.9 166.6h0M641.0 166.5h0M661.4 167.4h0M667.9 169.2h0M621.6 170.5h0M601.6 171.1h0M603.7 174.6h0M589.8 177.1h0M656.4 179.3h0M624.1 180.2h0M666.5 180.0h0M660.8 181.4h0M656.3 183.5h0M674.2 184.0h0M620.3 185.5h0M587.3 186.2h0M634.5 187.6h0M617.4 189.1h0M644.1 189.0h0M633.4 190.6h0M633.4 191.7h0M651.3 193.9h0" stroke="#36ec3a" stroke-width="5.5" stroke-linecap="round"/><path d="M661.7 124.6h0M646.4 125.0h0M633.5 126.8h0M592.0 127.9h0M636.1 129.4h0M639.1 129.1h0M651.5 156.3h0M670.8 163.2h0M671.6 167.6h0M587.5 173.8h0M665.7 175.6h0M640.6 188.5h0M656.5 190.6h0M595.8 192.7h0" stroke="#80208a" stroke-width="5" stroke-linecap="round"/><path d="M608.3 117.7h0M628.0 122.9h0M591.1 123.5h0M646.9 123.2h0M629.1 130.7h0M615.6 134.4h0M617.7 140.6h0M657.3 141.7h0M664.0 166.6h0M627.0 172.4h0M595.8 178.7h0M601.7 192.2h0" stroke="#b034b8" stroke-width="5.5" stroke-linecap="round"/></g></g><rect x="586.9" y="107.9" width="90.1" height="90.8" fill="none" stroke="#f4f4f4" stroke-width="2"/><rect x="526.75" y="127.75" width="12.600000000000001" height="12.4" fill="none" stroke="#f0f0f0" stroke-width="1.7"/><rect x="614.7" y="35.0" width="52.3" height="7.9" fill="#fff"/><rect x="656.7" y="119.4" width="14.2" height="6.6" fill="#fff"/><text x="504.8" y="43.3" font-size="24" font-weight="bold" style="fill:#fff">e</text><g filter="url(#dotblur)"><circle cx="96.4" cy="116.9" r="1.7" fill="#d060d8"/><circle cx="328" cy="125.3" r="1.6" fill="#c050c8"/><circle cx="533.6" cy="131.8" r="1.7" fill="#c858d0"/></g><g clip-path="url(#iclipa)" filter="url(#bb)"><circle cx="205" cy="182" r="5" fill="#1f7022"/><circle cx="213" cy="188" r="5" fill="#1c6a1f"/><circle cx="199" cy="190" r="4.5" fill="#1a641c"/><circle cx="218" cy="178" r="3.5" fill="#1a601c"/><circle cx="166" cy="156" r="4" fill="#1a601c"/></g><g clip-path="url(#iclipa)"><circle cx="179" cy="164" r="11" fill="url(#bm)"/><circle cx="175" cy="163" r="4" fill="url(#bw)"/></g><g clip-path="url(#iclipc)"><path d="M419 141 C423 139 426 142 427 146 C428 150 430 154 428 156 C425 158 419 157 415 155 C412 153 413 149 415 146 Z" fill="#ff3cff" filter="url(#bb)"/><circle cx="438.5" cy="114.6" r="5" fill="url(#bg)"/></g><g clip-path="url(#iclipe)"><circle cx="635.6" cy="139" r="10" fill="url(#bm)"/></g><path d="M66.0 388.4H250.4M66.0 482.8H250.4" stroke="#111" stroke-width="1.3" stroke-dasharray="14 14.45" fill="none"/><path d="M66.0 388.4h2M250.4 388.4h-2M66.0 354.6h2M250.4 354.6h-2M66.0 320.8h2M250.4 320.8h-2M66.0 287.0h2M250.4 287.0h-2M66.0 253.2h2M250.4 253.2h-2M66.0 543.6h2M250.4 543.6h-2M66.0 482.8h2M250.4 482.8h-2M139.8 240.1v2M139.8 422.2v-2M139.8 422.2v2M139.8 604.5v-2M213.5 240.1v2M213.5 422.2v-2M213.5 422.2v2M213.5 604.5v-2" stroke="#111" stroke-width="1.2" fill="none"/><rect x="66.0" y="240.1" width="184.4" height="364.4" fill="none" stroke="#111" stroke-width="1.5"/><path d="M66.0 422.2H250.4" stroke="#111" stroke-width="1.5"/><path d="M280.5 388.4H464.9M280.5 482.8H464.9" stroke="#111" stroke-width="1.3" stroke-dasharray="14 14.45" fill="none"/><path d="M280.5 388.4h2M464.9 388.4h-2M280.5 354.6h2M464.9 354.6h-2M280.5 320.8h2M464.9 320.8h-2M280.5 287.0h2M464.9 287.0h-2M280.5 253.2h2M464.9 253.2h-2M280.5 543.6h2M464.9 543.6h-2M280.5 482.8h2M464.9 482.8h-2M354.3 240.1v2M354.3 422.2v-2M354.3 422.2v2M354.3 604.5v-2M428.0 240.1v2M428.0 422.2v-2M428.0 422.2v2M428.0 604.5v-2" stroke="#111" stroke-width="1.2" fill="none"/><rect x="280.5" y="240.1" width="184.4" height="364.4" fill="none" stroke="#111" stroke-width="1.5"/><path d="M280.5 422.2H464.9" stroke="#111" stroke-width="1.5"/><path d="M499.9 388.4H684.3M499.9 482.8H684.3" stroke="#111" stroke-width="1.3" stroke-dasharray="14 14.45" fill="none"/><path d="M499.9 388.4h2M684.3 388.4h-2M499.9 354.6h2M684.3 354.6h-2M499.9 320.8h2M684.3 320.8h-2M499.9 287.0h2M684.3 287.0h-2M499.9 253.2h2M684.3 253.2h-2M499.9 543.6h2M684.3 543.6h-2M499.9 482.8h2M684.3 482.8h-2M573.7 240.1v2M573.7 422.2v-2M573.7 422.2v2M573.7 604.5v-2M647.4 240.1v2M647.4 422.2v-2M647.4 422.2v2M647.4 604.5v-2" stroke="#111" stroke-width="1.2" fill="none"/><rect x="499.9" y="240.1" width="184.4" height="364.4" fill="none" stroke="#111" stroke-width="1.5"/><path d="M499.9 422.2H684.3" stroke="#111" stroke-width="1.5"/><path d="M75.2 357.6V391.0M68.4 357.6H82.0M68.4 391.0H82.0" stroke="#f0f" stroke-width="1.3" fill="none"/><path d="M93.7 356.3V375.3M86.9 356.3H100.5M86.9 375.3H100.5" stroke="#f0f" stroke-width="1.3" fill="none"/><path d="M112.1 376.5V389.3M105.3 376.5H118.9M105.3 389.3H118.9" stroke="#f0f" stroke-width="1.3" fill="none"/><path d="M130.5 375.8V385.8M123.7 375.8H137.3M123.7 385.8H137.3" stroke="#f0f" stroke-width="1.3" fill="none"/><path d="M149.0 376.5V384.5M142.2 376.5H155.8M142.2 384.5H155.8" stroke="#f0f" stroke-width="1.3" fill="none"/><path d="M167.4 379.6V383.6M160.6 379.6H174.2M160.6 383.6H174.2" stroke="#f0f" stroke-width="1.3" fill="none"/><path d="M185.9 380.8V384.8M179.1 380.8H192.7M179.1 384.8H192.7" stroke="#f0f" stroke-width="1.3" fill="none"/><path d="M204.3 384.3V389.3M197.5 384.3H211.1M197.5 389.3H211.1" stroke="#f0f" stroke-width="1.3" fill="none"/><path d="M222.7 386.2V391.2M215.9 386.2H229.5M215.9 391.2H229.5" stroke="#f0f" stroke-width="1.3" fill="none"/><path d="M241.2 386.5V391.5M234.4 386.5H248.0M234.4 391.5H248.0" stroke="#f0f" stroke-width="1.3" fill="none"/><polyline points="75.2,374.3 93.7,365.8 112.1,382.9 130.5,380.8 149.0,380.5 167.4,381.6 185.9,382.8 204.3,386.8 222.7,388.7 241.2,389.0" stroke="#f0f" stroke-width="1.2" fill="none"/><rect x="70.7" y="369.8" width="9.0" height="9.0" fill="#f0f"/><rect x="89.2" y="361.3" width="9.0" height="9.0" fill="#f0f"/><rect x="107.6" y="378.4" width="9.0" height="9.0" fill="#f0f"/><rect x="126.0" y="376.3" width="9.0" height="9.0" fill="#f0f"/><rect x="144.5" y="376.0" width="9.0" height="9.0" fill="#f0f"/><rect x="162.9" y="377.1" width="9.0" height="9.0" fill="#f0f"/><rect x="181.4" y="378.3" width="9.0" height="9.0" fill="#f0f"/><rect x="199.8" y="382.3" width="9.0" height="9.0" fill="#f0f"/><rect x="218.2" y="384.2" width="9.0" height="9.0" fill="#f0f"/><rect x="236.7" y="384.5" width="9.0" height="9.0" fill="#f0f"/><path d="M75.2 282.8V316.2M68.4 282.8H82.0M68.4 316.2H82.0" stroke="#000" stroke-width="1.3" fill="none"/><path d="M93.7 302.4V321.4M86.9 302.4H100.5M86.9 321.4H100.5" stroke="#000" stroke-width="1.3" fill="none"/><path d="M112.1 329.5V343.1M105.3 329.5H118.9M105.3 343.1H118.9" stroke="#000" stroke-width="1.3" fill="none"/><path d="M130.5 369.3V378.3M123.7 369.3H137.3M123.7 378.3H137.3" stroke="#000" stroke-width="1.3" fill="none"/><path d="M149.0 377.4V385.4M142.2 377.4H155.8M142.2 385.4H155.8" stroke="#000" stroke-width="1.3" fill="none"/><path d="M167.4 383.1V390.1M160.6 383.1H174.2M160.6 390.1H174.2" stroke="#000" stroke-width="1.3" fill="none"/><path d="M185.9 386.0V393.6M179.1 386.0H192.7M179.1 393.6H192.7" stroke="#000" stroke-width="1.3" fill="none"/><path d="M204.3 391.2V399.2M197.5 391.2H211.1M197.5 399.2H211.1" stroke="#000" stroke-width="1.3" fill="none"/><path d="M222.7 389.4V396.4M215.9 389.4H229.5M215.9 396.4H229.5" stroke="#000" stroke-width="1.3" fill="none"/><path d="M241.2 390.5V397.5M234.4 390.5H248.0M234.4 397.5H248.0" stroke="#000" stroke-width="1.3" fill="none"/><polyline points="75.2,299.5 93.7,311.9 112.1,336.3 130.5,373.8 149.0,381.4 167.4,386.6 185.9,389.8 204.3,395.2 222.7,392.9 241.2,394.0" stroke="#000" stroke-width="1.2" fill="none"/><circle cx="75.2" cy="299.5" r="5.0" fill="#000"/><circle cx="93.7" cy="311.9" r="5.0" fill="#000"/><circle cx="112.1" cy="336.3" r="5.0" fill="#000"/><circle cx="130.5" cy="373.8" r="5.0" fill="#000"/><circle cx="149.0" cy="381.4" r="5.0" fill="#000"/><circle cx="167.4" cy="386.6" r="5.0" fill="#000"/><circle cx="185.9" cy="389.8" r="5.0" fill="#000"/><circle cx="204.3" cy="395.2" r="5.0" fill="#000"/><circle cx="222.7" cy="392.9" r="5.0" fill="#000"/><circle cx="241.2" cy="394.0" r="5.0" fill="#000"/><path d="M75.2 493.8V518.2M68.4 493.8H82.0M68.4 518.2H82.0" stroke="#f0f" stroke-width="1.3" fill="none"/><path d="M93.7 511.8V524.8M86.9 511.8H100.5M86.9 524.8H100.5" stroke="#f0f" stroke-width="1.3" fill="none"/><path d="M112.1 486.6V497.8M105.3 486.6H118.9M105.3 497.8H118.9" stroke="#f0f" stroke-width="1.3" fill="none"/><path d="M130.5 495.5V503.9M123.7 495.5H137.3M123.7 503.9H137.3" stroke="#f0f" stroke-width="1.3" fill="none"/><path d="M149.0 487.5V494.5M142.2 487.5H155.8M142.2 494.5H155.8" stroke="#f0f" stroke-width="1.3" fill="none"/><path d="M167.4 489.3V496.3M160.6 489.3H174.2M160.6 496.3H174.2" stroke="#f0f" stroke-width="1.3" fill="none"/><path d="M185.9 485.9V492.9M179.1 485.9H192.7M179.1 492.9H192.7" stroke="#f0f" stroke-width="1.3" fill="none"/><path d="M204.3 480.4V487.4M197.5 480.4H211.1M197.5 487.4H211.1" stroke="#f0f" stroke-width="1.3" fill="none"/><path d="M222.7 475.0V482.0M215.9 475.0H229.5M215.9 482.0H229.5" stroke="#f0f" stroke-width="1.3" fill="none"/><path d="M241.2 476.3V483.3M234.4 476.3H248.0M234.4 483.3H248.0" stroke="#f0f" stroke-width="1.3" fill="none"/><polyline points="75.2,506.0 93.7,518.3 112.1,492.2 130.5,499.7 149.0,491.0 167.4,492.8 185.9,489.4 204.3,483.9 222.7,478.5 241.2,479.8" stroke="#f0f" stroke-width="1.2" fill="none"/><rect x="70.7" y="501.5" width="9.0" height="9.0" fill="#f0f"/><rect x="89.2" y="513.8" width="9.0" height="9.0" fill="#f0f"/><rect x="107.6" y="487.7" width="9.0" height="9.0" fill="#f0f"/><rect x="126.0" y="495.2" width="9.0" height="9.0" fill="#f0f"/><rect x="144.5" y="486.5" width="9.0" height="9.0" fill="#f0f"/><rect x="162.9" y="488.3" width="9.0" height="9.0" fill="#f0f"/><rect x="181.4" y="484.9" width="9.0" height="9.0" fill="#f0f"/><rect x="199.8" y="479.4" width="9.0" height="9.0" fill="#f0f"/><rect x="218.2" y="474.0" width="9.0" height="9.0" fill="#f0f"/><rect x="236.7" y="475.3" width="9.0" height="9.0" fill="#f0f"/><path d="M75.2 571.5V597.5M68.4 571.5H82.0M68.4 597.5H82.0" stroke="#000" stroke-width="1.3" fill="none"/><path d="M93.7 566.5V582.3M86.9 566.5H100.5M86.9 582.3H100.5" stroke="#000" stroke-width="1.3" fill="none"/><path d="M112.1 545.4V558.4M105.3 545.4H118.9M105.3 558.4H118.9" stroke="#000" stroke-width="1.3" fill="none"/><path d="M130.5 499.6V513.6M123.7 499.6H137.3M123.7 513.6H137.3" stroke="#000" stroke-width="1.3" fill="none"/><path d="M149.0 487.9V500.9M142.2 487.9H155.8M142.2 500.9H155.8" stroke="#000" stroke-width="1.3" fill="none"/><path d="M167.4 479.6V492.6M160.6 479.6H174.2M160.6 492.6H174.2" stroke="#000" stroke-width="1.3" fill="none"/><path d="M185.9 474.3V485.3M179.1 474.3H192.7M179.1 485.3H192.7" stroke="#000" stroke-width="1.3" fill="none"/><path d="M204.3 464.4V475.8M197.5 464.4H211.1M197.5 475.8H211.1" stroke="#000" stroke-width="1.3" fill="none"/><path d="M222.7 469.3V479.3M215.9 469.3H229.5M215.9 479.3H229.5" stroke="#000" stroke-width="1.3" fill="none"/><path d="M241.2 466.3V477.3M234.4 466.3H248.0M234.4 477.3H248.0" stroke="#000" stroke-width="1.3" fill="none"/><polyline points="75.2,584.5 93.7,574.4 112.1,551.9 130.5,506.6 149.0,494.4 167.4,486.1 185.9,479.8 204.3,470.1 222.7,474.3 241.2,471.8" stroke="#000" stroke-width="1.2" fill="none"/><circle cx="75.2" cy="584.5" r="5.0" fill="#000"/><circle cx="93.7" cy="574.4" r="5.0" fill="#000"/><circle cx="112.1" cy="551.9" r="5.0" fill="#000"/><circle cx="130.5" cy="506.6" r="5.0" fill="#000"/><circle cx="149.0" cy="494.4" r="5.0" fill="#000"/><circle cx="167.4" cy="486.1" r="5.0" fill="#000"/><circle cx="185.9" cy="479.8" r="5.0" fill="#000"/><circle cx="204.3" cy="470.1" r="5.0" fill="#000"/><circle cx="222.7" cy="474.3" r="5.0" fill="#000"/><circle cx="241.2" cy="471.8" r="5.0" fill="#000"/><path d="M298.9 359.8V381.6M295.2 359.8H302.6M295.2 381.6H302.6" stroke="#f0f" stroke-width="1.3" fill="none"/><path d="M335.8 377.6V380.6M332.1 377.6H339.5M332.1 380.6H339.5" stroke="#f0f" stroke-width="1.3" fill="none"/><path d="M372.7 379.0V382.0M369.0 379.0H376.4M369.0 382.0H376.4" stroke="#f0f" stroke-width="1.3" fill="none"/><path d="M409.6 386.4V389.4M405.9 386.4H413.3M405.9 389.4H413.3" stroke="#f0f" stroke-width="1.3" fill="none"/><path d="M446.5 393.1V396.1M442.8 393.1H450.2M442.8 396.1H450.2" stroke="#f0f" stroke-width="1.3" fill="none"/><polyline points="298.9,370.7 335.8,379.1 372.7,380.5 409.6,387.9 446.5,394.6 464.9,391.7" stroke="#f0f" stroke-width="1.2" fill="none"/><rect x="293.9" y="365.7" width="10.0" height="10.0" fill="#f0f"/><rect x="330.8" y="374.1" width="10.0" height="10.0" fill="#f0f"/><rect x="367.7" y="375.5" width="10.0" height="10.0" fill="#f0f"/><rect x="404.6" y="382.9" width="10.0" height="10.0" fill="#f0f"/><rect x="441.5" y="389.6" width="10.0" height="10.0" fill="#f0f"/><path d="M298.9 335.6V354.4M295.2 335.6H302.6M295.2 354.4H302.6" stroke="#000" stroke-width="1.3" fill="none"/><path d="M335.8 351.6V372.4M332.1 351.6H339.5M332.1 372.4H339.5" stroke="#000" stroke-width="1.3" fill="none"/><path d="M372.7 373.0V381.0M369.0 373.0H376.4M369.0 381.0H376.4" stroke="#000" stroke-width="1.3" fill="none"/><path d="M409.6 379.3V385.3M405.9 379.3H413.3M405.9 385.3H413.3" stroke="#000" stroke-width="1.3" fill="none"/><path d="M446.5 371.2V385.8M442.8 371.2H450.2M442.8 385.8H450.2" stroke="#000" stroke-width="1.3" fill="none"/><polyline points="298.9,345.0 335.8,362.0 372.7,377.0 409.6,382.3 446.5,378.5 464.9,382.3" stroke="#000" stroke-width="1.2" fill="none"/><circle cx="298.9" cy="345.0" r="6.1" fill="#000"/><circle cx="335.8" cy="362.0" r="6.1" fill="#000"/><circle cx="372.7" cy="377.0" r="6.1" fill="#000"/><circle cx="409.6" cy="382.3" r="6.1" fill="#000"/><circle cx="446.5" cy="378.5" r="6.1" fill="#000"/><path d="M298.9 495.4V526.2M295.2 495.4H302.6M295.2 526.2H302.6" stroke="#f0f" stroke-width="1.3" fill="none"/><path d="M335.8 494.6V500.6M332.1 494.6H339.5M332.1 500.6H339.5" stroke="#f0f" stroke-width="1.3" fill="none"/><path d="M372.7 492.3V498.3M369.0 492.3H376.4M369.0 498.3H376.4" stroke="#f0f" stroke-width="1.3" fill="none"/><path d="M409.6 477.9V486.9M405.9 477.9H413.3M405.9 486.9H413.3" stroke="#f0f" stroke-width="1.3" fill="none"/><path d="M446.5 469.1V475.1M442.8 469.1H450.2M442.8 475.1H450.2" stroke="#f0f" stroke-width="1.3" fill="none"/><polyline points="298.9,510.8 335.8,497.6 372.7,495.3 409.6,482.4 446.5,472.1 464.9,477.7" stroke="#f0f" stroke-width="1.2" fill="none"/><rect x="293.9" y="505.8" width="10.0" height="10.0" fill="#f0f"/><rect x="330.8" y="492.6" width="10.0" height="10.0" fill="#f0f"/><rect x="367.7" y="490.3" width="10.0" height="10.0" fill="#f0f"/><rect x="404.6" y="477.4" width="10.0" height="10.0" fill="#f0f"/><rect x="441.5" y="467.1" width="10.0" height="10.0" fill="#f0f"/><path d="M298.9 533.4V553.8M295.2 533.4H302.6M295.2 553.8H302.6" stroke="#000" stroke-width="1.3" fill="none"/><path d="M335.8 508.3V535.5M332.1 508.3H339.5M332.1 535.5H339.5" stroke="#000" stroke-width="1.3" fill="none"/><path d="M372.7 496.6V508.6M369.0 496.6H376.4M369.0 508.6H376.4" stroke="#000" stroke-width="1.3" fill="none"/><path d="M409.6 485.3V499.9M405.9 485.3H413.3M405.9 499.9H413.3" stroke="#000" stroke-width="1.3" fill="none"/><path d="M446.5 486.5V509.9M442.8 486.5H450.2M442.8 509.9H450.2" stroke="#000" stroke-width="1.3" fill="none"/><polyline points="298.9,543.6 335.8,521.9 372.7,502.6 409.6,492.6 446.5,498.2 464.9,491.2" stroke="#000" stroke-width="1.2" fill="none"/><circle cx="298.9" cy="543.6" r="6.1" fill="#000"/><circle cx="335.8" cy="521.9" r="6.1" fill="#000"/><circle cx="372.7" cy="502.6" r="6.1" fill="#000"/><circle cx="409.6" cy="492.6" r="6.1" fill="#000"/><circle cx="446.5" cy="498.2" r="6.1" fill="#000"/><path d="M518.3 405.8V409.8M514.6 405.8H522.0M514.6 409.8H522.0" stroke="#000" stroke-width="1.3" fill="none"/><path d="M555.2 402.0V406.0M551.5 402.0H558.9M551.5 406.0H558.9" stroke="#000" stroke-width="1.3" fill="none"/><path d="M592.1 399.0V403.0M588.4 399.0H595.8M588.4 403.0H595.8" stroke="#000" stroke-width="1.3" fill="none"/><path d="M629.0 385.9V389.9M625.3 385.9H632.7M625.3 389.9H632.7" stroke="#000" stroke-width="1.3" fill="none"/><path d="M665.9 383.5V387.5M662.2 383.5H669.6M662.2 387.5H669.6" stroke="#000" stroke-width="1.3" fill="none"/><polyline points="518.3,407.8 555.2,404.0 592.1,401.0 629.0,387.9 665.9,385.5 684.3,387.3" stroke="#000" stroke-width="1.2" fill="none"/><circle cx="518.3" cy="407.8" r="6.1" fill="#000"/><circle cx="555.2" cy="404.0" r="6.1" fill="#000"/><circle cx="592.1" cy="401.0" r="6.1" fill="#000"/><circle cx="629.0" cy="387.9" r="6.1" fill="#000"/><circle cx="665.9" cy="385.5" r="6.1" fill="#000"/><path d="M518.3 430.0V451.2M514.6 430.0H522.0M514.6 451.2H522.0" stroke="#000" stroke-width="1.3" fill="none"/><path d="M555.2 444.6V456.8M551.5 444.6H558.9M551.5 456.8H558.9" stroke="#000" stroke-width="1.3" fill="none"/><path d="M592.1 455.5V459.5M588.4 455.5H595.8M588.4 459.5H595.8" stroke="#000" stroke-width="1.3" fill="none"/><path d="M629.0 481.0V485.0M625.3 481.0H632.7M625.3 485.0H632.7" stroke="#000" stroke-width="1.3" fill="none"/><path d="M665.9 484.8V488.8M662.2 484.8H669.6M662.2 488.8H669.6" stroke="#000" stroke-width="1.3" fill="none"/><polyline points="518.3,440.6 555.2,450.7 592.1,457.5 629.0,483.0 665.9,486.8 684.3,482.4" stroke="#000" stroke-width="1.2" fill="none"/><circle cx="518.3" cy="440.6" r="6.1" fill="#000"/><circle cx="555.2" cy="450.7" r="6.1" fill="#000"/><circle cx="592.1" cy="457.5" r="6.1" fill="#000"/><circle cx="629.0" cy="483.0" r="6.1" fill="#000"/><circle cx="665.9" cy="486.8" r="6.1" fill="#000"/><text x="158.5" y="16.1" font-size="19" text-anchor="middle" >BCR/Lyn</text><text x="373" y="16.1" font-size="19" text-anchor="middle" >BCR/Lyn + PP2</text><text x="583.5" y="16.1" font-size="19" text-anchor="middle" >BCR/GG</text><text x="58.3" y="259.8" font-size="18.5" text-anchor="end" >3</text><text x="58.3" y="293.6" font-size="18.5" text-anchor="end" >2.5</text><text x="58.3" y="327.40000000000003" font-size="18.5" text-anchor="end" >2</text><text x="58.3" y="361.20000000000005" font-size="18.5" text-anchor="end" >1.5</text><text x="58.3" y="395.0" font-size="18.5" text-anchor="end" >1</text><text x="58.3" y="428.8" font-size="18.5" text-anchor="end" >0.5</text><text x="58.3" y="489.40000000000003" font-size="18.5" text-anchor="end" >0</text><text x="58.3" y="611.1" font-size="18.5" text-anchor="end" >−1</text><text x="66.0" y="625.7" font-size="18.5" text-anchor="middle" >0</text><text x="139.76" y="625.7" font-size="18.5" text-anchor="middle" >200</text><text x="213.52" y="625.7" font-size="18.5" text-anchor="middle" >400</text><text x="280.5" y="625.7" font-size="18.5" text-anchor="middle" >0</text><text x="354.26" y="625.7" font-size="18.5" text-anchor="middle" >200</text><text x="428.02" y="625.7" font-size="18.5" text-anchor="middle" >400</text><text x="499.9" y="625.7" font-size="18.5" text-anchor="middle" >0</text><text x="573.66" y="625.7" font-size="18.5" text-anchor="middle" >200</text><text x="647.42" y="625.7" font-size="18.5" text-anchor="middle" >400</text><text x="373.2" y="661.8" font-size="19" text-anchor="middle" >Interparticle distance (nm)</text><text x="71.2" y="263.6" font-size="24" text-anchor="start" font-weight="bold">b</text><text x="286.6" y="264.2" font-size="24" text-anchor="start" font-weight="bold">d</text><text x="505.6" y="264.2" font-size="24" text-anchor="start" font-weight="bold">f</text><text transform="translate(16.0 331) rotate(-90)" font-size="19" text-anchor="middle"><tspan font-style="italic">C</tspan>(<tspan font-style="italic">r</tspan>)</text><text transform="translate(17.0 510) rotate(-90)" font-size="18.5" text-anchor="middle">PMF (<tspan font-style="italic">k</tspan><tspan font-size="13" dy="4">B</tspan><tspan dy="-4" dx="2.5" font-style="italic">T</tspan>)</text><path d="M328 268.4H398.8" stroke="#f0f" stroke-width="1.1"/><rect x="358.6" y="263.6" width="10.2" height="10.2" fill="#f0f"/><path d="M328 295.6H398.8" stroke="#000" stroke-width="1.2"/><circle cx="363.7" cy="295.7" r="5.8" fill="#000"/><text x="406.5" y="276.6" font-size="19" text-anchor="start" >−Ag</text><text x="406.5" y="304.0" font-size="19" text-anchor="start" >+Ag</text></svg></body></html>
